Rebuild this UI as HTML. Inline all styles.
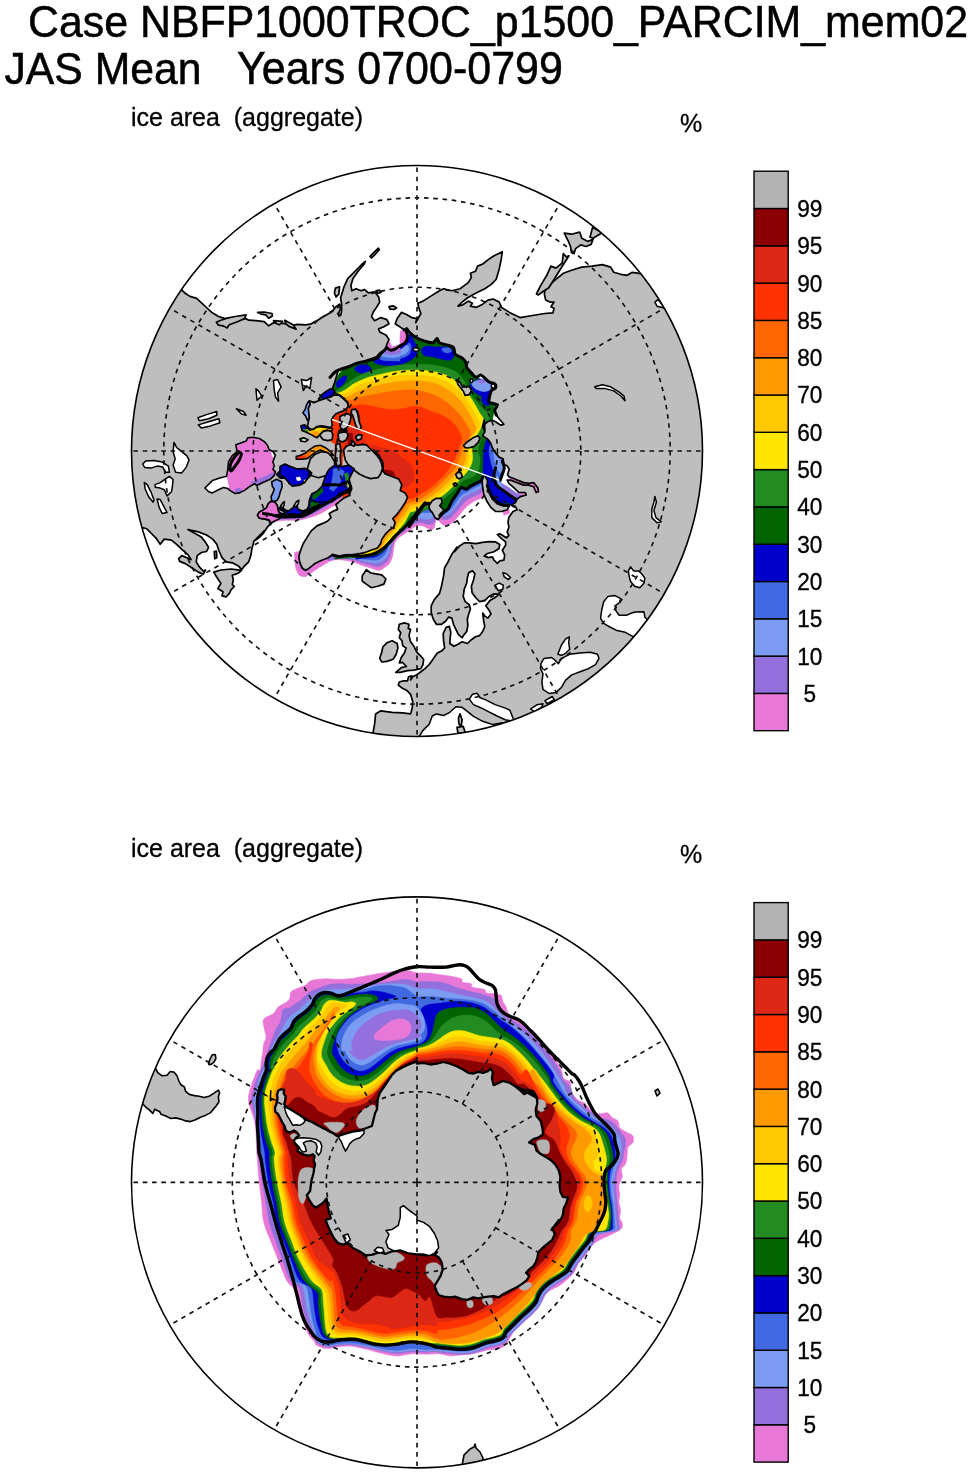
<!DOCTYPE html>
<html><head><meta charset="utf-8"><title>ice area JAS Mean</title>
<style>html,body{margin:0;padding:0;background:#fff}svg{display:block}text{font-family:"Liberation Sans",Arial,Helvetica,sans-serif;fill:#000}</style>
</head><body>
<svg width="971" height="1474" viewBox="0 0 971 1474">
<rect width="971" height="1474" fill="#fff"/>
<g stroke="#000" stroke-width="0.5">
<text transform="translate(28,37.2) scale(1,1.06)" font-size="42.7" textLength="940" lengthAdjust="spacingAndGlyphs">Case NBFP1000TROC_p1500_PARCIM_mem02</text>
<text transform="translate(4.5,84) scale(1,1.06)" font-size="42.7">JAS Mean</text>
<text transform="translate(237,84) scale(1,1.06)" font-size="43">Years 0700-0799</text>
</g>
<text transform="translate(131,125.5) scale(1,1.06)" font-size="25" stroke="#000" stroke-width="0.3" xml:space="preserve">ice area  (aggregate)</text>
<text transform="translate(680,131.5) scale(1,1.04)" font-size="25" stroke="#000" stroke-width="0.3">%</text>

<text transform="translate(131,856.9) scale(1,1.06)" font-size="25" stroke="#000" stroke-width="0.3" xml:space="preserve">ice area  (aggregate)</text>
<text transform="translate(680,862.9) scale(1,1.04)" font-size="25" stroke="#000" stroke-width="0.3">%</text>
<clipPath id="cn"><circle cx="417.0" cy="451.0" r="285.5"/></clipPath>
<g clip-path="url(#cn)">
<circle cx="417.0" cy="451.0" r="287.5" fill="#fff"/>
<path d="M508.9 476.8L515.5 479.0L523.7 482.6L528.6 483.4L533.6 482.6L537.7 487.6L538.5 491.7L536.1 492.5L533.6 486.7L528.6 485.1L523.7 485.1L517.1 482.6L510.5 480.1Z" fill="#e878d8" stroke="#e878d8" stroke-width="0.6"/>
<path d="M518.8 492.5L525.3 492.5L526.2 495.0L520.4 496.6Z" fill="#e878d8" stroke="#e878d8" stroke-width="0.6"/>
<path d="M484.2 492.5C483.9 496.1 482.4 496.9 480.9 498.3C479.3 499.6 477.0 499.7 475.1 500.7C473.2 501.8 471.0 503.1 469.3 504.4C467.7 505.6 466.7 506.6 465.2 508.2C463.7 509.7 461.9 512.0 460.3 513.9C458.6 515.8 457.0 518.0 455.3 519.7C453.7 521.4 452.0 523.2 450.4 524.1C448.7 525.1 446.9 525.6 445.4 525.5C443.9 525.3 442.4 524.4 441.3 523.5C440.2 522.5 438.6 521.6 438.8 519.7C439.1 517.8 439.5 517.9 443.0 512.3C446.4 506.6 452.8 491.8 459.4 485.9C466.0 480.0 478.4 475.8 482.5 476.8C486.6 477.9 484.4 488.9 484.2 492.5Z" fill="#e878d8" stroke="#e878d8" stroke-width="0.5"/>
<path d="M483.3 489.2C482.8 492.1 480.7 493.0 479.2 494.2C477.7 495.3 476.0 495.3 474.3 496.1C472.5 497.0 470.1 498.1 468.5 499.1C466.8 500.1 465.9 500.9 464.4 502.4C462.9 503.9 461.1 506.2 459.4 508.2C457.8 510.1 456.1 512.2 454.5 513.9C452.8 515.7 451.1 517.6 449.5 518.5C448.0 519.5 446.7 519.7 445.4 519.7C444.2 519.7 442.5 519.8 442.1 518.5C441.7 517.3 440.1 517.7 443.0 512.3C445.8 506.8 452.8 491.8 459.4 485.9C466.0 480.0 478.5 476.3 482.5 476.8C486.5 477.4 483.9 486.3 483.3 489.2Z" fill="#9370db" stroke="#9370db" stroke-width="0.5"/>
<path d="M482.5 485.9C481.7 488.1 479.2 489.0 477.6 490.0C475.9 491.1 474.3 491.4 472.6 492.2C471.0 492.9 469.3 493.6 467.7 494.5C466.0 495.4 464.2 496.0 462.7 497.4C461.2 498.9 460.1 501.3 458.6 503.2C457.1 505.1 455.2 507.2 453.7 509.0C452.1 510.8 450.6 512.8 449.2 513.9C447.8 515.0 446.5 515.8 445.4 515.6C444.4 515.3 440.6 517.2 443.0 512.3C445.3 507.3 452.8 491.8 459.4 485.9C466.0 480.0 478.7 476.8 482.5 476.8C486.3 476.8 483.3 483.7 482.5 485.9Z" fill="#7b9cf0" stroke="#7b9cf0" stroke-width="0.5"/>
<path d="M481.7 483.4C480.7 485.1 478.4 485.8 476.7 486.7C475.1 487.7 473.4 488.3 471.8 489.2C470.1 490.1 468.4 491.3 466.8 492.2C465.3 493.0 463.9 493.0 462.4 494.2C460.9 495.3 459.5 497.3 458.1 499.1C456.7 500.9 455.6 502.9 454.2 504.9C452.7 506.8 451.0 509.2 449.5 510.6C448.1 512.1 446.5 513.3 445.4 513.6C444.3 513.9 440.6 516.9 443.0 512.3C445.3 507.7 452.8 491.8 459.4 485.9C466.0 480.0 478.8 477.3 482.5 476.8C486.2 476.4 482.6 481.8 481.7 483.4Z" fill="#4169e1" stroke="#4169e1" stroke-width="0.5"/>
<path d="M502.3 510.3L508.9 509.0L509.7 513.1L503.9 515.2Z" fill="#e878d8" stroke="#e878d8" stroke-width="0.6"/>
<path d="M434.8 525.9C434.0 530.6 431.9 529.2 430.0 529.2C428.1 529.2 425.5 526.5 423.2 525.9C421.0 525.4 418.8 525.2 416.7 525.9C414.5 526.6 412.3 528.6 410.1 530.0C407.9 531.5 405.4 533.2 403.5 534.5C401.5 535.8 399.9 536.5 398.5 537.8C397.2 539.1 396.1 540.5 395.2 542.4C394.4 544.3 394.0 546.8 393.6 549.0C393.2 551.2 393.3 553.4 392.8 555.6C392.2 557.8 391.5 560.2 390.3 562.2C389.1 564.1 387.3 565.7 385.3 567.1C383.4 568.5 381.2 570.3 378.8 570.4C376.3 570.5 373.3 568.8 370.5 567.9C367.8 567.1 365.0 566.4 362.3 565.5C359.5 564.5 356.8 563.0 354.0 562.2C351.3 561.3 348.8 560.9 345.8 560.5C342.8 560.1 338.9 559.4 335.9 559.7C332.9 560.0 330.4 560.9 327.7 562.2C324.9 563.4 322.2 565.5 319.4 567.1C316.7 568.8 313.5 570.5 311.2 572.0C308.9 573.6 307.3 575.6 305.4 576.2C303.5 576.7 301.2 576.6 299.7 575.3C298.1 574.1 297.1 571.2 296.4 568.8C295.7 566.3 295.4 563.0 295.5 560.5C295.7 558.0 293.2 555.3 297.2 553.9C301.2 552.6 307.5 554.2 319.4 552.3C331.4 550.4 355.1 549.5 368.9 542.4C382.6 535.2 390.8 516.3 401.8 509.4C412.8 502.6 429.3 498.4 434.8 501.2C440.3 503.9 435.6 521.2 434.8 525.9Z" fill="#e878d8" stroke="#e878d8" stroke-width="0.5"/>
<path d="M434.8 521.0C433.7 524.8 430.4 524.0 428.2 524.3C426.0 524.5 423.8 522.8 421.6 522.6C419.4 522.5 417.1 522.6 415.0 523.4C412.9 524.3 411.3 526.0 409.2 527.6C407.2 529.1 404.6 531.1 402.6 532.5C400.7 533.9 399.2 534.8 397.7 536.1C396.2 537.5 394.9 538.9 393.9 540.7C393.0 542.6 392.5 545.1 391.9 547.3C391.4 549.5 391.4 551.9 390.8 553.9C390.2 556.0 389.5 558.0 388.3 559.7C387.1 561.4 385.4 563.0 383.7 564.1C382.0 565.3 380.1 566.6 377.9 566.8C375.7 566.9 373.1 565.8 370.5 565.1C367.9 564.5 365.0 563.8 362.3 563.0C359.5 562.2 356.8 560.9 354.0 560.2C351.3 559.5 348.8 559.1 345.8 558.9C342.8 558.6 338.9 558.3 335.9 558.5C332.9 558.8 330.4 561.2 327.7 560.2C324.9 559.1 312.6 555.2 319.4 552.3C326.3 549.3 355.1 549.5 368.9 542.4C382.6 535.2 390.8 516.3 401.8 509.4C412.8 502.6 429.3 499.3 434.8 501.2C440.3 503.1 435.9 517.1 434.8 521.0Z" fill="#9370db" stroke="#9370db" stroke-width="0.5"/>
<path d="M434.8 516.0C433.4 519.0 429.3 519.0 426.5 519.3C423.8 519.6 420.5 517.7 418.3 517.7C416.1 517.7 415.1 518.1 413.4 519.3C411.7 520.6 410.0 523.2 408.1 525.1C406.2 527.0 403.7 529.0 401.8 530.5C400.0 532.1 398.4 533.1 396.9 534.5C395.4 535.9 393.9 537.2 392.8 539.1C391.7 541.0 390.9 543.5 390.3 545.7C389.7 547.8 389.6 550.0 389.0 551.9C388.3 553.9 387.5 555.7 386.3 557.2C385.2 558.7 383.6 559.9 382.0 560.8C380.5 561.8 379.0 562.8 377.1 563.0C375.2 563.2 373.0 562.6 370.5 562.2C368.0 561.8 365.0 561.1 362.3 560.5C359.5 559.9 356.8 559.0 354.0 558.5C351.3 558.0 348.8 557.7 345.8 557.5C342.8 557.4 332.1 560.1 335.9 557.5C339.8 555.0 357.9 550.4 368.9 542.4C379.9 534.4 390.8 516.3 401.8 509.4C412.8 502.6 429.3 500.1 434.8 501.2C440.3 502.3 436.2 513.0 434.8 516.0Z" fill="#7b9cf0" stroke="#7b9cf0" stroke-width="0.5"/>
<path d="M434.8 511.1C433.4 513.0 429.1 512.5 426.5 512.7C423.9 513.0 421.4 511.9 419.1 512.7C416.9 513.6 415.0 516.1 413.0 518.0C411.1 519.9 409.5 522.1 407.6 523.9C405.7 525.8 403.7 527.6 401.8 529.2C399.9 530.9 397.9 532.3 396.2 533.8C394.6 535.3 393.1 536.6 391.9 538.3C390.7 540.0 389.7 542.1 389.0 544.0C388.2 546.0 388.0 548.0 387.3 549.8C386.6 551.6 385.8 553.3 384.7 554.7C383.6 556.2 382.1 557.5 380.7 558.4C379.3 559.3 378.0 559.9 376.3 560.2C374.6 560.4 372.8 560.1 370.5 559.9C368.2 559.6 365.0 559.3 362.3 558.9C359.5 558.5 356.5 557.9 354.0 557.5C351.6 557.2 345.0 559.4 347.4 556.9C349.9 554.4 359.8 550.3 368.9 542.4C377.9 534.5 390.8 516.3 401.8 509.4C412.8 502.6 429.3 500.9 434.8 501.2C440.3 501.5 436.2 509.2 434.8 511.1Z" fill="#4169e1" stroke="#4169e1" stroke-width="0.5"/>
<path d="M434.8 506.1C433.7 506.7 430.4 504.1 428.2 504.5C426.0 504.9 423.7 506.7 421.6 508.6C419.5 510.5 417.7 513.7 415.8 516.0C414.0 518.3 412.2 520.3 410.4 522.3C408.6 524.3 406.6 526.3 404.8 528.1C403.0 529.8 401.1 531.4 399.5 533.0C397.9 534.6 396.8 535.7 395.2 537.4C393.7 539.1 391.7 541.4 390.3 543.2C388.9 545.0 387.9 546.6 386.7 548.2C385.4 549.7 384.6 551.2 382.9 552.6C381.1 554.0 378.3 555.6 376.3 556.4C374.2 557.2 372.8 557.2 370.5 557.5C368.2 557.9 364.7 558.2 362.3 558.2C359.8 558.3 354.6 560.5 355.7 557.9C356.8 555.2 361.2 550.5 368.9 542.4C376.6 534.3 390.8 516.3 401.8 509.4C412.8 502.6 429.3 501.7 434.8 501.2C440.3 500.6 435.9 505.6 434.8 506.1Z" fill="#0000cd" stroke="#0000cd" stroke-width="0.5"/>
<path d="M294.7 552.3L298.8 551.5L299.7 562.2L302.1 567.9L305.4 570.7L310.4 568.8L315.3 565.5L321.1 561.3L326.8 558.9L327.7 562.2L319.4 567.1L311.2 572.9L305.4 576.7L299.3 575.3L296.0 568.8L294.7 560.5Z" fill="#e878d8" stroke="#e878d8" stroke-width="0.6"/>
<path d="M298.3 562.2L301.3 567.9L305.4 571.2L309.5 569.1L308.2 567.4L304.9 569.1L302.3 566.8L300.0 561.8Z" fill="#7b9cf0" stroke="#7b9cf0" stroke-width="0.6"/>
<path d="M263.4 514.4C263.4 515.9 267.8 521.5 270.0 522.6C272.2 523.8 273.8 521.7 276.6 521.3C279.3 520.9 282.9 520.5 286.5 520.3C290.0 520.1 294.4 520.7 298.0 520.3C301.6 519.9 304.9 518.8 307.9 518.0C310.9 517.2 313.4 516.5 316.1 515.4C318.9 514.3 321.6 512.9 324.4 511.4C327.1 509.9 330.1 507.8 332.6 506.5C335.1 505.1 337.4 504.5 339.2 503.2C341.0 501.8 342.0 499.9 343.3 498.2C344.7 496.5 348.7 493.1 347.4 493.0C346.2 492.8 341.7 494.2 335.9 497.1C330.1 500.0 320.3 507.1 312.8 510.3C305.4 513.4 298.6 515.5 291.4 516.0C284.3 516.6 274.7 513.8 270.0 513.6C265.3 513.3 263.4 512.9 263.4 514.4Z" fill="#e878d8" stroke="#e878d8" stroke-width="0.5"/>
<path d="M263.4 514.4C263.4 515.4 267.3 518.8 270.0 519.6C272.7 520.5 276.3 519.4 279.9 519.3C283.5 519.2 287.6 519.2 291.4 519.0C295.3 518.8 299.3 518.9 303.0 518.0C306.6 517.1 309.5 515.5 313.2 513.7C316.8 512.0 320.9 509.7 324.7 507.5C328.6 505.2 333.0 502.4 336.2 500.4C339.5 498.4 344.2 496.0 344.2 495.4C344.1 494.9 341.1 494.6 335.9 497.1C330.7 499.5 320.3 507.1 312.8 510.3C305.4 513.4 298.6 515.5 291.4 516.0C284.3 516.6 274.7 513.8 270.0 513.6C265.3 513.3 263.4 513.4 263.4 514.4Z" fill="#9370db" stroke="#9370db" stroke-width="0.5"/>
<path d="M324.4 485.5C327.4 483.1 326.3 480.6 327.7 478.1C329.0 475.7 331.2 473.2 332.6 470.7C334.0 468.2 334.3 464.5 335.9 463.3C337.6 462.1 340.3 462.2 342.5 463.3C344.7 464.4 348.1 466.9 349.1 469.9C350.1 472.9 348.4 478.2 348.8 481.4C349.1 484.7 351.8 487.5 351.1 489.3C350.3 491.2 346.7 491.1 344.2 492.5C341.6 493.8 338.9 495.6 335.9 497.4C332.9 499.2 329.0 501.2 326.0 503.2C323.0 505.1 320.5 507.3 317.8 508.9C315.0 510.6 312.0 512.0 309.5 513.1C307.1 514.2 305.4 515.0 303.0 515.5C300.5 516.1 297.5 516.4 294.7 516.4C292.0 516.4 289.2 515.6 286.5 515.5C283.7 515.5 281.0 516.2 278.2 516.0C275.5 515.9 272.5 515.3 270.0 514.7C267.5 514.2 264.5 515.0 263.4 512.7C262.3 510.5 260.7 502.8 263.4 501.2C266.2 499.5 274.4 503.1 279.9 502.8C285.4 502.6 291.4 501.2 296.4 499.5C301.3 497.9 304.9 495.3 309.5 493.0C314.2 490.6 321.4 488.0 324.4 485.5Z" fill="#0000cd" stroke="#0000cd" stroke-width="0.5"/>
<path d="M310.4 510.3C309.9 508.8 310.8 502.0 312.0 499.5C313.3 497.1 316.0 497.2 317.8 495.4C319.6 493.6 321.5 489.2 322.7 488.8C324.0 488.4 325.6 490.8 325.2 493.0C324.8 495.1 322.0 499.0 320.3 501.5C318.5 504.1 316.5 506.7 314.8 508.1C313.2 509.6 310.8 511.7 310.4 510.3Z" fill="#006400" stroke="#006400" stroke-width="0.5"/>
<path d="M332.6 481.4C334.3 480.9 337.3 482.2 339.2 483.1C341.1 483.9 342.4 485.3 344.2 486.4C345.9 487.5 349.7 488.5 349.4 489.7C349.1 490.8 344.8 492.2 342.5 493.3C340.3 494.3 337.8 496.0 335.9 495.9C334.0 495.9 332.1 494.5 331.0 493.0C329.9 491.4 329.0 488.3 329.3 486.4C329.6 484.4 331.0 482.0 332.6 481.4Z" fill="#4169e1" stroke="#4169e1" stroke-width="0.5"/>
<path d="M335.9 486.4C337.0 485.7 340.5 487.3 342.5 488.0C344.5 488.7 348.1 489.8 347.8 490.6C347.5 491.5 342.8 493.0 340.9 493.3C338.9 493.6 336.7 493.5 335.9 492.3C335.1 491.1 334.8 487.1 335.9 486.4Z" fill="#7b9cf0" stroke="#7b9cf0" stroke-width="0.5"/>
<path d="M346.1 484.7L350.1 484.7L351.1 489.3L347.8 490.0Z" fill="#ffe600" stroke="#ffe600" stroke-width="0.6"/>
<path d="M333.3 385.7C336.3 381.1 337.1 375.8 339.9 372.5C342.6 369.2 345.9 368.0 349.8 365.9C353.6 363.9 358.6 361.8 363.0 360.1C367.3 358.5 372.3 358.1 376.1 356.0C380.0 354.0 382.7 348.9 386.0 347.8C389.3 346.7 392.3 350.8 395.9 349.4C399.5 348.1 404.7 342.3 407.4 339.5C410.2 336.8 409.9 332.7 412.4 333.0C414.9 333.2 418.4 340.1 422.3 341.2C426.1 342.3 431.1 339.3 435.5 339.5C439.9 339.8 444.5 340.6 448.6 342.8C452.8 345.0 456.9 348.9 460.2 352.7C463.5 356.6 465.4 361.8 468.4 365.9C471.4 370.0 474.7 374.2 478.3 377.4C481.9 380.7 487.3 381.0 490.0 385.7C492.7 390.4 495.5 395.1 494.8 405.5C494.1 415.8 487.6 439.3 485.8 448.0C484.0 456.8 484.5 454.6 484.2 457.9C483.8 461.2 484.1 464.8 483.8 467.8C483.5 470.8 483.8 473.4 482.5 476.0C481.2 478.6 477.8 481.8 475.9 483.4C474.0 485.1 472.6 485.0 471.0 485.9C469.3 486.9 467.7 488.9 466.0 489.2C464.4 489.5 462.5 487.3 461.1 487.9C459.7 488.4 458.9 490.9 457.8 492.5C456.7 494.1 455.6 495.8 454.5 497.4C453.4 499.1 452.3 500.5 451.2 502.4C450.1 504.3 449.3 507.3 447.9 509.0C446.5 510.7 444.3 511.5 443.0 512.6C441.6 513.7 441.0 515.6 439.7 515.6C438.3 515.5 436.6 513.4 434.7 512.3C432.8 511.2 430.3 509.0 428.1 509.0C425.9 509.0 423.5 510.9 421.5 512.3C419.6 513.6 418.5 515.8 416.6 517.2C414.7 518.6 411.8 519.1 410.0 520.5C408.2 521.9 407.4 523.9 405.9 525.6C404.5 527.3 402.8 529.3 401.5 530.9C400.2 532.4 399.4 533.7 398.2 535.1C397.0 536.6 396.0 537.9 394.6 539.4C393.1 541.0 391.1 542.9 389.6 544.4C388.2 545.8 387.3 546.9 386.0 548.3C384.7 549.7 383.5 551.5 381.7 552.6C380.0 553.7 377.8 554.4 375.6 555.1C373.5 555.7 371.1 556.1 368.9 556.6C366.6 557.0 364.5 557.4 362.3 557.5C360.1 557.7 357.9 557.5 355.7 557.5C353.5 557.6 351.3 557.8 349.1 557.9C346.9 558.0 344.7 558.2 342.5 558.2C340.3 558.2 331.0 560.7 335.9 557.7C340.8 554.7 370.5 549.6 372.0 540.0C373.5 530.4 352.8 511.7 345.0 500.0C337.2 488.3 329.5 481.7 325.0 470.0C320.5 458.3 318.5 441.7 318.0 430.0C317.5 418.3 319.5 407.4 322.0 400.0C324.5 392.6 330.3 390.3 333.3 385.7Z" fill="#006400" stroke="#006400" stroke-width="0.5"/>
<path d="M354.7 368.4C355.1 367.3 357.7 365.6 359.7 365.1C361.6 364.5 364.3 364.5 366.3 365.1C368.2 365.6 370.5 367.1 371.2 368.4C371.9 369.6 371.7 371.7 370.4 372.5C369.0 373.3 365.2 373.5 363.0 373.3C360.8 373.2 358.6 372.5 357.2 371.7C355.8 370.9 354.3 369.5 354.7 368.4Z" fill="#0000cd" stroke="#0000cd" stroke-width="0.5"/>
<path d="M336.6 382.4C337.3 380.7 339.9 378.5 341.5 377.4C343.2 376.3 345.8 375.2 346.5 375.8C347.2 376.3 346.5 379.1 345.7 380.7C344.8 382.4 342.9 384.6 341.5 385.7C340.2 386.8 338.2 387.9 337.4 387.3C336.6 386.8 335.9 384.0 336.6 382.4Z" fill="#0000cd" stroke="#0000cd" stroke-width="0.5"/>
<path d="M373.7 361.0C374.2 359.7 377.6 357.4 379.4 356.0C381.2 354.7 383.1 354.0 384.4 352.7C385.6 351.5 384.9 349.2 386.8 348.6C388.8 348.1 392.9 350.3 395.9 349.4C398.9 348.6 402.9 345.5 405.0 343.7C407.0 341.9 407.5 340.3 408.3 338.7C409.0 337.2 408.7 334.4 409.4 334.3C410.1 334.1 411.5 336.5 412.4 337.9C413.3 339.3 414.0 340.9 414.9 342.8C415.7 344.8 417.2 347.2 417.3 349.4C417.5 351.6 417.1 354.1 415.7 356.0C414.3 357.9 411.6 359.6 409.1 361.0C406.6 362.3 403.6 363.4 400.9 364.3C398.1 365.1 395.6 365.8 392.6 365.9C389.6 366.0 385.5 365.5 382.7 365.1C380.0 364.7 377.6 364.1 376.1 363.4C374.6 362.8 373.1 362.2 373.7 361.0Z" fill="#0000cd" stroke="#0000cd" stroke-width="0.5"/>
<path d="M421.5 349.4C422.0 347.9 424.9 346.5 427.2 346.1C429.6 345.7 432.4 346.8 435.5 347.0C438.5 347.1 442.6 346.5 445.3 347.0C448.1 347.4 450.6 347.9 451.9 349.4C453.3 350.9 453.9 354.2 453.6 356.0C453.3 357.8 452.2 359.6 450.3 360.1C448.4 360.7 445.1 359.9 442.0 359.3C439.0 358.8 435.2 357.5 432.2 356.8C429.1 356.2 425.7 356.4 423.9 355.2C422.1 354.0 420.9 350.9 421.5 349.4Z" fill="#0000cd" stroke="#0000cd" stroke-width="0.5"/>
<path d="M470.1 384.0C470.3 382.4 473.1 381.6 475.0 380.7C476.9 379.9 479.4 378.8 481.6 379.1C483.8 379.4 486.7 381.3 488.2 382.4C489.7 383.5 489.8 382.9 490.7 385.7C491.5 388.4 494.1 396.9 493.1 398.9C492.2 400.8 487.4 397.9 484.9 397.2C482.4 396.5 480.2 395.8 478.3 394.7C476.4 393.6 474.7 392.4 473.4 390.6C472.0 388.8 469.8 385.7 470.1 384.0Z" fill="#0000cd" stroke="#0000cd" stroke-width="0.5"/>
<path d="M481.6 397.2C482.4 396.4 487.0 397.5 488.2 398.9C489.4 400.2 489.8 404.6 489.0 405.5C488.2 406.3 484.5 405.2 483.2 403.8C482.0 402.4 480.8 398.0 481.6 397.2Z" fill="#0000cd" stroke="#0000cd" stroke-width="0.5"/>
<path d="M379.4 356.8C380.4 356.0 383.3 355.1 386.0 354.4C388.8 353.7 392.9 353.6 395.9 352.7C398.9 351.9 402.0 351.1 404.2 349.4C406.3 347.8 407.9 343.1 409.1 342.8C410.2 342.6 411.1 345.9 411.1 347.8C411.1 349.7 410.5 352.7 409.1 354.4C407.7 356.0 405.0 356.7 402.5 357.7C400.0 358.6 397.0 359.6 394.3 360.1C391.5 360.6 388.4 360.8 386.0 360.6C383.7 360.5 381.4 360.0 380.3 359.3C379.2 358.7 378.5 357.7 379.4 356.8Z" fill="#4169e1" stroke="#4169e1" stroke-width="0.5"/>
<path d="M381.1 355.2C381.1 354.2 384.7 352.7 387.7 351.9C390.7 351.1 396.0 351.4 399.2 350.3C402.4 349.2 405.0 345.6 406.6 345.3C408.2 345.0 408.9 347.2 408.8 348.6C408.6 350.0 407.7 352.3 405.8 353.6C403.9 354.8 400.6 355.3 397.6 356.0C394.5 356.7 390.4 357.8 387.7 357.7C384.9 357.5 381.1 356.2 381.1 355.2Z" fill="#7b9cf0" stroke="#7b9cf0" stroke-width="0.5"/>
<path d="M385.2 351.4C386.6 350.6 393.4 349.8 395.9 349.8C398.4 349.7 400.0 350.4 400.0 351.1C400.0 351.7 398.0 353.1 395.9 353.7C393.9 354.3 389.5 355.3 387.7 354.9C385.9 354.5 383.8 352.3 385.2 351.4Z" fill="#9370db" stroke="#9370db" stroke-width="0.5"/>
<path d="M442.0 348.6C442.9 347.9 447.0 347.4 448.6 347.8C450.2 348.2 451.7 350.2 451.6 351.1C451.5 352.0 449.1 352.9 447.8 353.1C446.5 353.2 444.7 352.6 443.7 351.9C442.7 351.2 441.2 349.3 442.0 348.6Z" fill="#4169e1" stroke="#4169e1" stroke-width="0.5"/>
<path d="M471.7 383.2C472.2 382.1 474.7 381.3 476.7 380.7C478.6 380.2 481.2 379.5 483.2 379.9C485.3 380.3 487.8 381.7 489.0 383.2C490.2 384.7 491.3 387.6 490.7 389.0C490.0 390.4 487.0 391.2 484.9 391.5C482.8 391.7 480.2 391.0 478.3 390.3C476.4 389.6 474.8 388.5 473.7 387.3C472.6 386.2 471.2 384.3 471.7 383.2Z" fill="#7b9cf0" stroke="#7b9cf0" stroke-width="0.5"/>
<path d="M477.5 380.7C477.6 380.1 481.0 379.3 482.4 379.4C483.8 379.6 485.9 380.9 485.7 381.6C485.6 382.2 483.0 383.4 481.6 383.2C480.2 383.1 477.3 381.4 477.5 380.7Z" fill="#9370db" stroke="#9370db" stroke-width="0.5"/>
<path d="M381.3 353.2L392.1 354.7L400.0 353.2L400.0 360.9L393.7 360.9L385.9 360.1L379.0 358.6Z" fill="#4169e1" stroke="#4169e1" stroke-width="0.6"/>
<path d="M383.2 353.2L392.1 354.7L400.0 353.2L400.0 356.6L392.1 357.8L381.3 356.3Z" fill="#7b9cf0" stroke="#7b9cf0" stroke-width="0.6"/>
<path d="M385.2 349.3L392.1 351.6L400.0 349.3L400.0 353.2L392.1 354.7L383.2 353.2Z" fill="#9370db" stroke="#9370db" stroke-width="0.6"/>
<path d="M388.3 339.3L392.1 347.0L400.0 344.7L400.0 349.3L392.1 351.6L385.2 349.3Z" fill="#e878d8" stroke="#e878d8" stroke-width="0.6"/>
<path d="M400.9 330.5C402.0 329.1 405.5 330.1 406.6 331.3C407.7 332.5 407.7 335.9 407.4 337.9C407.2 339.9 406.1 341.9 405.0 343.2C403.9 344.5 401.7 346.4 400.9 345.8C400.0 345.2 400.0 342.1 400.0 339.5C400.0 337.0 399.8 331.9 400.9 330.5Z" fill="#e878d8" stroke="#e878d8" stroke-width="0.5"/>
<path d="M487.4 438.9C488.8 438.9 491.0 445.7 492.4 448.0C493.8 450.3 494.4 451.3 495.7 453.0C496.9 454.6 498.4 456.5 499.8 457.9C501.2 459.3 503.1 459.5 503.9 461.2C504.7 462.8 505.0 465.6 504.7 467.8C504.5 470.0 503.1 472.3 502.3 474.4C501.5 476.4 499.8 478.2 499.8 480.1C499.8 482.1 500.8 484.1 502.3 485.9C503.8 487.7 506.7 489.2 508.9 490.9C511.1 492.5 513.3 494.7 515.5 495.8C517.7 496.9 521.8 496.6 522.0 497.4C522.3 498.3 519.0 499.5 517.1 500.7C515.2 502.0 513.0 503.9 510.5 504.9C508.0 505.8 504.7 506.6 502.3 506.5C499.8 506.4 497.6 505.5 495.7 504.0C493.8 502.5 492.1 499.9 490.7 497.4C489.4 495.0 488.4 492.0 487.4 489.2C486.5 486.5 485.7 483.4 485.0 481.0C484.3 478.5 483.6 478.2 483.3 474.4C483.1 470.5 483.2 462.3 483.3 457.9C483.5 453.5 483.5 451.2 484.2 448.0C484.8 444.9 486.1 438.9 487.4 438.9Z" fill="#0000cd" stroke="#0000cd" stroke-width="0.5"/>
<path d="M490.7 444.7C491.8 445.0 494.2 450.8 495.7 453.0C497.2 455.2 498.5 456.4 499.8 457.9C501.1 459.4 502.9 460.4 503.6 462.0C504.3 463.7 504.6 465.7 504.3 467.8C503.9 469.8 502.3 472.7 501.5 474.4C500.6 476.0 499.9 477.4 499.0 477.7C498.0 477.9 496.6 477.4 495.7 476.0C494.7 474.7 494.0 471.9 493.2 469.4C492.4 467.0 491.4 464.2 490.7 461.2C490.1 458.2 489.1 454.1 489.1 451.3C489.1 448.6 489.6 444.4 490.7 444.7Z" fill="#4169e1" stroke="#4169e1" stroke-width="0.5"/>
<path d="M494.0 451.3C494.9 450.8 498.3 456.4 499.8 458.2C501.3 460.1 502.5 460.9 503.1 462.5C503.7 464.1 504.0 466.1 503.6 467.8C503.2 469.5 501.7 472.5 500.6 472.7C499.6 473.0 498.3 471.4 497.3 469.4C496.4 467.5 495.4 464.2 494.9 461.2C494.3 458.2 493.2 451.8 494.0 451.3Z" fill="#7b9cf0" stroke="#7b9cf0" stroke-width="0.5"/>
<path d="M493.2 476.0C493.9 475.2 497.5 476.4 499.0 477.7C500.5 478.9 500.6 481.8 502.3 483.4C503.9 485.1 506.7 486.0 508.9 487.6C511.1 489.1 513.5 491.3 515.5 492.5C517.4 493.7 520.1 494.2 520.4 495.0C520.7 495.8 518.8 497.5 517.1 497.4C515.5 497.4 512.6 495.6 510.5 494.5C508.5 493.3 506.7 491.9 504.7 490.5C502.8 489.2 500.6 487.6 499.0 486.2C497.3 484.9 495.8 484.3 494.9 482.6C493.9 480.9 492.5 476.8 493.2 476.0Z" fill="#7b9cf0" stroke="#7b9cf0" stroke-width="0.5"/>
<path d="M502.3 484.6C502.9 484.2 506.7 486.5 508.9 487.9C511.1 489.3 513.6 491.6 515.5 492.8C517.3 494.0 519.8 494.4 520.1 495.1C520.3 495.9 518.6 497.3 517.1 497.1C515.6 497.0 512.8 495.3 510.8 494.2C508.9 493.0 506.7 491.8 505.2 490.2C503.8 488.6 501.7 485.0 502.3 484.6Z" fill="#9370db" stroke="#9370db" stroke-width="0.5"/>
<path d="M491.6 497.4C492.0 496.9 495.3 500.5 497.3 501.6C499.4 502.7 502.0 503.8 503.9 504.0C505.8 504.3 508.3 502.8 508.9 503.2C509.4 503.6 508.6 505.8 507.2 506.5C505.8 507.2 502.7 507.6 500.6 507.3C498.6 507.1 496.4 506.5 494.9 504.9C493.4 503.2 491.2 498.0 491.6 497.4Z" fill="#006400" stroke="#006400" stroke-width="0.5"/>
<path d="M339.9 389.0C345.1 385.5 348.7 381.8 353.1 379.1C357.5 376.3 361.6 374.3 366.3 372.5C370.9 370.7 376.1 369.5 381.1 368.4C386.0 367.2 390.7 366.3 395.9 365.6C401.1 364.9 406.9 364.4 412.4 364.3C417.9 364.1 423.4 364.0 428.9 364.6C434.4 365.1 440.7 366.2 445.3 367.6C450.0 368.9 453.6 370.0 456.9 372.5C460.2 375.0 462.6 378.5 465.1 382.4C467.6 386.2 469.5 392.0 471.7 395.6C473.9 399.1 476.1 401.3 478.3 403.8C480.5 406.3 482.9 408.5 484.9 410.4C486.8 412.3 491.1 409.1 490.0 415.3C488.9 421.6 480.0 440.9 478.4 448.0C476.7 455.1 479.9 454.6 480.0 457.9C480.2 461.2 479.9 465.0 479.2 467.8C478.5 470.5 477.3 472.7 475.9 474.4C474.5 476.0 472.9 476.7 471.0 477.7C469.0 478.6 466.3 479.0 464.4 480.1C462.5 481.2 461.1 482.8 459.4 484.3C457.8 485.8 456.0 487.7 454.5 489.2C453.0 490.7 452.3 491.7 450.4 493.3C448.4 495.0 445.6 497.2 443.0 499.1C440.3 501.0 437.6 503.1 434.7 504.9C431.8 506.6 428.7 508.3 425.7 509.8C422.6 511.3 419.2 512.8 416.6 513.9C414.0 515.0 411.9 514.7 410.0 516.4C408.1 518.1 407.0 521.7 405.4 523.9C403.9 526.1 402.2 527.9 400.8 529.5C399.5 531.2 398.7 532.4 397.5 533.8C396.4 535.2 395.5 536.6 394.1 538.1C392.7 539.6 390.5 541.6 389.1 543.0C387.7 544.5 386.9 545.6 385.7 547.0C384.4 548.4 383.2 550.3 381.6 551.5C379.9 552.6 377.7 553.3 375.6 553.9C373.5 554.6 371.1 555.0 368.9 555.4C366.6 555.8 364.5 556.2 362.3 556.4C360.1 556.6 357.9 556.3 355.7 556.4C353.5 556.5 346.4 559.5 349.1 556.7C351.8 554.0 372.7 549.5 372.0 540.0C371.3 530.5 352.8 511.7 345.0 500.0C337.2 488.3 329.5 481.7 325.0 470.0C320.5 458.3 318.5 441.7 318.0 430.0C317.5 418.3 318.4 406.8 322.0 400.0C325.6 393.2 334.7 392.5 339.9 389.0Z" fill="#228b22" stroke="#228b22" stroke-width="0.5"/>
<path d="M342.4 391.5C347.8 388.7 350.5 385.5 354.7 383.2C359.0 380.9 363.5 379.0 367.9 377.4C372.3 375.9 376.4 375.2 381.1 374.2C385.8 373.1 390.7 371.9 395.9 371.2C401.1 370.5 406.9 370.1 412.4 370.0C417.9 370.0 423.6 370.2 428.9 370.9C434.1 371.5 439.3 372.5 443.7 374.2C448.1 375.8 451.8 378.3 455.2 380.7C458.7 383.2 461.4 385.7 464.3 389.0C467.2 392.3 470.1 396.7 472.5 400.5C475.0 404.4 477.3 408.5 479.1 412.0C480.9 415.6 484.3 416.8 483.2 421.9C482.2 427.1 474.5 438.4 472.6 443.1C470.7 447.7 471.8 447.3 471.8 449.7C471.8 452.0 472.7 454.6 472.6 457.1C472.5 459.5 472.3 462.0 471.3 464.5C470.3 467.0 468.6 469.6 466.8 471.9C465.1 474.2 463.1 476.3 461.1 478.5C459.0 480.7 456.7 483.0 454.5 485.1C452.3 487.2 450.2 489.2 447.9 491.2C445.6 493.2 443.1 495.2 440.5 497.1C437.9 499.0 435.1 500.7 432.2 502.4C429.4 504.1 426.3 505.8 423.2 507.3C420.0 508.8 415.5 510.6 413.3 511.5C411.1 512.3 411.4 510.8 410.0 512.6C408.6 514.4 406.4 519.7 404.8 522.3C403.2 524.8 401.5 526.2 400.2 527.9C398.9 529.5 398.0 530.7 396.9 532.2C395.8 533.6 395.0 535.1 393.6 536.6C392.2 538.2 390.0 540.1 388.6 541.6C387.3 543.1 386.6 544.2 385.3 545.7C384.1 547.1 382.9 549.1 381.2 550.3C379.6 551.5 377.5 551.9 375.5 552.6C373.4 553.3 371.1 553.8 368.9 554.3C366.7 554.7 364.5 555.1 362.3 555.2C360.1 555.4 357.9 555.2 355.7 555.2C353.5 555.3 346.4 558.1 349.1 555.6C351.8 553.0 372.7 549.3 372.0 540.0C371.3 530.7 352.8 511.7 345.0 500.0C337.2 488.3 329.5 481.7 325.0 470.0C320.5 458.3 318.5 441.7 318.0 430.0C317.5 418.3 317.9 406.4 322.0 400.0C326.1 393.6 336.9 394.2 342.4 391.5Z" fill="#ffe600" stroke="#ffe600" stroke-width="0.5"/>
<path d="M344.0 393.9C349.7 391.7 352.1 388.6 356.4 386.5C360.6 384.4 365.2 382.9 369.5 381.6C373.9 380.2 378.1 379.2 382.7 378.3C387.4 377.3 392.6 376.3 397.6 375.8C402.5 375.2 407.4 375.0 412.4 375.0C417.3 375.0 422.6 375.1 427.2 375.8C431.9 376.5 436.3 377.6 440.4 379.1C444.5 380.6 448.4 382.4 451.9 384.9C455.5 387.3 458.8 390.5 461.8 393.9C464.8 397.4 467.6 401.6 470.1 405.5C472.5 409.3 475.1 413.4 476.7 417.0C478.2 420.6 480.8 422.5 479.1 426.9C477.5 431.2 468.7 439.3 466.8 443.1C465.0 446.9 467.6 447.5 468.0 449.7C468.4 451.9 469.0 453.9 469.0 456.3C468.9 458.6 468.7 461.3 467.7 463.7C466.7 466.0 464.7 468.1 463.1 470.3C461.4 472.5 459.8 474.7 457.8 476.8C455.8 479.0 453.3 481.4 451.2 483.4C449.1 485.5 447.5 487.3 445.4 489.2C443.4 491.1 441.3 493.2 438.8 495.0C436.4 496.8 433.5 498.3 430.6 499.9C427.7 501.6 424.7 503.4 421.5 504.9C418.4 506.4 413.6 508.2 411.6 509.0C409.7 509.8 410.4 509.5 410.0 509.8C409.6 510.2 410.2 509.6 409.2 511.1C408.3 512.5 405.9 516.2 404.3 518.5C402.6 520.7 400.6 522.9 399.4 524.6C398.1 526.3 397.6 527.4 396.5 528.9C395.5 530.3 394.6 531.8 393.3 533.3C391.9 534.9 390.0 536.6 388.6 538.3C387.3 539.9 386.4 541.7 385.3 543.2C384.3 544.7 383.5 546.0 382.5 547.3C381.6 548.6 381.0 550.1 379.6 551.0C378.1 551.8 375.1 554.4 373.8 552.6C372.5 550.8 376.8 548.8 372.0 540.0C367.2 531.2 352.8 511.7 345.0 500.0C337.2 488.3 329.5 481.7 325.0 470.0C320.5 458.3 318.5 441.7 318.0 430.0C317.5 418.3 317.7 406.0 322.0 400.0C326.3 394.0 338.3 396.2 344.0 393.9Z" fill="#ffc800" stroke="#ffc800" stroke-width="0.5"/>
<path d="M345.7 397.2C351.7 395.8 353.8 393.1 358.0 391.5C362.3 389.8 366.8 388.6 371.2 387.3C375.6 386.1 379.7 385.0 384.4 384.0C389.0 383.1 394.5 382.1 399.2 381.6C403.9 381.0 408.0 380.7 412.4 380.7C416.8 380.7 421.2 380.9 425.6 381.6C430.0 382.3 434.6 383.2 438.8 384.9C442.9 386.5 446.7 388.8 450.3 391.5C453.9 394.1 457.2 397.1 460.2 400.5C463.2 403.9 466.1 408.2 468.4 412.0C470.7 415.9 473.1 420.3 474.2 423.6C475.3 426.9 476.6 428.3 475.0 431.8C473.4 435.3 466.0 441.7 464.4 444.7C462.7 447.7 464.9 447.7 465.2 449.7C465.5 451.6 466.2 454.1 466.0 456.3C465.9 458.4 465.3 460.6 464.4 462.8C463.4 465.0 461.9 467.4 460.3 469.4C458.6 471.5 456.4 473.3 454.5 475.2C452.6 477.1 450.6 479.0 448.7 481.0C446.8 482.9 445.0 484.8 443.0 486.7C440.9 488.7 438.7 490.7 436.4 492.5C434.0 494.3 431.7 495.8 428.9 497.4C426.2 499.1 423.0 501.0 419.9 502.4C416.7 503.8 411.9 504.8 410.0 505.7C408.1 506.6 409.5 506.2 408.4 507.8C407.3 509.4 405.1 512.9 403.5 515.2C401.8 517.5 399.8 519.5 398.5 521.3C397.2 523.1 396.5 524.4 395.6 525.9C394.6 527.4 394.1 528.9 392.8 530.5C391.5 532.1 389.2 533.8 387.8 535.5C386.4 537.1 385.5 538.8 384.5 540.4C383.6 542.1 383.0 543.9 382.0 545.4C381.1 546.8 380.4 550.2 378.8 549.3C377.1 548.4 377.6 548.2 372.0 540.0C366.4 531.8 352.8 511.7 345.0 500.0C337.2 488.3 329.5 481.7 325.0 470.0C320.5 458.3 318.5 441.7 318.0 430.0C317.5 418.3 317.4 405.5 322.0 400.0C326.6 394.5 339.7 398.6 345.7 397.2Z" fill="#ff9900" stroke="#ff9900" stroke-width="0.5"/>
<path d="M348.1 400.5C354.4 400.1 355.5 398.2 359.7 397.2C363.8 396.3 368.4 395.6 372.8 394.7C377.2 393.9 381.6 393.0 386.0 392.3C390.4 391.6 394.8 391.0 399.2 390.6C403.6 390.2 408.0 389.5 412.4 389.8C416.8 390.1 421.2 391.0 425.6 392.3C430.0 393.5 434.6 395.0 438.8 397.2C442.9 399.4 446.7 402.4 450.3 405.5C453.9 408.5 457.4 412.0 460.2 415.3C462.9 418.6 465.1 422.1 466.8 425.2C468.5 428.4 471.2 430.2 470.4 434.3C469.6 438.4 463.7 445.7 461.9 449.7C460.1 453.6 460.4 455.2 459.4 457.9C458.5 460.6 457.5 463.7 456.1 466.1C454.8 468.6 453.0 470.7 451.2 472.7C449.4 474.8 447.3 476.6 445.4 478.5C443.5 480.4 441.7 482.3 439.7 484.3C437.6 486.2 435.3 488.2 433.1 490.0C430.9 491.8 428.9 493.3 426.5 495.0C424.0 496.6 421.0 498.7 418.2 499.9C415.5 501.2 411.9 501.8 410.0 502.4C408.1 503.0 408.0 502.4 406.8 503.7C405.5 505.0 404.0 508.2 402.6 510.3C401.3 512.3 399.8 514.2 398.5 516.0C397.3 517.8 396.2 519.5 395.2 521.0C394.3 522.5 396.6 521.9 392.8 525.1C388.9 528.3 380.0 544.2 372.0 540.0C364.0 535.8 352.8 511.7 345.0 500.0C337.2 488.3 329.5 481.7 325.0 470.0C320.5 458.3 318.5 441.7 318.0 430.0C317.5 418.3 317.0 404.9 322.0 400.0C327.0 395.1 341.8 401.0 348.1 400.5Z" fill="#ff6600" stroke="#ff6600" stroke-width="0.5"/>
<path d="M351.4 405.5C358.2 406.2 358.8 404.4 363.0 404.6C367.1 404.9 371.7 406.3 376.1 407.1C380.5 407.9 384.9 409.3 389.3 409.6C393.7 409.9 398.1 409.3 402.5 408.8C406.9 408.2 411.3 406.0 415.7 406.3C420.1 406.6 424.5 408.9 428.9 410.4C433.3 411.9 438.2 413.4 442.0 415.3C445.9 417.3 449.2 419.5 451.9 421.9C454.7 424.4 456.9 427.2 458.5 430.2C460.2 433.2 461.9 436.8 461.8 440.1C461.7 443.3 459.0 446.4 457.8 449.7C456.6 452.9 455.9 456.5 454.5 459.5C453.1 462.6 451.2 465.3 449.5 467.8C447.9 470.3 446.3 472.5 444.6 474.4C443.0 476.3 441.3 477.7 439.7 479.3C438.0 481.0 436.6 482.6 434.7 484.3C432.8 485.9 430.3 487.7 428.1 489.2C425.9 490.7 423.7 492.0 421.5 493.3C419.3 494.7 416.9 496.5 414.9 497.4C413.0 498.4 411.4 498.9 410.0 499.1C408.6 499.3 407.7 497.8 406.8 498.7C405.8 499.6 405.4 502.4 404.3 504.5C403.2 506.5 401.5 509.0 400.2 511.1C398.8 513.1 397.4 515.2 396.1 516.8C394.7 518.5 395.9 517.1 391.9 521.0C387.9 524.8 379.8 543.5 372.0 540.0C364.2 536.5 352.8 511.7 345.0 500.0C337.2 488.3 329.5 481.7 325.0 470.0C320.5 458.3 318.5 441.7 318.0 430.0C317.5 418.3 316.4 404.1 322.0 400.0C327.6 395.9 344.6 404.7 351.4 405.5Z" fill="#ff3200" stroke="#ff3200" stroke-width="0.5"/>
<path d="M376.6 446.5C379.7 447.9 382.7 447.4 385.9 448.6C389.2 449.8 393.1 452.0 396.2 453.7C399.3 455.4 402.0 457.0 404.4 458.9C406.9 460.8 409.1 462.6 410.6 465.0C412.2 467.4 413.4 470.5 413.7 473.3C414.1 476.0 413.5 479.5 412.7 481.5C411.8 483.6 410.3 484.6 408.6 485.6C406.9 486.7 405.1 488.0 402.4 487.7C399.6 487.4 395.5 485.6 392.1 483.6C388.7 481.5 385.2 478.1 381.8 475.3C378.4 472.6 375.6 469.2 371.5 467.1C367.4 465.0 361.5 464.7 357.1 463.0C352.6 461.3 347.8 459.6 344.7 456.8C341.6 454.1 339.2 451.3 338.5 446.5C337.9 441.7 338.9 432.1 340.6 428.0C342.3 423.9 345.7 421.8 348.8 421.8C351.9 421.8 356.0 424.9 359.1 428.0C362.2 431.1 364.5 437.2 367.4 440.3C370.3 443.4 373.6 445.1 376.6 446.5Z" fill="#dc2814" stroke="#dc2814" stroke-width="0.5"/>
<path d="M383.9 470.2C385.4 469.5 390.3 470.3 392.1 471.2C393.9 472.2 395.1 474.6 394.6 475.8C394.0 477.0 391.0 478.5 389.0 478.4C387.0 478.4 383.7 476.7 382.8 475.3C382.0 474.0 382.3 470.9 383.9 470.2Z" fill="#8b0000" stroke="#8b0000" stroke-width="0.5"/>
<path d="M344.7 430.0C346.6 427.6 352.6 430.0 355.0 432.1C357.4 434.2 359.0 439.0 359.1 442.4C359.3 445.8 357.8 450.3 356.0 452.7C354.3 455.1 350.9 457.8 348.8 456.8C346.8 455.8 344.4 451.0 343.7 446.5C343.0 442.0 342.8 432.4 344.7 430.0Z" fill="#8b0000" stroke="#8b0000" stroke-width="0.5"/>
<path d="M181.8 290.2L185.5 293.5L190.0 296.4L196.6 298.4L200.7 302.1L206.5 307.5L212.3 312.8L218.5 316.5L225.0 318.6L235.3 317.6L245.6 318.6L248.7 320.2L255.9 320.7L264.2 321.7L268.7 325.8L273.5 322.7L284.8 323.7L291.0 325.8L297.1 324.4L305.4 324.8L310.5 324.2L314.6 321.7L320.0 319.0L320.0 318.6L327.2 314.5L332.4 311.4L335.4 307.3L339.6 304.2L340.6 308.3L338.5 313.5L340.6 315.5L341.6 311.4L341.6 304.2L340.6 298.0L343.7 287.7L347.8 278.4L354.0 272.3L361.2 265.0L365.3 261.3L364.3 264.0L358.1 271.2L353.0 278.4L350.9 285.6L351.9 290.8L356.0 288.7L361.2 290.8L364.3 289.4L368.4 292.9L374.6 291.8L378.7 297.0L379.7 302.1L376.6 307.3L373.6 311.4L371.5 316.5L374.6 320.7L380.8 317.6L386.9 319.6L389.0 323.7L383.9 326.8L378.7 328.9L379.7 332.0L385.9 335.1L389.0 339.2L386.9 344.3L385.5 348.5L382.9 351.6L379.0 357.8L373.6 360.1L365.9 360.9L358.1 363.2L350.4 365.8L342.7 367.8L338.1 370.2L336.5 376.3L334.7 382.5L332.6 387.9L335.6 393.6L339.3 394.8L344.3 398.5L348.0 402.9L347.4 408.4L349.2 410.9L354.2 409.0L357.2 410.9L359.1 417.1L360.3 423.3L361.6 428.8L359.1 430.1L362.2 434.4L361.6 439.3L365.3 441.8L369.0 445.5L373.9 450.4L378.9 455.4L382.6 461.6L383.2 467.7L382.6 473.9L375.5 468.2L367.2 466.9L359.0 466.3L352.4 467.4L347.4 471.5L345.0 481.4L340.9 484.7L332.6 484.7L324.4 484.7L321.1 493.0L316.1 495.4L312.0 493.8L309.5 499.5L308.7 506.1L307.1 509.4L303.0 511.1L298.0 509.4L296.4 502.8L293.1 507.8L288.1 511.1L284.0 509.4L281.5 504.5L279.1 509.4L276.6 507.8L286.5 512.7L281.6 513.9L278.5 511.5L277.2 505.3L274.2 501.6L270.4 501.6L268.0 504.0L266.7 507.7L263.0 510.2L259.3 512.1L257.5 515.2L259.3 518.2L264.3 518.9L269.2 520.1L271.1 523.2L268.0 526.3L265.5 530.0L263.0 533.7L259.3 537.4L255.6 540.0L264.2 530.9L258.0 537.1L253.9 541.2L251.8 549.4L250.8 555.6L248.7 561.8L244.6 565.9L241.5 569.6L238.4 565.9L232.3 562.8L226.1 561.8L222.0 557.7L218.9 550.5L216.8 544.3L212.7 539.1L206.5 535.0L198.3 531.9L188.0 529.5L194.2 533.0L201.4 537.1L205.5 542.2L208.6 547.4L206.5 551.5L201.4 552.5L197.2 555.6L196.2 561.8L199.3 566.9L203.4 571.1L205.5 570.0L203.4 574.2L198.3 572.1L192.1 568.0L185.9 563.9L179.7 561.4L178.7 558.7L181.8 555.6L186.9 557.7L191.1 559.7L188.0 554.6L181.8 549.4L176.6 544.3L171.5 540.2L164.3 539.1L160.2 544.3L156.0 538.1L150.9 533.0L146.8 528.8L143.1 527.8L100.0 600.0L60.0 451.0L120.0 250.0Z" fill="#bebebe" stroke="#000" stroke-width="1.7" stroke-linejoin="round"/>
<path d="M415.8 322.7L420.9 313.5L418.9 308.3L417.8 303.2L423.0 301.1L431.2 295.9L439.5 290.8L443.6 288.7L451.8 290.8L460.1 288.7L464.2 285.6L468.3 282.6L471.4 277.4L470.4 273.3L475.5 271.2L477.6 266.1L482.7 264.0L487.9 259.9L494.0 255.8L502.3 251.7L501.3 258.9L499.2 269.2L496.1 279.5L491.0 284.6L484.8 288.7L478.6 291.8L472.4 294.9L467.3 298.0L462.1 302.1L458.0 306.2L462.1 305.2L468.3 301.1L472.4 303.2L470.4 306.2L476.5 307.3L482.7 304.2L487.9 300.1L493.0 299.0L499.2 302.1L501.3 307.3L509.5 312.4L520.0 317.6L520.0 317.6L532.4 315.5L544.7 313.5L553.0 312.8L554.0 308.3L550.9 306.7L554.0 302.1L549.9 302.1L545.7 300.1L544.3 293.9L545.7 288.7L550.9 283.6L557.1 278.4L563.3 273.3L571.5 270.2L581.8 267.1L592.1 266.1L602.4 264.6L610.6 267.1L613.7 272.3L620.9 274.3L627.1 275.3L632.3 272.3L640.5 273.7L720.0 250.0L770.0 451.0L720.0 700.0L560.0 800.0L417.0 790.0L370.0 760.0L373.1 732.4L374.6 724.2L375.6 713.9L380.8 710.8L392.1 712.3L402.4 712.9L410.6 713.9L412.3 707.7L412.7 701.5L410.6 694.3L406.5 690.2L402.4 688.2L398.3 685.1L399.3 682.0L403.4 680.9L407.5 680.9L408.6 676.8L411.7 675.8L410.6 679.9L412.7 676.8L416.8 674.8L420.9 671.7L425.0 668.6L429.2 664.5L432.3 660.3L434.3 657.3L437.4 653.1L441.5 651.1L444.6 648.0L443.6 640.8L443.2 633.6L446.1 627.4L449.4 626.4L450.8 632.5L450.2 637.7L449.8 643.5L453.9 646.3L458.0 644.3L462.1 641.8L467.3 643.5L471.4 639.7L475.5 636.7L479.6 635.6L482.7 631.5L484.8 626.4L483.7 621.2L482.7 613.0L484.8 616.1L487.9 618.1L491.0 614.0L488.9 609.9L485.8 605.8L489.9 600.6L495.1 597.5L499.2 594.4L494.0 593.8L488.9 596.5L484.8 600.6L479.6 601.6L475.5 597.5L472.0 592.4L471.4 586.2L473.5 580.0L474.9 573.8L472.4 570.7L468.7 572.8L467.3 578.0L466.7 583.1L464.2 589.3L463.2 596.5L465.2 601.6L469.3 604.7L470.4 608.9L468.7 614.0L467.3 619.2L467.9 625.3L466.7 631.5L464.2 634.6L462.1 637.7L458.4 634.6L455.9 629.4L453.5 624.3L451.8 618.1L448.7 617.1L445.6 621.2L441.5 624.3L436.4 624.3L433.3 619.2L431.2 613.0L431.2 605.8L434.3 599.6L439.5 593.4L441.5 586.2L443.6 575.9L444.6 567.7L447.7 562.5L451.8 554.3L457.0 547.1L454.5 551.8L459.4 546.1L464.4 542.8L469.3 542.8L475.9 543.6L482.5 542.3L489.1 541.6L495.7 541.9L499.8 544.4L499.0 548.5L494.0 551.8L487.4 553.5L484.2 555.9L488.3 557.6L492.4 556.8L494.0 560.1L497.3 563.4L499.8 560.9L503.9 560.1L504.7 555.1L502.3 550.2L505.6 545.2L505.6 541.9L501.5 538.6L497.3 534.5L499.8 533.7L502.3 535.3L506.4 537.8L508.9 535.3L507.2 532.0L508.9 527.1L508.0 522.2L508.9 517.2L513.0 511.5L517.1 509.8L515.5 506.5L511.3 504.9L515.5 502.4L517.1 499.1L520.4 496.6L526.2 495.0L525.3 492.5L518.8 492.5L513.8 487.6L508.9 483.4L507.2 480.1L510.5 480.1L517.1 482.6L523.7 485.1L528.6 485.1L533.6 486.7L536.1 492.5L538.5 491.7L537.7 487.6L533.6 482.6L528.6 483.4L523.7 482.6L515.5 479.3L508.9 476.8L507.5 474.4L509.2 469.4L507.2 465.8L503.9 464.5L503.1 458.7L499.0 457.1L495.7 453.0L492.4 448.0L490.7 443.1L487.4 438.9L482.5 435.7L485.0 431.5L482.5 426.6L484.2 420.0L484.9 430.1L484.0 425.1L487.3 421.8L492.3 420.2L495.6 421.8L500.5 425.1L503.8 424.3L498.9 418.5L496.4 415.2L494.7 410.3L497.2 405.3L493.9 403.7L489.0 402.0L489.8 395.5L491.5 390.5L495.6 388.0L494.7 383.9L489.8 382.3L485.7 379.0L480.7 374.9L475.8 377.3L470.9 372.4L466.7 367.4L465.9 362.5L462.6 358.4L455.2 354.3L453.6 347.7L447.8 345.2L439.5 342.7L437.1 338.6L433.0 342.7L424.7 341.1L416.5 337.8L409.9 332.8L406.6 328.7L406.5 331.0L401.4 327.9L395.2 323.7L397.2 318.6L401.4 312.4L406.5 314.5L411.7 317.6L416.8 318.6Z" fill="#bebebe" stroke="#000" stroke-width="1.7" stroke-linejoin="round"/>
<path d="M213.7 572.1L220.9 570.0L231.2 569.0L241.5 570.4L238.4 573.1L232.3 575.2L233.3 580.3L232.3 584.4L234.3 586.5L231.2 589.6L229.2 593.7L226.1 596.8L222.0 595.8L223.0 591.7L217.8 588.6L220.9 583.4L216.8 577.2Z" fill="#bebebe" stroke="#000" stroke-width="1.7" stroke-linejoin="round"/>
<path d="M214.3 551.5L216.4 551.1L216.8 557.7L214.7 558.7Z" fill="#bebebe" stroke="#000" stroke-width="1.7" stroke-linejoin="round"/>
<path d="M216.4 322.3L220.9 320.2L227.1 318.2L235.3 316.5L246.1 314.9L244.6 318.6L237.4 321.7L229.2 324.8L227.1 327.9L223.0 325.8L218.5 325.2Z" fill="#bebebe" stroke="#000" stroke-width="1.7" stroke-linejoin="round"/>
<path d="M257.6 312.4L264.2 312.0L272.0 313.5L272.4 316.1L268.7 318.2L265.8 314.9L261.1 314.1Z" fill="#bebebe" stroke="#000" stroke-width="1.7" stroke-linejoin="round"/>
<path d="M273.5 320.7L282.7 321.3L279.6 324.8L276.5 323.7Z" fill="#bebebe" stroke="#000" stroke-width="1.7" stroke-linejoin="round"/>
<path d="M284.8 320.2L293.0 324.8L296.1 329.3L288.9 326.4L285.8 323.7Z" fill="#bebebe" stroke="#000" stroke-width="1.7" stroke-linejoin="round"/>
<path d="M335.4 288.1L339.6 286.7L338.9 293.9L336.1 297.0L334.4 292.9Z" fill="#bebebe" stroke="#000" stroke-width="1.7" stroke-linejoin="round"/>
<path d="M389.0 306.7L393.1 305.8L396.6 307.9L394.2 309.5L390.0 309.1Z" fill="#bebebe" stroke="#000" stroke-width="1.7" stroke-linejoin="round"/>
<path d="M376.0 290.8L379.7 290.2L381.0 292.2L377.7 293.5Z" fill="#bebebe" stroke="#000" stroke-width="1.7" stroke-linejoin="round"/>
<path d="M370.1 256.4L374.0 252.3L378.3 248.2L379.3 249.6L375.2 254.3L371.5 258.0Z" fill="#bebebe" stroke="#000" stroke-width="1.7" stroke-linejoin="round"/>
<path d="M536.5 293.9L540.6 285.6L546.8 275.3L550.9 266.1L556.0 268.1L562.2 263.0L563.3 253.7L566.3 256.8L569.0 255.8L564.3 263.0L559.1 271.2L554.0 279.5L548.8 287.7L542.7 291.8L538.5 294.9Z" fill="#bebebe" stroke="#000" stroke-width="1.7" stroke-linejoin="round"/>
<path d="M564.3 233.1L571.5 234.2L579.7 232.1L581.8 238.3L588.0 241.4L593.1 239.3L591.1 244.4L585.9 246.5L580.8 244.9L575.6 248.6L574.0 253.7L571.5 252.7L570.5 246.5L568.4 241.4L566.3 237.2Z" fill="#bebebe" stroke="#000" stroke-width="1.7" stroke-linejoin="round"/>
<path d="M590.0 237.2L592.5 227.6L602.4 232.5L597.2 235.8L593.1 238.3Z" fill="#bebebe" stroke="#000" stroke-width="1.7" stroke-linejoin="round"/>
<path d="M362.2 575.9L366.3 569.7L370.5 572.8L375.6 573.8L381.8 574.9L385.9 579.0L383.9 584.1L377.7 586.2L371.5 587.8L366.3 584.1L362.2 581.0Z" fill="#bebebe" stroke="#000" stroke-width="1.7" stroke-linejoin="round"/>
<path d="M379.7 658.3L381.8 652.1L382.8 647.0L386.9 642.8L392.1 640.8L397.2 643.5L397.9 648.0L396.2 654.2L393.1 659.3L386.9 661.4L381.8 662.0Z" fill="#bebebe" stroke="#000" stroke-width="1.7" stroke-linejoin="round"/>
<path d="M399.3 624.3L404.4 622.9L409.0 624.3L408.2 628.4L410.6 629.4L409.0 635.6L410.6 641.8L413.7 645.9L416.8 652.1L420.9 656.2L423.6 659.3L423.0 664.5L420.9 668.6L413.7 670.2L407.5 670.6L400.3 672.3L395.8 672.3L401.4 667.6L406.5 666.5L402.4 662.4L399.3 662.8L401.4 657.3L404.4 653.1L406.1 648.0L402.8 645.9L402.0 640.8L399.3 637.7L400.7 632.5L398.3 629.4Z" fill="#bebebe" stroke="#000" stroke-width="1.7" stroke-linejoin="round"/>
<path d="M352.4 468.2L359.0 471.5L367.2 472.4L375.5 471.5L382.0 469.9L385.3 474.0L391.9 476.5L398.5 478.9L401.8 484.7L400.2 490.5L405.1 493.0L407.6 497.1L405.1 502.8L401.8 507.8L396.9 514.4L392.8 518.5L395.2 522.6L393.6 527.6L389.5 530.0L385.3 534.2L382.0 539.1L380.4 544.0L377.1 548.2L372.2 549.8L365.6 552.3L359.0 553.9L352.4 554.7L345.8 555.6L339.2 556.4L332.6 554.7L327.7 558.0L321.1 560.5L314.5 563.8L309.5 567.9L305.4 570.4L302.1 567.9L299.7 562.2L298.8 556.4L300.5 550.6L303.0 544.0L307.1 537.4L311.2 530.9L317.0 525.9L322.7 523.4L327.7 521.0L331.0 517.7L329.3 513.6L333.4 511.1L337.6 509.4L335.9 504.5L340.0 501.2L344.2 497.9L349.1 495.4L350.7 491.3L349.1 486.4L347.4 481.4L349.1 476.5L350.7 471.5Z" fill="#bebebe" stroke="#000" stroke-width="1.7" stroke-linejoin="round"/>
<path d="M481.7 476.8L485.0 476.0L487.4 480.1L487.4 485.9L489.1 492.5L492.4 499.1L497.3 504.0L503.1 505.7L508.9 506.5L507.2 509.8L501.5 511.5L495.7 511.5L490.7 507.3L486.6 500.7L483.8 494.2L482.5 485.9Z" fill="#bebebe" stroke="#000" stroke-width="1.7" stroke-linejoin="round"/>
<path d="M428.9 505.7L432.2 500.7L436.4 498.3L441.3 498.3L442.1 502.4L439.7 505.7L443.0 509.0L444.6 512.3L441.3 515.6L438.0 519.7L434.7 517.2L432.2 512.3L429.8 509.8Z" fill="#bebebe" stroke="#000" stroke-width="1.7" stroke-linejoin="round"/>
<path d="M463.6 445.5L466.8 442.2L472.6 438.1L477.6 435.7L480.0 438.1L478.4 442.2L474.3 446.4L468.5 448.0L465.2 447.7Z" fill="#bebebe" stroke="#000" stroke-width="1.7" stroke-linejoin="round"/>
<path d="M456.8 379.8L460.1 382.3L462.6 387.2L469.2 386.4L471.7 390.5L469.2 394.6L465.1 395.5L463.4 391.3L460.1 387.2L457.7 383.9Z" fill="#bebebe" stroke="#000" stroke-width="1.7" stroke-linejoin="round"/>
<path d="M455.8 474.4L458.1 471.9L461.1 473.1L462.4 476.8L459.4 479.0L457.0 477.7Z" fill="#bebebe" stroke="#000" stroke-width="1.7" stroke-linejoin="round"/>
<path d="M453.2 483.9L455.5 482.9L457.1 484.9L454.8 486.2Z" fill="#bebebe" stroke="#000" stroke-width="1.7" stroke-linejoin="round"/>
<path d="M458.8 469.4L460.4 468.8L461.1 470.4L459.4 471.1Z" fill="#bebebe" stroke="#000" stroke-width="1.7" stroke-linejoin="round"/>
<path d="M330.6 410.0L350.1 404.9L355.6 408.2L364.9 431.3L373.2 449.9L364.9 444.3L351.9 442.5L343.6 449.9L341.7 468.4L334.3 468.4L335.2 444.3L329.7 440.6L331.1 425.8Z" fill="#ff3200" stroke="#ff3200" stroke-width="0.6"/>
<path d="M344.5 428.6L357.5 428.6L364.9 442.5L357.5 459.2L346.3 459.2L343.6 449.9L345.4 440.6Z" fill="#dc2814" stroke="#dc2814" stroke-width="0.6"/>
<path d="M348.2 433.2L352.1 433.2L353.0 440.6L350.5 451.7L348.2 444.3Z" fill="#8b0000" stroke="#8b0000" stroke-width="0.6"/>
<path d="M330.6 410.0L338.9 408.2L337.1 412.8L332.4 416.5Z" fill="#ff6600" stroke="#ff6600" stroke-width="0.6"/>
<path d="M300.9 425.8L304.6 424.9L307.4 428.1L310.2 430.4L313.9 428.6L318.5 426.7L324.1 427.2L329.7 428.1L332.6 428.6L331.5 431.3L326.9 430.4L323.2 431.3L319.5 435.1L316.7 437.8L312.0 435.1L308.3 433.2L305.1 431.8L301.9 430.4Z" fill="#ffc800"/>
<path d="M300.9 425.8L304.6 424.9L307.2 428.1L305.1 429.5L301.9 428.7Z" fill="#0000cd" stroke="#0000cd" stroke-width="0.6"/>
<path d="M301.9 428.9L305.1 429.7L307.9 430.4L308.3 432.7L305.1 431.8L302.0 430.4Z" fill="#228b22" stroke="#228b22" stroke-width="0.6"/>
<path d="M311.1 432.7L314.8 431.3L318.5 432.3L318.5 435.5L316.7 437.6L312.5 435.1Z" fill="#ff9900" stroke="#ff9900" stroke-width="0.6"/>
<path d="M313.9 428.7L318.5 426.9L322.2 427.2L321.3 429.0L316.7 430.4Z" fill="#ffe600" stroke="#ffe600" stroke-width="0.6"/>
<path d="M300.9 425.8L304.6 424.9L307.4 428.1L310.2 430.4L313.9 428.6L318.5 426.7L324.1 427.2L329.7 428.1L332.6 428.6L331.5 431.3L326.9 430.4L323.2 431.3L319.5 435.1L316.7 437.8L312.0 435.1L308.3 433.2L305.1 431.8L301.9 430.4L300.9 425.8" fill="none" stroke="#000" stroke-width="1.6" stroke-linejoin="round" stroke-linecap="round"/>
<path d="M300.0 438.8L303.7 437.8L308.3 439.7L305.6 441.7L300.9 441.2Z" fill="#228b22"/>
<path d="M302.8 439.2L306.5 439.7L305.1 441.0L302.8 440.6Z" fill="#fff" stroke="#fff" stroke-width="0.6"/>
<path d="M300.0 438.8L303.7 437.8L308.3 439.7L305.6 441.7L300.9 441.2L300.0 438.8" fill="none" stroke="#000" stroke-width="1.6" stroke-linejoin="round" stroke-linecap="round"/>
<path d="M296.3 456.4L300.0 455.4L304.6 453.6L309.3 449.9L314.8 446.2L320.4 445.2L326.0 448.0L330.6 451.7L333.6 455.6L330.6 454.7L325.0 451.9L320.4 450.1L315.8 451.9L311.1 455.6L307.4 458.4L302.8 459.3L296.3 459.2Z" fill="#ff9900"/>
<path d="M296.3 456.4L300.0 455.4L304.6 453.6L308.8 450.3L310.2 452.7L307.4 458.2L302.8 459.3L296.3 459.2Z" fill="#ff6600" stroke="#ff6600" stroke-width="0.6"/>
<path d="M296.3 456.8L301.9 455.9L305.6 456.4L302.8 459.2L296.3 459.2Z" fill="#ff3200" stroke="#ff3200" stroke-width="0.6"/>
<path d="M296.3 456.4L300.0 455.4L304.6 453.6L309.3 449.9L314.8 446.2L320.4 445.2L326.0 448.0L330.6 451.7L333.6 455.6L330.6 454.7L325.0 451.9L320.4 450.1L315.8 451.9L311.1 455.6L307.4 458.4L302.8 459.3L296.3 459.2L296.3 456.4" fill="none" stroke="#000" stroke-width="1.6" stroke-linejoin="round" stroke-linecap="round"/>
<path d="M302.8 412.8L305.1 409.6L306.3 405.4L308.3 401.5L310.4 402.6L315.6 402.4L315.8 404.6L310.4 405.2L309.3 407.7L308.8 412.8L309.3 417.6L307.4 420.4L305.6 416.1Z" fill="#7b9cf0"/>
<path d="M310.4 402.8L315.6 402.6L315.7 404.5L310.6 404.9Z" fill="#fff" stroke="#fff" stroke-width="0.6"/>
<path d="M308.2 412.8L309.1 413.0L309.3 417.4L307.8 419.8Z" fill="#fff" stroke="#fff" stroke-width="0.6"/>
<path d="M302.8 412.8L305.1 409.6L306.3 405.4L308.3 401.5L310.4 402.6L315.6 402.4L315.8 404.6L310.4 405.2L309.3 407.7L308.8 412.8L309.3 417.6L307.4 420.4L305.6 416.1L302.8 412.8" fill="none" stroke="#000" stroke-width="1.6" stroke-linejoin="round" stroke-linecap="round"/>
<path d="M318.5 398.9L321.3 395.2L326.0 391.5L330.6 388.7L334.5 390.6L333.6 394.3L329.7 397.0L324.3 399.1L320.6 400.9Z" fill="#0000cd"/>
<path d="M318.5 398.9L320.9 397.0L322.2 399.8L320.4 400.9Z" fill="#006400" stroke="#006400" stroke-width="0.6"/>
<path d="M318.5 398.9L321.3 395.2L326.0 391.5L330.6 388.7L334.5 390.6L333.6 394.3L329.7 397.0L324.3 399.1L320.6 400.9L318.5 398.9" fill="none" stroke="#000" stroke-width="1.6" stroke-linejoin="round" stroke-linecap="round"/>
<path d="M319.9 404.9L321.8 402.6L322.7 405.9L320.9 408.2Z" fill="#fff"/>
<path d="M319.9 404.9L321.8 402.6L322.7 405.9L320.9 408.2L319.9 404.9" fill="none" stroke="#000" stroke-width="1.6" stroke-linejoin="round" stroke-linecap="round"/>
<path d="M309.3 400.8L313.9 402.6L318.5 400.8L324.1 398.9L330.6 397.0L333.4 395.2L338.9 395.2L343.6 398.9L347.3 402.6L348.2 406.3L345.4 410.0L340.8 411.9L336.1 413.7L333.4 416.5L331.5 420.2L332.4 424.9L330.6 427.6L326.0 426.7L321.3 425.8L316.7 426.7L313.0 429.5L309.3 428.6L307.4 425.8L308.3 422.1L309.3 417.4L308.8 412.8L308.3 408.2L310.2 404.5Z" fill="#bebebe" stroke="#000" stroke-width="1.7" stroke-linejoin="round"/>
<path d="M351.9 409.6L355.6 409.1L357.5 412.8L358.4 417.4L359.3 422.1L361.2 426.7L360.2 430.0L357.5 428.6L355.6 424.9L354.2 420.2L352.8 415.6L351.0 412.8Z" fill="#bebebe" stroke="#000" stroke-width="1.7" stroke-linejoin="round"/>
<path d="M339.9 416.5L343.6 414.7L348.2 413.7L351.0 415.6L350.5 420.2L349.1 423.9L347.3 427.6L343.6 429.5L340.8 428.6L339.9 423.9Z" fill="#bebebe" stroke="#000" stroke-width="1.7" stroke-linejoin="round"/>
<path d="M338.0 434.1L340.8 432.3L346.3 431.8L348.2 435.1L346.3 439.7L342.6 442.0L338.9 440.6Z" fill="#bebebe" stroke="#000" stroke-width="1.7" stroke-linejoin="round"/>
<path d="M355.6 436.9L358.4 434.6L362.1 435.1L361.2 438.8L357.5 440.6Z" fill="#bebebe" stroke="#000" stroke-width="1.7" stroke-linejoin="round"/>
<path d="M319.5 435.1L323.2 431.3L327.8 430.4L331.5 431.3L332.9 435.1L332.0 439.7L327.8 440.6L323.2 439.7Z" fill="#bebebe" stroke="#000" stroke-width="1.7" stroke-linejoin="round"/>
<path d="M343.6 449.9L346.3 446.2L351.9 444.3L357.5 445.2L363.0 444.3L366.7 445.2L370.4 449.0L373.2 451.7L376.9 455.4L379.7 459.2L381.6 463.8L382.5 468.4L380.6 474.0L377.9 477.7L370.4 478.6L364.9 476.8L359.3 474.0L355.6 471.2L351.9 468.4L348.2 464.7L345.4 460.1L344.3 455.4Z" fill="#bebebe" stroke="#000" stroke-width="1.7" stroke-linejoin="round"/>
<path d="M336.1 444.3L339.9 443.4L340.8 449.9L340.3 457.3L340.8 464.7L337.1 466.6L335.2 459.2L335.7 449.9Z" fill="#bebebe" stroke="#000" stroke-width="1.7" stroke-linejoin="round"/>
<path d="M310.2 459.2L314.8 454.5L321.3 451.7L327.8 452.7L331.5 456.4L334.3 461.0L335.2 466.6L332.4 471.2L327.8 475.0L318.5 477.7L309.3 475.0L307.4 468.4Z" fill="#bebebe" stroke="#000" stroke-width="1.7" stroke-linejoin="round"/>
<path d="M340.8 429.5L343.6 430.4L346.3 429.5L346.8 431.3L343.6 431.8L341.2 431.3Z" fill="#bebebe" stroke="#000" stroke-width="1.7" stroke-linejoin="round"/>
<path d="M351.9 440.6L354.7 442.5L354.2 446.2L351.4 445.2Z" fill="#bebebe" stroke="#000" stroke-width="1.7" stroke-linejoin="round"/>
<path d="M204.9 488.0L212.4 480.6L219.8 478.1L226.6 476.2L227.8 469.4L228.4 462.0L232.1 455.8L237.1 451.5L235.8 444.7L240.8 442.9L246.3 441.0L247.6 437.9L253.1 437.3L259.3 438.5L264.3 441.6L267.4 445.3L269.2 449.7L272.9 451.5L275.4 455.2L274.2 458.3L272.9 462.0L274.2 465.7L272.9 469.4L275.4 471.9L274.2 475.6L270.4 479.3L267.4 480.6L261.8 483.0L256.8 485.5L254.4 483.6L249.4 486.7L244.5 490.4L239.5 492.9L235.2 493.5L230.9 491.1L227.8 488.6L223.5 487.4L218.5 489.8L212.4 492.9L208.7 491.7Z" fill="#e878d8"/>
<path d="M204.9 488.0L212.4 480.6L219.8 478.1L226.6 476.5L227.4 481.8L229.0 487.4L223.5 487.4L218.5 489.8L212.4 492.9L208.7 491.7Z" fill="#fff" stroke="#fff" stroke-width="0.6"/>
<path d="M271.1 450.9L273.2 451.8L275.4 455.5L274.2 458.3L272.3 455.8Z" fill="#fff" stroke="#fff" stroke-width="0.6"/>
<path d="M250.7 482.4L255.6 480.6L261.8 478.1L267.4 475.6L272.9 472.5L274.8 475.0L270.7 479.1L267.4 480.6L261.8 483.0L256.8 485.5L254.4 483.6Z" fill="#9370db" stroke="#9370db" stroke-width="0.6"/>
<path d="M235.2 489.2L239.5 488.0L242.6 491.1L239.5 492.9L235.6 493.4Z" fill="#9370db" stroke="#9370db" stroke-width="0.6"/>
<path d="M204.9 488.0L212.4 480.6L219.8 478.1L226.6 476.2L227.8 469.4L228.4 462.0L232.1 455.8L237.1 451.5L235.8 444.7L240.8 442.9L246.3 441.0L247.6 437.9L253.1 437.3L259.3 438.5L264.3 441.6L267.4 445.3L269.2 449.7L272.9 451.5L275.4 455.2L274.2 458.3L272.9 462.0L274.2 465.7L272.9 469.4L275.4 471.9L274.2 475.6L270.4 479.3L267.4 480.6L261.8 483.0L256.8 485.5L254.4 483.6L249.4 486.7L244.5 490.4L239.5 492.9L235.2 493.5L230.9 491.1L227.8 488.6L223.5 487.4L218.5 489.8L212.4 492.9L208.7 491.7L204.9 488.0" fill="none" stroke="#000" stroke-width="1.6" stroke-linejoin="round" stroke-linecap="round"/>
<path d="M271.7 481.8L276.6 479.3L281.6 481.8L282.2 486.7L280.3 491.7L279.1 496.6L277.2 500.3L274.2 501.6L271.7 500.9L271.1 496.6L272.9 492.9L274.2 489.2L272.3 486.1Z" fill="#7b9cf0"/>
<path d="M271.7 481.8L276.6 479.3L281.6 481.8L282.2 486.7L280.3 491.7L279.1 496.6L277.2 500.3L274.2 501.6L271.7 500.9L271.1 496.6L272.9 492.9L274.2 489.2L272.3 486.1L271.7 481.8" fill="none" stroke="#000" stroke-width="1.6" stroke-linejoin="round" stroke-linecap="round"/>
<path d="M270.4 501.6L274.2 501.6L277.2 505.3L278.5 511.5L281.6 516.4L279.1 518.9L274.2 521.3L271.1 523.2L269.2 520.1L264.3 518.9L259.3 518.2L257.5 515.2L259.3 512.1L263.0 510.2L266.7 507.7L268.0 504.0Z" fill="#e878d8"/>
<path d="M270.4 501.6L274.2 501.6L277.2 505.3L278.5 511.5L281.6 516.4L279.1 518.9L274.2 521.3L271.1 523.2L269.2 520.1L264.3 518.9L259.3 518.2L257.5 515.2L259.3 512.1L263.0 510.2L266.7 507.7L268.0 504.0L270.4 501.6" fill="none" stroke="#000" stroke-width="1.6" stroke-linejoin="round" stroke-linecap="round"/>
<path d="M276.6 474.4L281.6 469.4L285.3 464.5L291.5 467.0L297.6 469.4L302.6 468.8L307.5 469.4L311.8 473.1L309.4 476.8L306.3 479.3L303.8 483.0L298.9 485.5L293.9 485.5L289.0 483.6L287.7 479.3L284.0 478.1L280.3 478.1Z" fill="#0000cd"/>
<path d="M297.6 479.3L300.7 478.7L301.3 481.2L298.2 481.8Z" fill="#fff" stroke="#fff" stroke-width="0.6"/>
<path d="M305.0 470.7L310.0 471.3L311.2 473.8L307.5 474.4Z" fill="#4169e1" stroke="#4169e1" stroke-width="0.6"/>
<path d="M276.6 474.4L281.6 469.4L285.3 464.5L291.5 467.0L297.6 469.4L302.6 468.8L307.5 469.4L311.8 473.1L309.4 476.8L306.3 479.3L303.8 483.0L298.9 485.5L293.9 485.5L289.0 483.6L287.7 479.3L284.0 478.1L280.3 478.1L276.6 474.4" fill="none" stroke="#000" stroke-width="1.6" stroke-linejoin="round" stroke-linecap="round"/>
<path d="M280.6 507.1L282.6 503.0L284.5 501.6L284.0 505.3L281.8 509.0Z" fill="#fff"/>
<path d="M280.6 507.1L282.6 503.0L284.5 501.6L284.0 505.3L281.8 509.0L280.6 507.1" fill="none" stroke="#000" stroke-width="1.6" stroke-linejoin="round" stroke-linecap="round"/>
<path d="M293.9 505.9L296.4 501.8L298.9 500.3L298.2 504.0L295.4 507.1Z" fill="#fff"/>
<path d="M293.9 505.9L296.4 501.8L298.9 500.3L298.2 504.0L295.4 507.1L293.9 505.9" fill="none" stroke="#000" stroke-width="1.6" stroke-linejoin="round" stroke-linecap="round"/>
<path d="M280.0 466.5L284.9 464.0L289.9 466.5L297.3 469.0L304.7 468.4L309.7 471.5L308.4 477.6L304.7 482.6L298.5 485.0L292.4 486.3L288.7 482.6L283.7 476.4L280.0 475.2Z" fill="#0000cd"/>
<path d="M296.1 477.6L299.8 477.0L301.0 480.1L297.3 480.7Z" fill="#fff" stroke="#fff" stroke-width="0.6"/>
<path d="M304.1 480.1L306.2 479.9L306.2 482.0L304.5 482.1Z" fill="#ffe600" stroke="#ffe600" stroke-width="0.6"/>
<path d="M280.0 466.5L284.9 464.0L289.9 466.5L297.3 469.0L304.7 468.4L309.7 471.5L308.4 477.6L304.7 482.6L298.5 485.0L292.4 486.3L288.7 482.6L283.7 476.4L280.0 475.2L280.0 466.5" fill="none" stroke="#000" stroke-width="1.6" stroke-linejoin="round" stroke-linecap="round"/>
<path d="M329.4 469.0L334.4 465.3L341.8 466.5L349.2 465.3L354.2 469.0L351.7 473.9L349.2 478.9L350.4 485.0L349.2 488.8L344.3 491.2L339.3 493.7L334.4 500.0L330.7 502.3L317.1 502.3L309.7 500.0L312.1 493.7L317.1 491.2L322.0 486.3L324.5 478.9L327.0 472.7Z" fill="#0000cd"/>
<path d="M333.1 469.0L339.3 468.4L344.3 471.5L341.8 478.9L338.1 486.3L333.1 491.2L329.4 488.8L331.9 481.3L333.1 473.9Z" fill="#4169e1" stroke="#4169e1" stroke-width="0.6"/>
<path d="M344.3 473.9L348.0 472.7L349.2 478.9L349.8 485.0L347.4 487.5L346.1 481.3Z" fill="#228b22" stroke="#228b22" stroke-width="0.6"/>
<path d="M347.4 482.6L349.5 482.3L349.9 486.5L348.0 487.3Z" fill="#ffe600" stroke="#ffe600" stroke-width="0.6"/>
<path d="M312.1 496.2L317.1 491.8L322.0 487.5L323.3 491.2L318.3 496.2L313.4 500.0Z" fill="#006400" stroke="#006400" stroke-width="0.6"/>
<path d="M329.4 469.0L334.4 465.3L341.8 466.5L349.2 465.3L354.2 469.0L351.7 473.9L349.2 478.9L350.4 485.0L349.2 488.8L344.3 491.2L339.3 493.7L334.4 500.0L330.7 502.3L317.1 502.3L309.7 500.0L312.1 493.7L317.1 491.2L322.0 486.3L324.5 478.9L327.0 472.7L329.4 469.0" fill="none" stroke="#000" stroke-width="1.6" stroke-linejoin="round" stroke-linecap="round"/>
<path d="M142.7 464.0L145.7 460.9L154.0 460.5L162.2 462.0L168.4 466.1L169.4 472.3L165.7 472.3L162.8 467.1L157.1 466.1L150.9 468.1L144.7 467.5Z" fill="#fff" stroke="#000" stroke-width="1.5" stroke-linejoin="round"/>
<path d="M174.0 442.4L176.6 447.5L181.8 451.7L186.9 455.8L189.0 459.9L186.3 467.1L181.8 472.9L175.6 472.3L173.1 465.0L175.2 458.9L173.1 451.7Z" fill="#fff" stroke="#000" stroke-width="1.5" stroke-linejoin="round"/>
<path d="M155.0 484.6L160.2 482.6L166.3 478.4L169.4 476.4L173.1 479.5L172.5 485.6L171.5 491.8L167.0 495.9L164.3 489.8L160.2 488.1L155.4 487.3Z" fill="#fff" stroke="#000" stroke-width="1.5" stroke-linejoin="round"/>
<path d="M144.3 482.6L147.2 484.6L150.9 491.8L154.0 500.1L153.0 502.1L148.8 497.0L145.1 488.7Z" fill="#fff" stroke="#000" stroke-width="1.5" stroke-linejoin="round"/>
<path d="M157.1 499.0L160.2 499.6L164.3 507.3L167.0 512.4L162.2 513.5L159.1 507.3Z" fill="#fff" stroke="#000" stroke-width="1.5" stroke-linejoin="round"/>
<path d="M197.9 417.7L206.5 414.6L216.8 411.5L216.8 415.2L208.6 418.7L199.3 420.8Z" fill="#fff" stroke="#000" stroke-width="1.5" stroke-linejoin="round"/>
<path d="M198.3 424.9L208.6 421.8L218.9 418.7L219.9 422.8L210.6 425.9L201.4 428.0Z" fill="#fff" stroke="#000" stroke-width="1.5" stroke-linejoin="round"/>
<path d="M236.4 408.8L243.6 411.5L246.1 415.2L241.5 414.0Z" fill="#fff" stroke="#000" stroke-width="1.5" stroke-linejoin="round"/>
<path d="M255.9 388.8L258.4 390.9L261.7 396.0L257.0 400.2Z" fill="#fff" stroke="#000" stroke-width="1.5" stroke-linejoin="round"/>
<path d="M273.5 380.6L277.6 379.6L281.1 386.8L277.6 393.0L278.6 401.2L275.5 397.1L274.1 388.8Z" fill="#fff" stroke="#000" stroke-width="1.5" stroke-linejoin="round"/>
<path d="M301.3 379.6L306.4 380.6L311.6 377.5L309.9 388.8L306.4 385.7L303.3 390.5Z" fill="#fff" stroke="#000" stroke-width="1.5" stroke-linejoin="round"/>
<path d="M594.6 386.8L602.4 384.7L610.6 386.8L618.9 391.9L624.0 396.0L625.0 400.8L620.9 396.0L613.7 390.9L604.4 388.4L596.2 388.4Z" fill="#fff" stroke="#000" stroke-width="1.5" stroke-linejoin="round"/>
<path d="M654.9 496.4L656.4 502.1L653.9 510.4L655.9 517.6L661.1 521.7L657.0 522.7L651.8 517.6L651.8 509.3L653.9 502.1Z" fill="#fff" stroke="#000" stroke-width="1.5" stroke-linejoin="round"/>
<path d="M540.9 663.6L544.0 658.4L551.2 657.4L554.3 659.5L558.4 663.6L561.5 658.4L569.7 654.3L580.0 652.9L590.3 652.3L597.5 654.3L599.0 658.4L595.5 664.6L588.3 668.7L580.0 671.8L571.8 674.9L565.6 680.1L561.5 687.3L556.3 692.4L549.1 693.5L543.0 689.3L541.9 682.1L543.0 673.9L540.5 668.7Z" fill="#fff" stroke="#000" stroke-width="1.5" stroke-linejoin="round"/>
<path d="M557.8 654.3L561.5 645.0L565.6 638.9L569.3 636.8L568.7 643.0L569.7 649.2L565.6 653.3L561.5 655.3Z" fill="#fff" stroke="#000" stroke-width="1.5" stroke-linejoin="round"/>
<path d="M600.6 618.3L601.7 610.0L603.7 601.8L607.8 596.6L615.0 595.6L620.8 598.7L619.2 602.8L615.0 605.9L616.1 611.1L619.2 615.2L626.4 615.2L631.5 613.1L635.6 612.1L643.9 611.7L644.9 617.2L650.1 622.4L633.6 636.8L625.3 632.3L617.1 630.6L608.9 626.5L603.7 623.4Z" fill="#fff" stroke="#000" stroke-width="1.5" stroke-linejoin="round"/>
<path d="M628.4 570.9L630.5 566.8L633.6 570.9L638.7 570.9L641.8 574.0L644.9 578.1L643.9 583.3L639.8 587.8L634.6 586.3L630.5 581.2L629.1 576.0Z" fill="#fff" stroke="#000" stroke-width="1.5" stroke-linejoin="round"/>
<path d="M530.6 708.9L536.8 704.8L543.0 703.7L541.9 706.8L534.7 712.0Z" fill="#fff" stroke="#000" stroke-width="1.5" stroke-linejoin="round"/>
<path d="M545.0 700.7L552.2 696.5L554.3 699.6L547.1 703.7Z" fill="#fff" stroke="#000" stroke-width="1.5" stroke-linejoin="round"/>
<path d="M418.5 737.6L423.0 730.4L429.2 724.2L432.3 716.0L436.4 713.9L443.6 715.5L449.8 712.3L455.9 706.7L462.1 707.3L466.7 710.8L473.5 716.4L482.7 721.3L493.0 724.6L501.3 723.0L506.4 722.5L513.6 730.4L464.2 753.0L416.8 753.0Z" fill="#fff" stroke="#000" stroke-width="1.5" stroke-linejoin="round"/>
<path d="M469.3 699.1L472.4 694.3L477.0 693.3L480.2 697.8L485.8 699.9L495.1 704.6L505.4 708.1L509.9 710.2L514.6 722.1L509.1 720.5L505.4 719.7L497.1 716.0L488.9 711.8L480.7 707.7L473.5 704.6Z" fill="#fff" stroke="#000" stroke-width="1.5" stroke-linejoin="round"/>
<path d="M495.1 585.2L499.2 583.1L503.3 585.2L502.9 589.3L498.2 590.7Z" fill="#fff" stroke="#000" stroke-width="1.5" stroke-linejoin="round"/>
<path d="M502.9 572.8L506.4 573.8L510.5 577.5L508.5 579.6L504.3 576.9Z" fill="#fff" stroke="#000" stroke-width="1.5" stroke-linejoin="round"/>
<path d="M654.9 302.1L658.0 299.6L665.2 308.3L657.0 306.2Z" fill="#fff" stroke="#000" stroke-width="1.5" stroke-linejoin="round"/>
<path d="M460.1 713.9L462.1 720.1L461.1 726.3L459.0 724.2L458.4 718.0Z" fill="#bebebe" stroke="#000" stroke-width="1.7" stroke-linejoin="round"/>
<path d="M457.0 727.3L463.2 726.3L465.2 732.4L458.0 733.5Z" fill="#bebebe" stroke="#000" stroke-width="1.7" stroke-linejoin="round"/>
<path d="M413.2 348.6L415.7 347.5L418.7 348.4L419.0 350.4L416.0 351.4L413.5 350.4Z" fill="#fff" stroke="#000" stroke-width="1.5" stroke-linejoin="round"/>
<path d="M470.0 379.8L471.8 378.7L473.2 380.6L471.8 382.6L470.2 381.9Z" fill="#fff" stroke="#000" stroke-width="1.5" stroke-linejoin="round"/>
<path d="M491.5 384.7L493.9 382.6L495.6 385.2L493.9 388.5L491.6 387.5Z" fill="#fff" stroke="#000" stroke-width="1.5" stroke-linejoin="round"/>
<path d="M386.8 347.8C387.5 348.2 389.5 350.1 391.0 350.3C392.5 350.4 394.3 349.4 395.9 348.6C397.6 347.8 399.3 346.3 400.9 345.3C402.4 344.4 403.9 344.1 405.0 342.8C406.1 341.6 407.2 339.7 407.4 337.9C407.7 336.1 407.2 333.5 406.6 332.1C406.1 330.8 404.6 330.1 404.2 329.7" fill="none" stroke="#000" stroke-width="3.0" stroke-linejoin="round" stroke-linecap="round"/>
<path d="M482.5 477.7C482.2 478.2 482.0 480.0 480.9 481.0C479.8 481.9 477.6 482.6 475.9 483.4C474.3 484.3 472.6 485.0 471.0 485.9C469.3 486.9 467.7 488.9 466.0 489.2C464.4 489.5 462.5 487.0 461.1 487.6C459.7 488.1 458.9 490.9 457.8 492.5C456.7 494.2 455.6 495.8 454.5 497.4C453.4 499.1 452.3 500.5 451.2 502.4C450.1 504.3 449.3 507.3 447.9 509.0C446.5 510.6 444.3 511.2 443.0 512.3C441.6 513.4 440.2 515.0 439.7 515.6" fill="none" stroke="#000" stroke-width="3.0" stroke-linejoin="round" stroke-linecap="round"/>
<path d="M428.9 503.2C428.3 503.5 426.3 503.9 424.8 504.9C423.3 505.8 421.5 507.2 419.9 509.0C418.2 510.8 416.3 513.4 414.9 515.6C413.6 517.8 412.5 520.5 411.6 522.2C410.8 523.8 407.8 528.6 410.0 525.5C412.2 522.3 423.5 505.6 424.9 503.2C426.3 500.8 420.2 508.7 418.3 511.1C416.4 513.5 415.0 515.6 413.4 517.7C411.7 519.7 410.3 521.4 408.4 523.4C406.5 525.5 404.0 528.0 401.8 530.0C399.6 532.1 397.4 533.6 395.2 535.8C393.0 538.0 390.6 541.2 388.6 543.2C386.7 545.3 385.6 546.6 383.7 548.2C381.8 549.7 379.3 551.2 377.1 552.3C374.9 553.4 373.0 554.1 370.5 554.7C368.0 555.4 365.0 555.8 362.3 555.9C359.5 556.0 356.5 555.7 354.0 555.6C351.6 555.5 349.9 555.1 347.4 555.2C345.0 555.4 341.7 556.4 339.2 556.4C336.7 556.4 333.7 555.3 332.6 555.1" fill="none" stroke="#000" stroke-width="3.0" stroke-linejoin="round" stroke-linecap="round"/>
<path d="M495.7 467.8C495.4 468.9 494.2 472.2 494.0 474.4C493.9 476.6 494.3 479.0 494.9 481.0C495.4 482.9 495.8 484.3 497.3 485.9C498.8 487.6 501.7 489.2 503.9 490.9C506.1 492.5 508.6 494.4 510.5 495.8C512.4 497.2 514.6 498.5 515.5 499.1" fill="none" stroke="#000" stroke-width="3.0" stroke-linejoin="round" stroke-linecap="round"/>
<path d="M502.3 461.2C502.6 462.3 504.3 465.6 504.3 467.8C504.3 470.0 502.9 472.3 502.3 474.4C501.6 476.4 500.6 479.2 500.3 480.1" fill="none" stroke="#000" stroke-width="3.0" stroke-linejoin="round" stroke-linecap="round"/>
<path d="M487.4 485.9C488.0 487.3 489.4 491.7 490.7 494.2C492.1 496.6 493.8 499.0 495.7 500.7C497.6 502.5 500.1 504.0 502.3 504.9C504.5 505.7 507.8 505.5 508.9 505.7" fill="none" stroke="#000" stroke-width="3.0" stroke-linejoin="round" stroke-linecap="round"/>
<path d="M263.4 513.6C264.5 513.7 267.3 513.8 270.0 514.4C272.7 514.9 276.3 516.4 279.9 516.8C283.5 517.3 287.6 517.0 291.4 516.8C295.3 516.7 299.4 517.0 303.0 516.0C306.5 515.1 309.3 513.0 312.8 511.1C316.4 509.2 320.5 506.7 324.4 504.5C328.2 502.3 332.6 499.8 335.9 497.9C339.2 496.0 341.7 494.3 344.2 493.0C346.6 491.6 349.9 491.3 350.7 489.7C351.6 488.0 350.0 484.4 349.4 483.1C348.9 481.8 348.9 481.6 347.4 481.9C346.0 482.2 343.3 484.2 340.9 484.7C338.4 485.2 335.4 484.7 332.6 484.7C329.9 484.7 325.8 484.7 324.4 484.7" fill="none" stroke="#000" stroke-width="3.0" stroke-linejoin="round" stroke-linecap="round"/>
<path d="M276.6 515.2C277.9 515.3 281.6 515.9 284.0 515.8C286.5 515.7 289.0 514.6 291.5 514.5C293.9 514.4 296.6 515.6 298.9 515.2C301.1 514.7 303.0 513.1 305.0 512.1C307.1 511.0 308.7 510.1 311.2 509.0C313.7 507.8 318.5 505.9 320.0 505.3" fill="none" stroke="#000" stroke-width="3.0" stroke-linejoin="round" stroke-linecap="round"/>
<path d="M229.7 469.4C229.9 468.4 230.1 465.3 230.9 463.3C231.7 461.2 233.3 458.8 234.6 457.1C235.9 455.3 237.8 453.3 238.9 452.7C240.1 452.2 241.3 452.9 241.4 454.0C241.5 455.1 240.5 457.7 239.5 459.5C238.6 461.4 237.2 463.3 235.8 465.1C234.5 467.0 232.5 469.9 231.5 470.7C230.5 471.4 230.0 469.6 229.7 469.4" fill="none" stroke="#000" stroke-width="3.0" stroke-linejoin="round" stroke-linecap="round"/>
<path d="M330.0 377.4C331.1 376.3 333.8 372.5 336.6 370.9C339.3 369.2 343.2 368.8 346.5 367.6C349.8 366.3 353.1 364.5 356.4 363.4C359.7 362.3 363.0 361.9 366.3 361.0C369.5 360.0 373.9 358.8 376.1 357.7C378.3 356.6 378.1 355.6 379.4 354.4C380.8 353.1 383.1 351.4 384.4 350.3C385.6 349.2 386.4 348.2 386.8 347.8" fill="none" stroke="#000" stroke-width="3.0" stroke-linejoin="round" stroke-linecap="round"/>
<path d="M406.6 328.7C407.1 329.4 408.2 331.3 409.9 332.8C411.5 334.4 414.0 336.4 416.5 337.8C418.9 339.2 422.0 340.3 424.7 341.1C427.5 341.9 430.9 343.1 433.0 342.7C435.0 342.3 436.0 338.6 437.1 338.6C438.2 338.6 437.8 341.6 439.5 342.7C441.3 343.8 445.5 344.4 447.8 345.2C450.1 346.0 452.3 346.2 453.6 347.7C454.8 349.2 453.7 352.5 455.2 354.3C456.7 356.0 460.8 357.0 462.6 358.4C464.4 359.8 465.2 361.0 465.9 362.5C466.6 364.0 465.9 365.8 466.7 367.4C467.6 369.1 469.3 370.7 470.9 372.4C472.4 374.0 474.2 376.9 475.8 377.3C477.4 377.7 479.1 374.6 480.7 374.9C482.4 375.1 484.2 377.7 485.7 379.0C487.2 380.2 488.3 381.5 489.8 382.3C491.3 383.1 493.8 383.0 494.7 383.9C495.7 384.9 496.1 386.9 495.6 388.0C495.0 389.1 492.4 389.3 491.5 390.5C490.5 391.8 490.2 393.5 489.8 395.5C489.4 397.4 488.3 400.7 489.0 402.0C489.7 403.4 492.6 403.1 493.9 403.7C495.3 404.2 497.1 404.2 497.2 405.3C497.4 406.4 494.9 408.6 494.7 410.3C494.6 411.9 496.1 414.4 496.4 415.2" fill="none" stroke="#000" stroke-width="3.0" stroke-linejoin="round" stroke-linecap="round"/>
<path d="M332.4 419.7L499.0 480.1" fill="none" stroke="#fff" stroke-width="1.3" stroke-linejoin="round" stroke-linecap="round"/>
<g fill="none" stroke="#111" stroke-width="1.65" stroke-dasharray="4.6 4.7">
<circle cx="417.0" cy="451.0" r="253.2"/>
<circle cx="417.0" cy="451.0" r="163.8"/>
<circle cx="417.0" cy="451.0" r="80.5"/>
<path d="M417.0 451.0 L417.0 165.5"/>
<path d="M457.2 381.3 L559.8 203.7"/>
<path d="M486.7 410.8 L664.3 308.2"/>
<path d="M417.0 451.0 L702.5 451.0"/>
<path d="M486.7 491.2 L664.3 593.8"/>
<path d="M457.2 520.7 L559.8 698.3"/>
<path d="M417.0 451.0 L417.0 736.5"/>
<path d="M376.8 520.7 L274.2 698.3"/>
<path d="M347.3 491.3 L169.7 593.8"/>
<path d="M417.0 451.0 L131.5 451.0"/>
<path d="M347.3 410.8 L169.7 308.2"/>
<path d="M376.7 381.3 L274.2 203.7"/>
</g>
</g>
<circle cx="417.0" cy="451.0" r="285.5" fill="none" stroke="#000" stroke-width="1.6"/>
<clipPath id="cs"><circle cx="417.0" cy="1182.4" r="285.5"/></clipPath>
<g clip-path="url(#cs)">
<circle cx="417.0" cy="1182.4" r="287.5" fill="#fff"/>
<path d="M417.0 973.1C418.6 973.1 423.3 972.8 426.9 973.1C430.5 973.3 434.6 973.9 438.4 974.4C442.3 974.9 446.1 975.3 450.0 976.0C453.8 976.8 459.4 977.8 461.5 978.8C463.5 979.9 460.7 981.3 462.3 982.1C464.0 983.0 469.7 983.0 471.4 983.8C473.0 984.6 470.0 986.1 472.2 987.1C474.4 988.0 482.2 988.6 484.6 989.5C486.9 990.5 484.6 992.2 486.2 992.8C487.9 993.5 492.0 993.3 494.4 993.7C496.9 994.1 499.7 994.1 501.0 995.3C502.4 996.5 501.9 999.2 502.7 1001.1C503.5 1003.0 505.0 1004.8 506.0 1006.8C506.9 1008.9 507.4 1011.7 508.5 1013.4C509.6 1015.2 510.8 1016.3 512.6 1017.6C514.4 1018.8 517.0 1019.6 519.2 1020.9C521.4 1022.1 523.6 1023.5 525.8 1025.0C528.0 1026.5 530.4 1028.1 532.3 1029.9C534.3 1031.7 535.6 1033.6 537.3 1035.7C538.9 1037.7 540.3 1039.8 542.2 1042.3C544.2 1044.7 546.6 1047.8 548.8 1050.5C551.0 1053.3 553.8 1056.3 555.4 1058.8C557.1 1061.2 557.6 1063.1 558.7 1065.3C559.8 1067.5 561.2 1069.7 562.0 1071.9C562.8 1074.1 562.3 1076.9 563.7 1078.5C565.0 1080.2 569.0 1079.7 570.2 1081.8C571.5 1084.0 569.9 1088.4 571.2 1091.4C572.4 1094.4 575.5 1097.7 577.7 1099.7C579.9 1101.6 582.1 1101.3 584.3 1103.0C586.5 1104.6 588.5 1107.8 590.9 1109.5C593.4 1111.3 596.4 1113.1 599.2 1113.7C601.9 1114.2 605.2 1112.2 607.4 1112.8C609.6 1113.5 610.6 1116.4 612.3 1117.8C614.1 1119.2 616.9 1119.4 618.1 1121.1C619.3 1122.7 618.2 1125.8 619.8 1127.7C621.3 1129.6 625.0 1131.2 627.2 1132.6C629.4 1134.0 632.0 1134.3 632.9 1135.9C633.9 1137.6 633.8 1140.6 632.9 1142.5C632.1 1144.4 629.0 1145.2 628.0 1147.4C627.0 1149.6 627.6 1152.9 627.2 1155.7C626.8 1158.4 626.5 1161.7 625.5 1163.9C624.6 1166.1 622.0 1166.7 621.4 1168.9C620.9 1171.1 622.6 1174.4 622.2 1177.1C621.8 1179.9 619.3 1182.3 618.9 1185.3C618.5 1188.4 619.8 1192.5 619.8 1195.2C619.8 1198.0 618.8 1199.4 618.9 1201.8C619.1 1204.3 620.4 1207.3 620.6 1210.1C620.7 1212.8 619.5 1216.1 619.8 1218.3C620.0 1220.5 622.2 1221.3 622.2 1223.2C622.2 1225.2 624.0 1227.0 619.8 1230.0C615.6 1233.0 601.9 1238.4 597.0 1241.4C592.1 1244.4 592.2 1245.7 590.2 1248.0C588.3 1250.3 587.2 1253.0 585.3 1255.4C583.4 1257.9 580.6 1260.0 578.7 1262.8C576.8 1265.7 576.0 1269.7 573.8 1272.7C571.6 1275.8 568.0 1278.8 565.5 1281.0C563.1 1283.2 561.1 1284.5 558.9 1285.9C556.7 1287.3 554.5 1287.8 552.3 1289.2C550.1 1290.6 547.4 1292.2 545.8 1294.2C544.1 1296.1 543.8 1298.5 542.5 1300.7C541.1 1302.9 539.4 1304.9 537.5 1307.3C535.6 1309.8 533.4 1313.1 530.9 1315.6C528.5 1318.0 525.4 1319.7 522.7 1322.2C519.9 1324.6 516.6 1327.7 514.4 1330.4C512.2 1333.1 511.4 1335.9 509.5 1338.6C507.6 1341.4 505.4 1345.1 502.9 1346.9C500.4 1348.7 497.4 1348.8 494.7 1349.4C491.9 1349.9 489.2 1349.6 486.4 1350.2C483.7 1350.7 480.9 1352.0 478.2 1352.6C475.4 1353.3 473.0 1353.9 470.0 1354.3C466.9 1354.7 463.4 1354.8 460.1 1355.1C456.8 1355.4 453.2 1356.1 450.2 1355.9C447.2 1355.8 444.1 1354.7 441.9 1354.3C439.7 1353.9 439.8 1353.8 437.0 1353.8C434.2 1353.8 429.4 1354.3 425.3 1354.3C421.2 1354.3 416.5 1353.5 412.1 1353.8C407.7 1354.1 402.8 1355.7 398.9 1355.9C395.1 1356.2 392.9 1355.8 389.0 1355.1C385.2 1354.4 380.3 1352.9 375.9 1351.8C371.5 1350.7 367.1 1349.5 362.7 1348.5C358.3 1347.6 353.6 1346.3 349.5 1346.1C345.4 1345.8 341.8 1346.5 338.0 1346.9C334.1 1347.3 330.0 1348.8 326.4 1348.5C322.9 1348.3 318.6 1346.5 316.5 1345.2C314.5 1344.0 315.3 1342.8 314.1 1341.1C312.8 1339.5 310.5 1338.0 309.0 1335.3C307.4 1332.7 306.1 1329.0 304.7 1325.5C303.3 1321.9 301.8 1317.8 300.6 1313.9C299.3 1310.1 298.4 1306.5 297.3 1302.4C296.2 1298.3 295.8 1292.9 294.0 1289.2C292.2 1285.5 289.1 1285.1 286.4 1280.0C283.7 1274.9 280.5 1265.5 277.8 1258.9C275.1 1252.3 272.7 1246.5 270.4 1240.3C268.0 1234.2 265.0 1228.0 263.6 1221.8C262.1 1215.6 262.4 1209.8 261.7 1203.3C261.0 1196.7 260.0 1189.5 259.2 1182.2C258.5 1175.0 257.8 1165.5 257.4 1160.0C256.9 1154.5 256.7 1152.6 256.5 1149.1C256.4 1145.6 256.4 1142.5 256.2 1139.2C256.1 1135.9 256.1 1132.6 255.7 1129.3C255.4 1126.0 254.9 1122.7 254.1 1119.4C253.3 1116.1 251.7 1112.8 250.8 1109.5C249.8 1106.3 248.4 1103.0 248.3 1099.7C248.2 1096.4 249.1 1093.1 250.0 1089.8C250.8 1086.5 252.0 1083.2 253.3 1079.9C254.5 1076.6 256.2 1071.6 257.4 1070.0C258.5 1068.4 259.7 1071.6 260.3 1070.3C260.9 1069.0 260.7 1065.1 261.1 1062.0C261.5 1059.0 262.4 1055.2 262.8 1052.2C263.2 1049.1 263.0 1046.4 263.6 1043.9C264.1 1041.5 265.9 1039.8 266.1 1037.3C266.2 1034.9 264.8 1032.1 264.4 1029.1C264.0 1026.1 262.1 1021.8 263.6 1019.2C265.1 1016.6 271.0 1015.5 273.5 1013.4C275.9 1011.4 276.2 1008.8 278.4 1006.8C280.6 1004.9 284.7 1003.4 286.7 1001.9C288.6 1000.4 289.1 999.6 290.0 997.8C290.8 996.0 289.1 993.3 291.6 991.2C294.1 989.1 301.5 987.2 304.8 985.4C308.1 983.6 308.1 981.6 311.4 980.5C314.7 979.4 320.4 979.0 324.6 978.8C328.7 978.6 332.0 979.3 336.1 979.3C340.2 979.3 344.9 979.3 349.3 978.8C353.7 978.3 358.6 977.1 362.5 976.4C366.3 975.7 369.0 975.3 372.3 974.7C375.6 974.2 378.7 973.6 382.2 973.1C385.8 972.5 389.9 971.9 393.8 971.4C397.6 970.9 401.4 969.8 405.3 970.1C409.2 970.4 415.1 972.6 417.0 973.1C418.9 973.6 415.4 973.1 417.0 973.1Z" fill="#e878d8" stroke="#e878d8" stroke-width="0.5"/>
<path d="M417.0 982.1C418.6 982.0 423.3 981.6 426.9 981.6C430.5 981.6 435.1 981.8 438.4 982.1C441.7 982.5 443.9 983.0 446.7 983.8C449.4 984.6 451.6 986.0 454.9 987.1C458.2 988.2 462.6 989.4 466.4 990.4C470.3 991.4 474.4 992.2 478.0 993.2C481.5 994.1 485.1 995.1 487.9 996.1C490.6 997.2 492.8 997.8 494.4 999.4C496.1 1001.1 496.4 1003.8 497.7 1006.0C499.1 1008.2 500.8 1010.6 502.7 1012.6C504.6 1014.7 507.1 1016.7 509.3 1018.4C511.5 1020.0 513.4 1020.9 515.9 1022.5C518.3 1024.2 521.4 1026.1 524.1 1028.3C526.9 1030.5 529.6 1032.9 532.3 1035.7C535.1 1038.4 537.8 1041.6 540.6 1044.7C543.3 1047.9 546.4 1051.5 548.8 1054.6C551.3 1057.8 553.5 1060.8 555.4 1063.7C557.3 1066.6 559.0 1069.2 560.4 1071.9C561.7 1074.7 562.0 1077.7 563.7 1080.2C565.3 1082.6 568.4 1083.8 570.2 1086.8C572.0 1089.7 572.4 1094.9 574.4 1098.0C576.5 1101.1 579.9 1103.1 582.7 1105.4C585.4 1107.8 588.2 1110.0 590.9 1112.0C593.7 1114.1 596.4 1116.5 599.2 1117.8C601.9 1119.0 604.9 1118.5 607.4 1119.4C609.9 1120.4 611.9 1121.6 614.0 1123.6C616.1 1125.5 618.0 1128.6 619.8 1131.0C621.5 1133.3 623.7 1135.4 624.7 1137.6C625.7 1139.8 625.7 1141.7 625.5 1144.2C625.4 1146.6 624.4 1149.6 623.9 1152.4C623.3 1155.1 623.1 1158.2 622.2 1160.6C621.4 1163.1 619.9 1164.7 618.9 1167.2C618.0 1169.7 617.0 1172.4 616.5 1175.5C615.9 1178.5 615.6 1182.0 615.6 1185.3C615.6 1188.6 616.2 1191.9 616.5 1195.2C616.7 1198.5 617.0 1201.8 617.3 1205.1C617.6 1208.4 617.8 1212.0 618.1 1215.0C618.4 1218.0 618.9 1220.7 618.9 1223.2C618.9 1225.7 621.5 1228.1 618.1 1230.0C614.7 1231.9 602.7 1232.5 598.6 1234.6C594.5 1236.8 595.5 1240.3 593.6 1243.1C591.6 1246.0 588.8 1249.1 586.9 1251.7C584.9 1254.2 583.5 1256.2 581.8 1258.5C580.2 1260.7 578.5 1262.7 576.8 1265.3C575.1 1267.8 573.7 1271.5 571.7 1273.8C569.7 1276.0 567.5 1277.2 565.0 1278.9C562.5 1280.6 559.4 1282.1 556.6 1284.1C553.8 1286.1 550.4 1288.6 548.2 1290.9C545.9 1293.2 544.5 1295.2 543.1 1297.7C541.6 1300.2 541.3 1303.5 539.6 1306.1C537.9 1308.8 535.3 1311.2 532.8 1313.8C530.2 1316.3 527.1 1318.7 524.3 1321.4C521.4 1324.1 518.3 1327.3 515.7 1329.8C513.2 1332.4 510.6 1334.5 508.9 1336.6C507.2 1338.7 507.4 1340.9 505.5 1342.4C503.5 1344.0 499.8 1345.0 497.0 1345.8C494.2 1346.7 491.4 1346.7 488.5 1347.6C485.7 1348.5 482.9 1350.0 480.0 1351.0C477.2 1352.0 474.7 1353.0 471.6 1353.6C468.4 1354.1 464.8 1354.4 461.4 1354.5C458.0 1354.5 454.3 1354.0 451.2 1353.7C448.1 1353.4 445.0 1353.1 442.7 1352.9C440.5 1352.7 438.6 1352.6 437.6 1352.4C436.7 1352.3 439.1 1351.8 437.0 1351.8C434.9 1351.8 429.4 1352.3 425.3 1352.3C421.2 1352.3 416.5 1351.6 412.1 1351.8C407.7 1352.0 402.8 1353.3 398.9 1353.5C395.1 1353.6 392.9 1353.3 389.0 1352.6C385.2 1352.0 380.3 1350.8 375.9 1349.8C371.5 1348.9 367.1 1347.7 362.7 1346.9C358.3 1346.0 353.6 1345.0 349.5 1344.7C345.4 1344.5 341.7 1345.2 338.0 1345.6C334.3 1345.9 330.6 1347.2 327.3 1346.9C324.0 1346.5 320.3 1344.9 318.2 1343.6C316.1 1342.3 316.0 1340.8 314.9 1339.0C313.8 1337.2 312.9 1335.5 311.7 1332.9C310.5 1330.3 308.9 1326.9 307.6 1323.5C306.4 1320.0 305.0 1316.3 304.0 1312.3C303.0 1308.2 302.4 1303.2 301.6 1299.1C300.7 1295.0 301.0 1290.7 299.1 1287.6C297.2 1284.4 293.0 1284.8 290.1 1280.0C287.3 1275.2 284.6 1265.5 282.1 1258.9C279.6 1252.3 277.5 1246.5 275.3 1240.3C273.1 1234.2 270.7 1228.0 269.1 1221.8C267.6 1215.6 267.2 1209.8 266.0 1203.3C264.9 1196.7 263.5 1189.5 262.3 1182.2C261.2 1175.0 260.1 1165.5 259.2 1160.0C258.4 1154.5 257.7 1152.6 257.4 1149.1C257.0 1145.6 257.1 1142.5 256.9 1139.2C256.8 1135.9 256.7 1132.6 256.4 1129.3C256.1 1126.0 255.8 1122.7 255.3 1119.4C254.7 1116.1 253.7 1112.8 253.1 1109.5C252.5 1106.3 251.6 1103.0 251.7 1099.7C251.7 1096.4 252.5 1093.1 253.3 1089.8C254.1 1086.5 255.0 1083.2 256.3 1079.9C257.5 1076.6 259.2 1073.0 260.5 1070.0C261.9 1067.0 263.4 1064.5 264.4 1062.0C265.5 1059.6 266.2 1057.7 266.9 1055.5C267.6 1053.3 267.8 1051.1 268.5 1048.9C269.2 1046.7 270.2 1044.5 271.0 1042.3C271.8 1040.1 272.7 1037.9 273.5 1035.7C274.3 1033.5 274.9 1031.3 275.9 1029.1C277.0 1026.9 279.1 1024.7 280.1 1022.5C281.0 1020.3 281.2 1018.1 281.7 1015.9C282.3 1013.7 282.0 1010.7 283.4 1009.3C284.7 1007.9 288.3 1008.4 290.0 1007.7C291.6 1007.0 291.6 1006.3 293.3 1005.2C294.9 1004.1 297.9 1002.6 299.8 1001.1C301.8 999.6 302.9 997.8 304.8 996.1C306.7 994.5 308.9 992.6 311.4 991.2C313.8 989.8 317.1 988.9 319.6 987.9C322.1 986.9 323.5 986.1 326.2 985.4C329.0 984.7 332.2 984.0 336.1 983.8C339.9 983.6 344.6 984.3 349.3 984.3C353.9 984.3 359.2 984.0 364.1 983.8C369.0 983.6 374.3 983.4 378.9 983.0C383.6 982.5 387.7 981.9 392.1 981.3C396.5 980.7 401.2 979.2 405.3 979.3C409.4 979.5 415.1 981.7 417.0 982.1C418.9 982.6 415.4 982.2 417.0 982.1Z" fill="#9370db" stroke="#9370db" stroke-width="0.5"/>
<path d="M417.0 988.7C418.9 988.7 425.0 988.6 428.5 988.7C432.1 988.9 434.9 988.9 438.4 989.5C442.0 990.2 446.1 991.6 450.0 992.5C453.8 993.5 457.6 994.4 461.5 995.3C465.3 996.2 469.5 997.0 473.0 997.8C476.6 998.6 480.2 999.3 482.9 1000.3C485.7 1001.2 487.3 1001.9 489.5 1003.6C491.7 1005.2 493.9 1007.9 496.1 1010.1C498.3 1012.3 500.5 1014.7 502.7 1016.7C504.9 1018.8 506.8 1020.6 509.3 1022.5C511.7 1024.4 514.8 1026.2 517.5 1028.3C520.3 1030.3 523.0 1032.4 525.8 1034.9C528.5 1037.3 531.2 1040.1 534.0 1043.1C536.7 1046.1 539.8 1049.8 542.2 1053.0C544.7 1056.1 546.6 1058.9 548.8 1062.0C551.0 1065.2 553.5 1068.9 555.4 1071.9C557.3 1075.0 558.7 1077.4 560.4 1080.2C562.0 1082.9 564.6 1086.8 565.3 1088.4C566.0 1090.0 563.3 1087.9 564.6 1089.8C565.8 1091.6 570.1 1096.8 572.8 1099.7C575.5 1102.5 578.3 1104.7 581.0 1107.1C583.8 1109.4 586.5 1111.6 589.3 1113.7C592.0 1115.7 594.8 1117.9 597.5 1119.4C600.3 1120.9 603.3 1121.4 605.8 1122.7C608.2 1124.1 610.4 1125.8 612.3 1127.7C614.3 1129.6 615.9 1132.1 617.3 1134.3C618.7 1136.5 619.9 1138.4 620.6 1140.9C621.3 1143.3 621.5 1146.1 621.4 1149.1C621.3 1152.1 620.6 1156.0 619.8 1159.0C618.9 1162.0 617.4 1164.5 616.5 1167.2C615.5 1170.0 614.5 1172.4 614.0 1175.5C613.4 1178.5 613.2 1182.0 613.2 1185.3C613.2 1188.6 613.7 1191.9 614.0 1195.2C614.3 1198.5 614.5 1201.8 614.8 1205.1C615.1 1208.4 615.4 1212.0 615.6 1215.0C615.9 1218.0 616.5 1220.7 616.5 1223.2C616.5 1225.7 618.9 1228.2 615.6 1230.0C612.4 1231.8 601.0 1232.1 597.0 1234.2C593.1 1236.3 594.0 1239.8 592.0 1242.6C590.1 1245.4 587.3 1248.5 585.4 1251.0C583.4 1253.6 582.0 1255.5 580.4 1257.8C578.7 1260.0 577.0 1262.0 575.3 1264.5C573.7 1267.0 572.2 1270.7 570.3 1272.9C568.3 1275.2 566.1 1276.3 563.6 1278.0C561.1 1279.7 558.1 1281.1 555.3 1283.1C552.5 1285.1 549.1 1287.6 546.9 1289.9C544.7 1292.1 543.3 1294.1 541.8 1296.6C540.4 1299.1 540.1 1302.3 538.4 1305.0C536.7 1307.6 534.2 1310.0 531.7 1312.5C529.1 1315.0 526.1 1317.4 523.3 1320.1C520.4 1322.7 517.3 1326.0 514.8 1328.5C512.3 1331.0 509.8 1333.1 508.1 1335.2C506.4 1337.2 506.6 1339.5 504.7 1341.0C502.7 1342.5 499.1 1343.5 496.3 1344.4C493.5 1345.2 490.7 1345.2 487.9 1346.1C485.1 1346.9 482.3 1348.5 479.5 1349.5C476.7 1350.4 474.1 1351.4 471.1 1352.0C468.0 1352.5 464.3 1352.8 461.0 1352.9C457.6 1352.9 454.0 1352.3 450.9 1352.1C447.8 1351.8 444.7 1351.5 442.5 1351.3C440.2 1351.1 438.4 1350.9 437.4 1350.8C436.5 1350.7 439.0 1350.5 437.0 1350.5C435.0 1350.5 429.4 1350.9 425.3 1350.8C421.2 1350.8 416.5 1350.0 412.1 1350.2C407.7 1350.3 403.3 1351.7 398.9 1351.8C394.5 1352.0 389.6 1351.5 385.8 1351.0C381.9 1350.4 379.7 1349.4 375.9 1348.5C372.0 1347.6 367.1 1346.4 362.7 1345.6C358.3 1344.7 353.6 1343.8 349.5 1343.6C345.4 1343.4 341.6 1344.0 338.0 1344.4C334.3 1344.8 330.8 1346.2 327.8 1346.1C324.7 1345.9 321.5 1344.5 319.5 1343.3C317.5 1342.0 316.7 1340.4 315.7 1338.3C314.7 1336.2 314.6 1333.6 313.7 1330.7C312.7 1327.8 311.2 1324.3 310.1 1320.8C309.0 1317.4 308.0 1313.7 307.2 1309.8C306.3 1305.9 305.8 1301.4 305.0 1297.4C304.2 1293.5 304.3 1288.8 302.2 1285.9C300.1 1283.0 295.3 1284.5 292.6 1280.0C289.9 1275.5 288.0 1265.5 285.8 1258.9C283.7 1252.3 281.6 1246.5 279.6 1240.3C277.7 1234.2 275.8 1228.0 274.1 1221.8C272.4 1215.6 271.1 1209.8 269.4 1203.3C267.7 1196.7 265.4 1189.5 263.9 1182.2C262.5 1175.0 261.5 1165.5 260.5 1160.0C259.5 1154.5 258.5 1152.6 258.0 1149.1C257.5 1145.6 257.7 1142.5 257.5 1139.2C257.3 1135.9 257.2 1132.6 257.0 1129.3C256.8 1126.0 256.6 1122.7 256.3 1119.4C256.0 1116.1 255.5 1112.8 255.2 1109.5C254.9 1106.3 254.4 1103.0 254.5 1099.7C254.7 1096.4 255.5 1093.1 256.2 1089.8C256.9 1086.5 257.6 1083.2 258.8 1079.9C260.0 1076.6 262.1 1072.7 263.3 1070.0C264.5 1067.3 265.2 1066.1 266.1 1063.7C266.9 1061.3 267.6 1058.2 268.5 1055.5C269.5 1052.7 270.7 1049.7 271.8 1047.2C272.9 1044.7 273.8 1043.0 275.1 1040.6C276.5 1038.3 278.7 1035.4 280.1 1033.2C281.4 1031.0 282.3 1029.5 283.4 1027.4C284.5 1025.4 285.3 1022.9 286.7 1020.9C288.0 1018.8 290.0 1016.6 291.6 1015.1C293.3 1013.6 294.9 1013.0 296.5 1011.8C298.2 1010.6 299.8 1009.2 301.5 1007.7C303.1 1006.2 304.8 1004.4 306.4 1002.7C308.1 1001.1 309.7 999.4 311.4 997.8C313.0 996.2 314.4 994.4 316.3 993.2C318.2 991.9 320.4 991.0 322.9 990.4C325.4 989.8 328.4 989.7 331.2 989.5C333.9 989.4 336.4 989.7 339.4 989.5C342.4 989.4 346.0 988.9 349.3 988.7C352.6 988.5 355.9 988.6 359.2 988.2C362.5 987.9 365.8 987.2 369.0 986.6C372.3 986.0 375.1 985.1 378.9 984.6C382.8 984.1 387.7 983.8 392.1 983.8C396.5 983.8 401.2 983.8 405.3 984.6C409.4 985.4 415.1 988.0 417.0 988.7C418.9 989.4 415.1 988.7 417.0 988.7Z" fill="#7b9cf0" stroke="#7b9cf0" stroke-width="0.5"/>
<path d="M417.0 997.0C418.6 996.9 423.6 996.5 426.9 996.5C430.2 996.5 432.9 996.6 436.8 997.0C440.6 997.3 445.6 998.2 450.0 998.6C454.3 999.0 459.0 999.0 463.1 999.4C467.3 999.8 471.1 1000.3 474.7 1001.1C478.2 1001.9 481.5 1002.9 484.6 1004.4C487.6 1005.9 490.3 1008.2 492.8 1010.1C495.3 1012.1 497.2 1014.0 499.4 1015.9C501.6 1017.8 503.5 1019.6 506.0 1021.7C508.5 1023.7 511.5 1025.9 514.2 1028.3C517.0 1030.6 519.7 1033.1 522.5 1035.7C525.2 1038.3 528.0 1040.9 530.7 1043.9C533.4 1046.9 536.2 1050.4 538.9 1053.8C541.7 1057.2 544.7 1061.1 547.2 1064.5C549.6 1068.0 551.8 1071.2 553.8 1074.4C555.7 1077.6 557.2 1080.6 558.7 1083.5C560.2 1086.3 560.8 1088.4 562.9 1091.4C565.0 1094.4 568.4 1098.4 571.2 1101.3C573.9 1104.2 576.6 1106.4 579.4 1108.7C582.1 1111.1 584.9 1113.4 587.6 1115.3C590.4 1117.2 593.1 1118.7 595.9 1120.3C598.6 1121.8 601.6 1122.7 604.1 1124.4C606.6 1126.0 608.9 1128.2 610.7 1130.1C612.5 1132.1 613.9 1133.9 614.8 1135.9C615.8 1138.0 615.9 1140.0 616.5 1142.5C617.0 1145.0 618.0 1148.0 618.1 1150.7C618.2 1153.5 618.0 1156.4 617.3 1159.0C616.6 1161.6 615.0 1163.6 614.0 1166.4C613.0 1169.1 612.1 1172.3 611.5 1175.5C611.0 1178.6 610.7 1182.0 610.7 1185.3C610.7 1188.6 611.1 1191.9 611.5 1195.2C611.9 1198.5 612.8 1201.8 613.2 1205.1C613.6 1208.4 613.8 1212.0 614.0 1215.0C614.2 1218.0 614.5 1220.7 614.3 1223.2C614.2 1225.7 616.3 1228.3 613.2 1230.0C610.0 1231.7 599.2 1231.7 595.4 1233.7C591.7 1235.7 592.4 1239.3 590.5 1242.1C588.5 1244.8 585.8 1247.9 583.8 1250.4C581.9 1252.9 580.5 1254.9 578.9 1257.1C577.2 1259.3 575.5 1261.3 573.9 1263.8C572.2 1266.3 570.8 1269.9 568.9 1272.1C566.9 1274.3 564.7 1275.4 562.2 1277.1C559.8 1278.8 556.7 1280.2 553.9 1282.1C551.2 1284.1 547.8 1286.6 545.6 1288.8C543.4 1291.0 542.0 1293.0 540.6 1295.5C539.2 1298.0 538.9 1301.2 537.3 1303.8C535.6 1306.4 533.1 1308.8 530.6 1311.3C528.1 1313.8 525.0 1316.1 522.2 1318.8C519.5 1321.4 516.4 1324.6 513.9 1327.1C511.4 1329.6 508.9 1331.7 507.2 1333.7C505.5 1335.8 505.8 1338.0 503.9 1339.5C501.9 1341.1 498.3 1342.1 495.5 1342.9C492.8 1343.7 490.0 1343.7 487.2 1344.6C484.4 1345.4 481.7 1346.9 478.9 1347.9C476.1 1348.9 473.6 1349.9 470.6 1350.4C467.5 1351.0 463.9 1351.3 460.6 1351.3C457.2 1351.3 453.6 1350.7 450.6 1350.5C447.5 1350.2 444.5 1349.9 442.2 1349.7C440.0 1349.4 438.1 1349.2 437.2 1349.2C436.4 1349.1 439.0 1349.3 437.0 1349.4C435.0 1349.4 429.4 1349.5 425.3 1349.4C421.2 1349.2 416.5 1348.4 412.1 1348.5C407.7 1348.7 403.3 1350.0 398.9 1350.2C394.5 1350.3 389.6 1349.8 385.8 1349.4C381.9 1348.9 379.7 1348.0 375.9 1347.2C372.0 1346.4 367.1 1345.1 362.7 1344.4C358.3 1343.7 353.6 1342.9 349.5 1342.8C345.4 1342.6 341.5 1343.2 338.0 1343.6C334.4 1344.0 331.0 1345.4 328.1 1345.2C325.2 1345.1 322.5 1344.0 320.7 1342.8C318.8 1341.5 317.7 1339.9 316.9 1337.8C316.0 1335.8 316.3 1333.3 315.6 1330.4C314.8 1327.5 313.4 1324.1 312.6 1320.5C311.8 1316.9 311.2 1312.8 310.6 1309.0C310.0 1305.1 309.7 1301.3 309.0 1297.4C308.2 1293.6 308.4 1288.8 306.0 1285.9C303.6 1283.0 297.4 1284.5 294.5 1280.0C291.5 1275.5 290.4 1265.5 288.3 1258.9C286.2 1252.3 283.8 1246.5 281.7 1240.3C279.7 1234.2 277.7 1228.0 275.9 1221.8C274.1 1215.6 272.7 1209.8 271.0 1203.3C269.2 1196.7 267.0 1189.5 265.4 1182.2C263.9 1175.0 262.9 1165.5 261.7 1160.0C260.6 1154.5 259.2 1152.6 258.6 1149.1C258.0 1145.6 258.2 1142.5 258.0 1139.2C257.8 1135.9 257.6 1132.6 257.5 1129.3C257.4 1126.0 257.3 1122.7 257.2 1119.4C257.1 1116.1 256.9 1112.8 256.9 1109.5C256.8 1106.3 256.6 1103.0 256.9 1099.7C257.2 1096.4 257.9 1093.1 258.6 1089.8C259.2 1086.5 259.8 1083.2 261.0 1079.9C262.1 1076.6 264.6 1072.4 265.5 1070.0C266.4 1067.6 265.8 1067.8 266.4 1065.7C266.9 1063.6 267.9 1059.9 268.9 1057.4C269.8 1055.0 271.1 1052.9 272.2 1050.8C273.3 1048.8 274.4 1047.1 275.5 1045.1C276.6 1043.0 277.4 1040.5 278.8 1038.5C280.1 1036.4 281.9 1034.6 283.7 1032.7C285.5 1030.8 287.8 1029.1 289.5 1027.0C291.1 1024.8 292.1 1021.5 293.6 1019.5C295.1 1017.6 296.6 1016.9 298.5 1015.4C300.4 1013.9 302.9 1012.5 305.1 1010.5C307.3 1008.4 310.1 1005.0 311.7 1003.1C313.3 1001.2 313.5 1000.4 314.7 999.1C315.9 997.8 317.1 996.0 318.8 995.0C320.4 994.0 322.5 993.2 324.6 993.0C326.6 992.8 329.0 993.3 331.2 993.8C333.3 994.4 335.5 996.3 337.7 996.5C339.9 996.6 341.9 995.6 344.3 994.8C346.8 994.1 349.6 992.7 352.6 991.9C355.6 991.0 359.2 990.6 362.5 989.9C365.8 989.1 369.6 988.1 372.3 987.4C375.1 986.7 376.7 986.1 378.9 985.8C381.1 985.4 383.1 985.2 385.5 985.3C388.0 985.3 390.5 985.4 393.8 985.9C397.1 986.4 401.4 986.4 405.3 988.2C409.2 990.1 415.1 995.5 417.0 997.0C418.9 998.4 415.4 997.0 417.0 997.0Z" fill="#4169e1" stroke="#4169e1" stroke-width="0.5"/>
<path d="M417.0 1044.4C417.6 1044.3 418.9 1044.4 420.3 1043.6C421.7 1042.8 424.0 1041.7 425.2 1039.8C426.5 1037.9 427.5 1035.0 427.7 1032.4C427.9 1029.8 427.3 1026.9 426.6 1024.2C425.8 1021.4 424.2 1018.4 423.3 1015.9C422.4 1013.4 420.5 1011.1 421.1 1009.3C421.7 1007.5 424.3 1006.2 426.9 1005.2C429.5 1004.2 432.9 1004.1 436.8 1003.6C440.6 1003.0 446.1 1002.3 450.0 1001.9C453.8 1001.5 456.3 1001.3 459.8 1001.4C463.4 1001.5 467.5 1001.8 471.4 1002.7C475.2 1003.6 479.6 1005.2 482.9 1006.8C486.2 1008.5 488.4 1010.6 491.2 1012.6C493.9 1014.7 496.4 1017.0 499.4 1019.2C502.4 1021.4 506.0 1023.3 509.3 1025.8C512.6 1028.3 515.9 1031.0 519.2 1034.0C522.5 1037.1 525.8 1040.4 529.0 1043.9C532.3 1047.5 535.9 1051.9 538.9 1055.5C542.0 1059.0 544.7 1062.0 547.2 1065.3C549.6 1068.6 552.8 1072.5 553.8 1075.2C554.7 1077.9 551.8 1078.6 553.0 1081.5C554.3 1084.5 558.5 1089.5 561.3 1093.1C564.0 1096.6 566.8 1100.1 569.5 1103.0C572.2 1105.8 575.0 1108.0 577.7 1110.4C580.5 1112.7 583.2 1115.0 586.0 1117.0C588.7 1118.9 591.5 1120.3 594.2 1121.9C597.0 1123.6 600.0 1125.1 602.5 1126.8C604.9 1128.6 607.4 1130.6 609.0 1132.6C610.7 1134.7 611.5 1137.0 612.3 1139.2C613.2 1141.4 613.5 1143.3 614.0 1145.8C614.5 1148.3 615.3 1151.6 615.3 1154.0C615.4 1156.5 615.0 1158.4 614.3 1160.6C613.7 1162.8 612.3 1164.7 611.5 1167.2C610.7 1169.7 609.8 1172.4 609.4 1175.5C609.0 1178.5 609.0 1182.0 609.0 1185.3C609.1 1188.6 609.5 1191.9 609.9 1195.2C610.3 1198.5 611.1 1201.8 611.5 1205.1C611.9 1208.4 612.2 1212.0 612.3 1215.0C612.5 1218.0 612.6 1220.7 612.3 1223.2C612.1 1225.7 614.0 1228.4 610.7 1230.0C607.4 1231.6 596.4 1231.1 592.6 1232.9C588.8 1234.8 589.6 1238.4 587.7 1241.1C585.7 1243.8 583.0 1246.8 581.1 1249.3C579.2 1251.7 577.8 1253.7 576.2 1255.8C574.5 1258.0 572.9 1259.9 571.2 1262.4C569.6 1264.8 568.2 1268.4 566.3 1270.6C564.4 1272.8 562.2 1273.9 559.8 1275.5C557.3 1277.1 554.3 1278.5 551.5 1280.4C548.8 1282.3 545.5 1284.7 543.3 1286.9C541.2 1289.1 539.8 1291.0 538.4 1293.5C537.1 1295.9 536.8 1299.1 535.2 1301.7C533.5 1304.3 531.1 1306.6 528.6 1309.1C526.2 1311.5 523.2 1313.8 520.4 1316.4C517.7 1319.0 514.7 1322.2 512.2 1324.6C509.8 1327.1 507.3 1329.1 505.7 1331.2C504.1 1333.3 504.3 1335.4 502.4 1337.0C500.5 1338.5 497.0 1339.4 494.2 1340.2C491.5 1341.0 488.8 1341.0 486.0 1341.9C483.3 1342.7 480.6 1344.2 477.8 1345.1C475.1 1346.1 472.7 1347.0 469.7 1347.6C466.7 1348.1 463.1 1348.4 459.8 1348.4C456.5 1348.4 453.0 1347.8 450.0 1347.6C447.0 1347.3 444.0 1346.9 441.8 1346.7C439.6 1346.5 439.1 1346.8 436.9 1346.2C434.7 1345.7 431.4 1344.3 428.6 1343.6C425.8 1342.9 423.1 1342.3 420.4 1341.9C417.6 1341.5 414.9 1341.1 412.1 1341.1C409.4 1341.1 406.6 1341.5 403.9 1341.9C401.1 1342.3 398.7 1343.2 395.6 1343.6C392.6 1344.0 389.0 1344.5 385.8 1344.4C382.5 1344.4 379.2 1343.9 375.9 1343.3C372.6 1342.7 369.3 1341.6 366.0 1340.8C362.7 1340.0 359.4 1339.1 356.1 1338.6C352.8 1338.2 349.2 1338.3 346.2 1338.3C343.2 1338.4 340.6 1338.7 338.0 1339.0C335.4 1339.2 332.8 1340.2 330.6 1340.0C328.3 1339.8 325.8 1338.9 324.2 1337.8C322.6 1336.8 321.8 1335.5 320.8 1333.7C319.9 1331.9 319.1 1329.6 318.4 1327.1C317.6 1324.6 316.8 1321.9 316.2 1318.9C315.6 1315.8 315.0 1312.6 314.6 1309.0C314.1 1305.4 314.0 1301.0 313.4 1297.4C312.8 1293.9 313.3 1290.5 310.9 1287.6C308.6 1284.7 302.8 1284.8 299.4 1280.0C296.0 1275.2 293.4 1265.5 290.8 1258.9C288.1 1252.3 285.7 1246.5 283.3 1240.3C281.0 1234.2 278.4 1228.0 276.8 1221.8C275.1 1215.6 274.8 1209.8 273.5 1203.3C272.1 1196.7 269.9 1189.5 268.5 1182.2C267.2 1175.0 266.0 1165.0 265.4 1160.0C264.8 1155.0 265.3 1155.3 264.9 1152.4C264.5 1149.5 263.5 1145.8 262.9 1142.5C262.3 1139.2 261.7 1135.9 261.2 1132.6C260.8 1129.3 260.3 1126.0 260.1 1122.7C259.9 1119.4 260.1 1116.1 260.0 1112.8C259.9 1109.5 259.4 1106.0 259.5 1103.0C259.5 1099.9 259.7 1097.5 260.2 1094.7C260.7 1092.0 261.7 1089.2 262.5 1086.5C263.3 1083.7 264.0 1081.0 265.0 1078.2C265.9 1075.5 267.7 1072.0 268.1 1070.0C268.4 1068.0 266.9 1067.9 266.9 1066.2C266.8 1064.4 267.2 1061.5 267.7 1059.6C268.3 1057.7 268.9 1056.3 270.2 1054.6C271.4 1053.0 273.9 1051.3 275.1 1049.7C276.4 1048.0 276.6 1046.5 277.6 1044.7C278.6 1043.0 279.5 1040.8 280.9 1039.0C282.3 1037.2 284.1 1035.7 285.8 1034.0C287.6 1032.4 290.1 1031.2 291.6 1029.1C293.1 1027.0 293.4 1023.7 294.9 1021.7C296.4 1019.6 298.6 1018.4 300.7 1016.7C302.7 1015.1 305.3 1013.7 307.3 1011.8C309.3 1009.9 311.5 1007.3 312.7 1005.2C313.9 1003.1 313.7 1001.1 314.7 999.4C315.7 997.8 317.1 996.4 318.8 995.3C320.4 994.3 322.5 993.4 324.6 993.2C326.6 993.0 329.0 993.5 331.2 994.2C333.3 994.8 335.5 996.8 337.7 997.0C339.9 997.2 341.9 995.9 344.3 995.3C346.8 994.7 349.6 993.6 352.6 993.2C355.6 992.7 359.2 992.9 362.5 992.5C365.8 992.1 369.0 990.9 372.3 990.9C375.6 990.8 378.9 991.4 382.2 992.0C385.5 992.7 389.9 994.0 392.1 994.8C394.4 995.7 396.8 996.4 395.7 997.1C394.6 997.9 388.9 998.5 385.5 999.4C382.2 1000.4 378.9 1001.5 375.6 1002.7C372.3 1004.0 369.0 1005.2 365.8 1006.8C362.5 1008.5 358.9 1010.6 355.9 1012.6C352.8 1014.7 350.1 1016.7 347.6 1019.2C345.2 1021.7 343.0 1024.4 341.0 1027.4C339.1 1030.5 336.7 1033.6 336.1 1037.3C335.5 1041.0 336.7 1046.4 337.4 1049.7C338.1 1053.0 339.1 1054.8 340.5 1057.1C341.8 1059.3 343.4 1061.3 345.4 1063.3C347.5 1065.2 350.4 1067.5 352.8 1068.8C355.3 1070.2 357.8 1071.2 360.3 1071.3C362.7 1071.4 365.2 1070.6 367.7 1069.4C370.1 1068.3 372.6 1066.3 375.1 1064.5C377.6 1062.6 380.0 1060.3 382.5 1058.3C385.0 1056.4 387.4 1054.3 389.9 1052.7C392.4 1051.2 394.7 1050.1 397.3 1049.0C400.0 1048.0 402.7 1047.4 406.0 1046.6C409.3 1045.7 415.1 1044.5 417.0 1044.1C418.8 1043.7 416.4 1044.5 417.0 1044.4Z" fill="#0000cd" stroke="#0000cd" stroke-width="0.5"/>
<path d="M417.0 1046.1C417.6 1045.8 418.6 1045.5 420.3 1044.7C421.9 1044.0 425.1 1043.0 426.9 1041.5C428.7 1039.9 429.9 1038.0 431.0 1035.7C432.1 1033.4 432.8 1030.2 433.5 1027.4C434.2 1024.7 434.3 1021.7 435.1 1019.2C435.9 1016.7 436.8 1014.3 438.4 1012.6C440.1 1011.0 442.3 1010.1 445.0 1009.3C447.8 1008.5 451.3 1008.0 454.9 1007.7C458.5 1007.3 462.9 1007.2 466.4 1007.3C470.0 1007.5 473.0 1007.5 476.3 1008.5C479.6 1009.5 483.2 1011.4 486.2 1013.4C489.2 1015.5 491.7 1018.2 494.4 1020.9C497.2 1023.5 499.7 1026.6 502.7 1029.1C505.7 1031.6 509.3 1033.2 512.6 1035.7C515.9 1038.2 519.2 1040.9 522.5 1043.9C525.8 1046.9 529.3 1050.5 532.3 1053.8C535.4 1057.1 537.8 1060.1 540.6 1063.7C543.3 1067.3 547.0 1072.0 548.8 1075.2C550.6 1078.5 549.6 1079.9 551.4 1083.2C553.2 1086.4 556.9 1091.1 559.6 1094.7C562.4 1098.3 565.1 1101.7 567.9 1104.6C570.6 1107.5 573.3 1109.7 576.1 1112.0C578.8 1114.4 581.6 1116.8 584.3 1118.6C587.1 1120.4 590.0 1121.4 592.6 1122.7C595.2 1124.1 597.8 1125.2 600.0 1126.8C602.2 1128.5 604.2 1130.6 605.8 1132.6C607.3 1134.7 608.1 1136.7 609.0 1139.2C610.0 1141.7 610.8 1144.7 611.5 1147.4C612.2 1150.2 613.0 1153.4 613.2 1155.7C613.3 1158.0 613.0 1159.5 612.3 1161.5C611.7 1163.4 609.8 1164.9 609.0 1167.2C608.3 1169.6 608.0 1172.4 607.7 1175.5C607.5 1178.5 607.6 1182.0 607.7 1185.3C607.9 1188.6 608.3 1191.9 608.7 1195.2C609.2 1198.5 610.0 1201.8 610.4 1205.1C610.8 1208.4 611.1 1212.0 611.2 1215.0C611.2 1218.0 611.2 1220.7 610.7 1223.2C610.2 1225.7 611.4 1228.4 608.2 1230.0C605.0 1231.6 595.2 1230.8 591.6 1232.6C588.1 1234.4 588.6 1238.1 586.7 1240.8C584.8 1243.5 582.1 1246.5 580.2 1248.9C578.3 1251.4 576.9 1253.3 575.3 1255.4C573.6 1257.6 572.0 1259.5 570.4 1261.9C568.7 1264.4 567.4 1267.9 565.5 1270.1C563.6 1272.2 561.4 1273.3 558.9 1274.9C556.5 1276.6 553.5 1277.9 550.7 1279.8C548.0 1281.7 544.8 1284.1 542.6 1286.3C540.4 1288.5 539.1 1290.4 537.7 1292.8C536.4 1295.3 536.1 1298.4 534.5 1301.0C532.9 1303.6 530.4 1305.9 528.0 1308.3C525.5 1310.8 522.5 1313.1 519.8 1315.7C517.1 1318.2 514.1 1321.4 511.7 1323.8C509.3 1326.3 506.8 1328.3 505.2 1330.4C503.6 1332.4 503.9 1334.6 502.0 1336.1C500.1 1337.6 496.5 1338.5 493.8 1339.3C491.1 1340.1 488.4 1340.1 485.6 1340.9C482.9 1341.8 480.2 1343.3 477.5 1344.2C474.8 1345.2 472.3 1346.1 469.4 1346.6C466.4 1347.2 462.8 1347.4 459.6 1347.4C456.3 1347.4 452.8 1346.9 449.8 1346.6C446.8 1346.3 443.8 1346.0 441.6 1345.7C439.5 1345.5 438.9 1345.7 436.8 1345.2C434.6 1344.8 431.3 1343.9 428.6 1343.3C425.9 1342.6 423.1 1342.0 420.4 1341.6C417.6 1341.2 414.9 1340.8 412.1 1340.8C409.4 1340.8 406.6 1341.2 403.9 1341.6C401.1 1342.0 398.7 1342.8 395.6 1343.3C392.6 1343.7 389.0 1344.1 385.8 1344.1C382.5 1344.0 379.2 1343.5 375.9 1342.9C372.6 1342.3 369.3 1341.2 366.0 1340.5C362.7 1339.7 359.4 1338.8 356.1 1338.3C352.8 1337.9 349.2 1337.8 346.2 1337.8C343.2 1337.8 340.5 1338.3 338.0 1338.5C335.4 1338.7 333.1 1339.4 331.0 1339.0C329.0 1338.6 327.0 1337.5 325.6 1336.2C324.2 1334.9 323.5 1333.3 322.8 1331.2C322.1 1329.2 321.7 1326.7 321.2 1323.8C320.6 1320.9 320.0 1317.5 319.5 1313.9C319.0 1310.4 318.6 1306.0 318.2 1302.4C317.8 1298.8 319.8 1296.2 317.4 1292.5C315.0 1288.8 307.7 1285.6 303.7 1280.0C299.8 1274.4 296.7 1265.5 293.8 1258.9C291.0 1252.3 288.8 1246.5 286.4 1240.3C284.1 1234.2 281.3 1228.0 279.6 1221.8C278.0 1215.6 277.8 1209.8 276.5 1203.3C275.3 1196.7 273.4 1189.5 272.2 1182.2C271.0 1175.0 269.8 1165.0 269.4 1160.0C269.0 1155.0 270.2 1155.3 269.7 1152.4C269.2 1149.5 267.4 1145.8 266.4 1142.5C265.5 1139.2 264.6 1135.9 264.0 1132.6C263.3 1129.3 262.7 1126.0 262.3 1122.7C262.0 1119.4 262.0 1116.1 261.8 1112.8C261.6 1109.5 261.2 1106.0 261.2 1103.0C261.2 1099.9 261.4 1097.5 261.8 1094.7C262.3 1092.0 263.2 1089.2 264.0 1086.5C264.7 1083.7 265.5 1081.0 266.4 1078.2C267.3 1075.5 268.9 1072.4 269.4 1070.0C269.9 1067.6 269.1 1065.8 269.4 1063.7C269.6 1061.5 270.0 1059.3 271.0 1057.1C272.0 1054.9 273.9 1052.4 275.1 1050.5C276.4 1048.6 277.3 1047.4 278.4 1045.6C279.5 1043.8 280.2 1041.6 281.7 1039.8C283.2 1038.0 285.7 1036.6 287.5 1034.9C289.3 1033.1 291.1 1031.2 292.4 1029.1C293.8 1027.0 294.2 1024.4 295.7 1022.5C297.2 1020.6 299.4 1019.2 301.5 1017.6C303.5 1015.9 306.0 1014.5 308.1 1012.6C310.1 1010.7 312.5 1008.1 313.8 1006.0C315.2 1004.0 315.2 1001.9 316.3 1000.3C317.4 998.7 318.8 997.4 320.4 996.5C322.1 995.6 324.1 994.9 326.2 994.8C328.3 994.7 330.6 995.3 332.8 995.8C335.0 996.3 336.6 997.7 339.4 997.8C342.1 997.8 346.0 996.7 349.3 996.1C352.6 995.6 355.9 994.8 359.2 994.5C362.5 994.2 366.3 993.9 369.0 994.2C371.8 994.4 374.1 995.4 375.6 996.1C377.2 996.9 378.7 997.5 378.1 998.6C377.6 999.7 374.7 1001.5 372.3 1002.7C370.0 1004.0 366.9 1004.7 364.1 1006.0C361.4 1007.4 358.6 1009.0 355.9 1011.0C353.1 1012.9 350.1 1015.1 347.6 1017.6C345.2 1020.0 343.0 1022.8 341.0 1025.8C339.1 1028.8 337.6 1031.5 336.1 1035.7C334.6 1039.9 331.9 1046.9 331.8 1050.9C331.7 1054.9 334.0 1056.8 335.5 1059.5C337.1 1062.3 338.8 1065.2 341.1 1067.6C343.4 1069.9 346.1 1072.3 349.1 1073.8C352.1 1075.2 355.9 1076.1 359.0 1076.2C362.1 1076.3 364.8 1075.6 367.7 1074.4C370.6 1073.1 373.6 1070.8 376.3 1068.8C379.0 1066.9 381.3 1064.7 383.7 1062.6C386.2 1060.6 388.7 1058.2 391.2 1056.5C393.6 1054.7 395.9 1053.1 398.6 1051.9C401.2 1050.6 404.1 1049.9 407.2 1049.0C410.3 1048.2 415.3 1047.1 417.0 1046.6C418.6 1046.1 416.4 1046.4 417.0 1046.1Z" fill="#006400" stroke="#006400" stroke-width="0.5"/>
<path d="M417.0 1047.2C418.1 1046.7 421.4 1046.5 423.6 1045.6C425.8 1044.6 428.3 1043.1 430.2 1041.5C432.1 1039.8 433.6 1037.7 435.1 1035.7C436.6 1033.6 437.9 1031.0 439.2 1029.1C440.6 1027.2 441.6 1025.8 443.4 1024.2C445.1 1022.5 447.5 1020.6 450.0 1019.2C452.4 1017.8 455.4 1016.6 458.2 1015.9C460.9 1015.2 463.7 1015.1 466.4 1015.1C469.2 1015.1 471.9 1015.2 474.7 1015.9C477.4 1016.6 480.4 1017.8 482.9 1019.2C485.4 1020.6 487.3 1022.2 489.5 1024.2C491.7 1026.1 493.9 1028.8 496.1 1030.7C498.3 1032.7 499.9 1033.9 502.7 1035.7C505.4 1037.5 509.3 1039.3 512.6 1041.5C515.9 1043.6 519.2 1046.0 522.5 1048.9C525.8 1051.8 529.3 1055.5 532.3 1058.8C535.4 1062.0 537.8 1065.1 540.6 1068.6C543.3 1072.2 547.3 1077.5 548.8 1080.2C550.3 1082.9 548.2 1082.1 549.7 1084.8C551.3 1087.5 555.2 1092.8 558.0 1096.4C560.7 1099.9 563.5 1103.4 566.2 1106.3C569.0 1109.1 571.7 1111.5 574.4 1113.7C577.2 1115.9 579.9 1117.8 582.7 1119.4C585.4 1121.1 588.5 1122.2 590.9 1123.6C593.4 1124.9 595.6 1126.0 597.5 1127.7C599.4 1129.3 601.1 1131.2 602.5 1133.4C603.8 1135.6 604.8 1138.2 605.8 1140.9C606.7 1143.5 607.5 1146.3 608.2 1149.1C608.9 1151.8 609.8 1154.9 609.9 1157.3C610.0 1159.8 609.2 1162.0 608.7 1163.9C608.3 1165.8 607.5 1166.7 607.1 1168.9C606.7 1171.1 606.5 1174.4 606.4 1177.1C606.3 1179.9 606.2 1182.3 606.4 1185.3C606.6 1188.4 607.0 1191.9 607.4 1195.2C607.8 1198.5 608.6 1201.8 609.0 1205.1C609.5 1208.4 610.0 1212.0 610.0 1215.0C610.1 1218.0 610.0 1220.7 609.4 1223.2C608.8 1225.7 609.7 1228.5 606.6 1230.0C603.5 1231.5 594.2 1230.6 590.7 1232.4C587.2 1234.1 587.7 1237.8 585.8 1240.5C583.9 1243.2 581.2 1246.1 579.3 1248.5C577.4 1251.0 576.0 1252.9 574.4 1255.0C572.7 1257.2 571.1 1259.0 569.5 1261.5C567.9 1263.9 566.5 1267.4 564.6 1269.6C562.7 1271.7 560.5 1272.8 558.1 1274.4C555.7 1276.0 552.7 1277.3 549.9 1279.2C547.2 1281.1 544.0 1283.5 541.8 1285.7C539.7 1287.8 538.3 1289.7 537.0 1292.1C535.6 1294.6 535.4 1297.7 533.8 1300.3C532.2 1302.9 529.7 1305.1 527.3 1307.6C524.9 1310.0 521.9 1312.3 519.2 1314.9C516.5 1317.4 513.6 1320.6 511.1 1323.0C508.7 1325.4 506.3 1327.5 504.7 1329.5C503.1 1331.5 503.4 1333.7 501.5 1335.2C499.6 1336.7 496.1 1337.6 493.4 1338.4C490.7 1339.3 488.0 1339.2 485.3 1340.0C482.6 1340.8 479.9 1342.3 477.2 1343.3C474.5 1344.2 472.0 1345.2 469.1 1345.7C466.1 1346.2 462.6 1346.5 459.3 1346.5C456.1 1346.5 452.6 1345.9 449.6 1345.6C446.6 1345.3 443.7 1345.0 441.5 1344.8C439.3 1344.5 438.8 1344.6 436.6 1344.3C434.5 1344.0 431.3 1343.4 428.6 1342.9C425.9 1342.4 423.1 1341.7 420.4 1341.3C417.6 1340.9 414.9 1340.5 412.1 1340.5C409.4 1340.5 406.6 1340.9 403.9 1341.3C401.1 1341.7 398.7 1342.5 395.6 1342.9C392.6 1343.3 389.0 1343.8 385.8 1343.7C382.5 1343.7 379.2 1343.2 375.9 1342.6C372.6 1342.0 369.3 1340.9 366.0 1340.1C362.7 1339.4 359.4 1338.4 356.1 1338.0C352.8 1337.5 349.2 1337.5 346.2 1337.5C343.2 1337.5 340.4 1338.0 338.0 1338.1C335.5 1338.3 333.3 1338.8 331.4 1338.3C329.5 1337.8 327.6 1336.5 326.4 1335.0C325.3 1333.6 324.8 1331.9 324.3 1329.6C323.7 1327.3 323.5 1324.4 323.1 1321.3C322.7 1318.3 322.2 1314.9 321.8 1311.5C321.4 1308.0 321.2 1304.2 320.8 1300.7C320.4 1297.3 321.7 1294.3 319.5 1290.9C317.3 1287.4 311.3 1285.3 307.4 1280.0C303.6 1274.7 299.4 1265.5 296.3 1258.9C293.2 1252.3 291.3 1246.5 288.9 1240.3C286.5 1234.2 283.8 1228.0 282.1 1221.8C280.5 1215.6 280.3 1209.8 279.0 1203.3C277.8 1196.7 275.9 1189.5 274.7 1182.2C273.5 1175.0 271.9 1165.0 271.6 1160.0C271.3 1155.0 273.2 1155.3 272.9 1152.4C272.6 1149.5 270.6 1145.8 269.6 1142.5C268.6 1139.2 267.7 1135.9 266.9 1132.6C266.2 1129.3 265.5 1126.0 265.0 1122.7C264.5 1119.4 264.4 1116.1 264.1 1112.8C263.8 1109.5 263.2 1106.0 263.1 1103.0C263.1 1099.9 263.2 1097.5 263.6 1094.7C264.0 1092.0 264.8 1089.2 265.6 1086.5C266.4 1083.7 267.4 1081.0 268.4 1078.2C269.4 1075.5 271.1 1071.6 271.6 1070.0C272.0 1068.4 270.8 1070.0 271.0 1068.6C271.2 1067.3 272.0 1064.1 272.7 1062.0C273.3 1060.0 274.0 1058.3 275.1 1056.3C276.2 1054.2 277.9 1051.8 279.2 1049.7C280.6 1047.6 281.9 1045.7 283.4 1043.9C284.9 1042.1 286.5 1040.8 288.3 1039.0C290.1 1037.2 292.4 1035.3 294.1 1033.2C295.7 1031.2 296.5 1028.5 298.2 1026.6C299.8 1024.7 301.9 1023.5 304.0 1021.7C306.0 1019.9 308.5 1018.0 310.6 1015.9C312.6 1013.9 314.8 1011.5 316.3 1009.3C317.8 1007.1 318.4 1004.4 319.6 1002.7C320.9 1001.0 322.1 999.9 323.7 999.1C325.4 998.3 327.4 997.8 329.5 997.8C331.6 997.8 333.9 998.7 336.1 999.1C338.3 999.5 339.9 1000.3 342.7 1000.3C345.4 1000.2 349.3 999.2 352.6 998.6C355.9 998.1 359.4 997.2 362.5 997.0C365.5 996.8 369.0 997.0 370.7 997.5C372.3 997.9 372.9 998.6 372.3 999.4C371.8 1000.3 369.6 1001.5 367.4 1002.7C365.2 1004.0 361.9 1005.2 359.2 1006.8C356.4 1008.5 353.7 1010.6 350.9 1012.6C348.2 1014.7 345.2 1016.7 342.7 1019.2C340.2 1021.7 338.0 1024.4 336.1 1027.4C334.2 1030.5 332.7 1033.2 331.2 1037.3C329.6 1041.4 327.0 1048.0 326.9 1052.1C326.8 1056.2 328.9 1058.8 330.6 1062.0C332.2 1065.2 334.3 1068.6 336.8 1071.3C339.2 1074.0 342.1 1076.4 345.4 1078.1C348.7 1079.7 352.8 1081.0 356.5 1081.2C360.3 1081.4 364.4 1080.6 367.7 1079.3C371.0 1078.1 373.5 1075.8 376.3 1073.8C379.1 1071.7 381.7 1069.2 384.4 1067.0C387.0 1064.7 389.8 1062.2 392.4 1060.2C395.0 1058.1 397.1 1056.1 399.8 1054.6C402.5 1053.1 405.6 1052.2 408.5 1051.1C411.3 1050.1 415.6 1049.1 417.0 1048.4C418.4 1047.8 415.9 1047.7 417.0 1047.2Z" fill="#228b22" stroke="#228b22" stroke-width="0.5"/>
<path d="M417.0 1048.5C418.1 1048.0 421.1 1048.0 423.6 1047.2C426.1 1046.5 429.4 1045.2 431.8 1043.9C434.3 1042.7 436.2 1041.3 438.4 1039.8C440.6 1038.3 442.8 1036.2 445.0 1034.9C447.2 1033.5 449.4 1032.3 451.6 1031.6C453.8 1030.8 456.0 1030.5 458.2 1030.4C460.4 1030.3 462.6 1030.6 464.8 1031.1C467.0 1031.5 468.9 1032.4 471.4 1033.2C473.8 1034.0 476.6 1035.0 479.6 1035.7C482.6 1036.4 486.2 1036.8 489.5 1037.3C492.8 1037.9 496.4 1038.2 499.4 1039.0C502.4 1039.8 504.9 1040.6 507.6 1042.3C510.4 1043.9 513.1 1046.4 515.9 1048.9C518.6 1051.3 521.4 1054.1 524.1 1057.1C526.9 1060.1 529.6 1063.7 532.3 1067.0C535.1 1070.3 538.1 1073.8 540.6 1076.9C543.1 1080.0 544.6 1082.1 547.3 1085.7C549.9 1089.2 553.4 1094.3 556.3 1098.0C559.2 1101.7 561.8 1105.0 564.6 1107.9C567.3 1110.8 570.1 1113.1 572.8 1115.3C575.5 1117.5 578.3 1119.4 581.0 1121.1C583.8 1122.7 586.8 1123.8 589.3 1125.2C591.7 1126.6 594.1 1127.7 595.9 1129.3C597.7 1131.0 598.9 1132.9 600.0 1135.1C601.1 1137.3 601.6 1139.9 602.5 1142.5C603.3 1145.1 604.2 1148.0 604.9 1150.7C605.6 1153.5 606.4 1156.5 606.6 1159.0C606.7 1161.5 606.0 1163.6 605.8 1165.6C605.5 1167.5 605.0 1168.6 604.9 1170.5C604.8 1172.4 605.0 1174.6 605.1 1177.1C605.1 1179.6 605.1 1182.3 605.3 1185.3C605.4 1188.4 605.7 1191.9 606.1 1195.2C606.4 1198.5 607.0 1202.0 607.4 1205.1C607.8 1208.3 608.7 1211.3 608.7 1214.2C608.8 1217.1 608.4 1219.8 607.7 1222.4C607.0 1225.1 607.5 1228.4 604.4 1230.0C601.4 1231.6 592.9 1230.4 589.6 1232.0C586.3 1233.7 586.6 1237.4 584.7 1240.1C582.8 1242.8 580.1 1245.7 578.2 1248.1C576.3 1250.5 574.9 1252.4 573.3 1254.5C571.7 1256.7 570.1 1258.5 568.5 1260.9C566.8 1263.4 565.5 1266.8 563.6 1269.0C561.7 1271.1 559.6 1272.2 557.1 1273.8C554.7 1275.4 551.7 1276.7 549.0 1278.5C546.3 1280.4 543.1 1282.8 540.9 1284.9C538.8 1287.1 537.5 1288.9 536.1 1291.4C534.8 1293.8 534.6 1296.9 533.0 1299.5C531.4 1302.0 529.0 1304.3 526.6 1306.7C524.1 1309.1 521.2 1311.4 518.5 1314.0C515.8 1316.5 512.9 1319.6 510.5 1322.0C508.1 1324.5 505.7 1326.5 504.1 1328.5C502.5 1330.5 502.8 1332.7 500.9 1334.2C499.0 1335.7 495.5 1336.6 492.9 1337.4C490.2 1338.2 487.5 1338.2 484.8 1339.0C482.1 1339.8 479.4 1341.3 476.8 1342.2C474.1 1343.1 471.7 1344.1 468.7 1344.6C465.8 1345.1 462.3 1345.4 459.0 1345.4C455.8 1345.3 452.3 1344.8 449.4 1344.5C446.4 1344.2 443.5 1343.9 441.3 1343.6C439.2 1343.4 438.6 1343.3 436.5 1343.1C434.4 1343.0 431.3 1343.1 428.6 1342.8C425.9 1342.4 423.1 1341.5 420.4 1341.1C417.6 1340.7 414.9 1340.3 412.1 1340.3C409.4 1340.3 406.6 1340.7 403.9 1341.1C401.1 1341.5 398.7 1342.3 395.6 1342.8C392.6 1343.2 389.0 1343.7 385.8 1343.6C382.5 1343.5 379.2 1342.9 375.9 1342.3C372.6 1341.7 369.3 1340.7 366.0 1340.0C362.7 1339.2 359.4 1338.3 356.1 1337.8C352.8 1337.4 349.2 1337.3 346.2 1337.3C343.2 1337.3 340.4 1337.8 338.0 1337.8C335.5 1337.8 333.2 1338.0 331.4 1337.3C329.6 1336.6 328.2 1335.4 327.3 1333.7C326.3 1332.0 326.0 1329.6 325.6 1327.1C325.2 1324.6 325.1 1321.9 324.8 1318.9C324.5 1315.8 324.2 1312.3 324.0 1309.0C323.7 1305.7 323.5 1302.4 323.1 1299.1C322.7 1295.8 323.5 1292.4 321.5 1289.2C319.5 1286.0 314.9 1285.1 311.2 1280.0C307.4 1274.9 302.1 1265.5 298.8 1258.9C295.5 1252.3 293.7 1246.5 291.4 1240.3C289.0 1234.2 286.2 1228.0 284.6 1221.8C282.9 1215.6 282.7 1209.8 281.5 1203.3C280.3 1196.7 278.4 1189.5 277.2 1182.2C275.9 1175.0 274.4 1165.0 274.1 1160.0C273.7 1155.0 275.4 1155.3 275.0 1152.4C274.6 1149.5 272.7 1145.8 271.7 1142.5C270.7 1139.2 269.7 1135.9 268.9 1132.6C268.1 1129.3 267.3 1126.0 266.8 1122.7C266.2 1119.4 266.0 1116.1 265.6 1112.8C265.2 1109.5 264.6 1106.0 264.5 1103.0C264.3 1099.9 264.4 1097.5 264.8 1094.7C265.2 1092.0 265.9 1089.2 266.8 1086.5C267.6 1083.7 268.7 1081.0 269.7 1078.2C270.8 1075.5 272.3 1071.6 273.0 1070.0C273.8 1068.4 273.8 1069.7 274.3 1068.6C274.8 1067.6 275.1 1065.5 275.9 1063.7C276.8 1061.9 278.0 1059.9 279.2 1057.9C280.5 1056.0 282.0 1053.9 283.4 1052.2C284.7 1050.4 286.0 1049.0 287.5 1047.2C289.0 1045.4 290.6 1043.4 292.4 1041.5C294.2 1039.5 296.5 1037.6 298.2 1035.7C299.8 1033.8 300.7 1031.8 302.3 1029.9C304.0 1028.0 306.0 1026.1 308.1 1024.2C310.1 1022.2 312.6 1020.4 314.7 1018.4C316.7 1016.3 318.9 1014.0 320.4 1011.8C322.0 1009.6 322.5 1007.0 323.7 1005.2C325.0 1003.4 326.3 1001.9 327.9 1001.1C329.4 1000.3 330.9 1000.2 332.8 1000.3C334.7 1000.3 337.2 1001.1 339.4 1001.4C341.6 1001.8 343.8 1002.3 346.0 1002.4C348.2 1002.5 350.9 1001.7 352.6 1001.9C354.2 1002.1 355.7 1002.7 355.9 1003.6C356.0 1004.4 354.9 1005.5 353.4 1006.8C351.9 1008.2 349.1 1010.0 346.8 1011.8C344.5 1013.6 341.7 1015.4 339.4 1017.6C337.1 1019.8 334.9 1022.2 332.8 1025.0C330.7 1027.7 328.9 1029.3 327.0 1034.0C325.1 1038.8 321.6 1048.3 321.3 1053.4C321.1 1058.4 323.9 1061.0 325.7 1064.5C327.4 1068.0 329.2 1071.4 331.8 1074.4C334.5 1077.4 338.0 1080.5 341.7 1082.4C345.4 1084.4 350.0 1085.7 354.1 1086.1C358.2 1086.5 362.7 1086.1 366.4 1084.9C370.1 1083.6 373.2 1081.0 376.3 1078.7C379.4 1076.4 382.2 1073.9 385.0 1071.3C387.8 1068.7 390.3 1065.6 393.0 1063.3C395.7 1060.9 398.4 1058.8 401.0 1057.1C403.7 1055.4 406.4 1054.3 409.1 1053.1C411.7 1052.0 415.7 1051.0 417.0 1050.3C418.3 1049.5 415.9 1049.0 417.0 1048.5Z" fill="#ffe600" stroke="#ffe600" stroke-width="0.5"/>
<path d="M417.0 1049.9C418.4 1049.4 422.5 1049.3 425.2 1048.5C428.0 1047.8 430.7 1046.8 433.5 1045.6C436.2 1044.4 439.0 1042.7 441.7 1041.5C444.5 1040.2 447.2 1039.0 450.0 1038.2C452.7 1037.3 455.4 1036.6 458.2 1036.5C460.9 1036.4 463.7 1036.8 466.4 1037.3C469.2 1037.9 471.9 1039.1 474.7 1039.8C477.4 1040.5 480.2 1041.0 482.9 1041.5C485.7 1041.9 488.4 1042.0 491.2 1042.3C493.9 1042.6 496.6 1042.3 499.4 1043.1C502.1 1043.9 504.9 1045.4 507.6 1047.2C510.4 1049.0 513.1 1051.3 515.9 1053.8C518.6 1056.3 521.4 1059.0 524.1 1062.0C526.9 1065.1 530.4 1070.6 532.3 1071.9C534.3 1073.3 533.6 1067.6 535.7 1070.0C537.8 1072.4 541.8 1081.5 544.8 1086.5C547.8 1091.4 550.8 1095.8 553.8 1099.7C556.9 1103.5 560.0 1106.7 562.9 1109.5C565.8 1112.4 568.4 1114.8 571.2 1117.0C573.9 1119.2 576.6 1120.9 579.4 1122.7C582.1 1124.5 585.2 1126.0 587.6 1127.7C590.1 1129.3 592.6 1130.7 594.2 1132.6C595.8 1134.5 596.4 1136.7 597.2 1139.2C598.0 1141.7 598.7 1144.7 598.8 1147.4C598.9 1150.2 598.6 1153.5 597.8 1155.7C597.1 1157.9 595.2 1158.8 594.5 1160.6C593.9 1162.4 593.5 1164.7 593.9 1166.4C594.2 1168.1 595.3 1169.7 596.7 1170.8C598.1 1171.9 601.3 1171.9 602.5 1173.0C603.6 1174.0 603.5 1175.0 603.8 1177.1C604.1 1179.2 603.9 1182.3 604.1 1185.3C604.3 1188.4 604.7 1191.9 604.9 1195.2C605.2 1198.5 605.7 1202.4 605.8 1205.1C605.8 1207.9 605.9 1209.5 605.4 1211.7C604.9 1213.9 603.9 1216.1 602.8 1218.3C601.7 1220.5 600.1 1222.9 598.8 1224.9C597.6 1226.8 597.1 1228.9 595.2 1230.0C593.3 1231.1 589.6 1229.9 587.5 1231.5C585.4 1233.0 584.6 1236.7 582.7 1239.4C580.8 1242.0 578.1 1244.9 576.2 1247.3C574.3 1249.7 573.0 1251.5 571.4 1253.6C569.8 1255.7 568.2 1257.6 566.6 1260.0C565.0 1262.3 563.7 1265.8 561.8 1267.9C559.9 1270.0 557.8 1271.0 555.3 1272.6C552.9 1274.2 550.0 1275.5 547.3 1277.3C544.6 1279.1 541.4 1281.5 539.3 1283.6C537.2 1285.7 535.8 1287.5 534.5 1289.9C533.2 1292.3 533.0 1295.4 531.5 1297.9C529.9 1300.5 527.5 1302.7 525.1 1305.1C522.8 1307.5 519.8 1309.7 517.2 1312.3C514.6 1314.8 511.7 1317.9 509.3 1320.3C506.9 1322.7 504.6 1324.7 503.0 1326.7C501.4 1328.7 501.7 1330.9 499.9 1332.3C498.0 1333.8 494.6 1334.7 491.9 1335.5C489.3 1336.3 486.6 1336.2 483.9 1337.0C481.3 1337.8 478.7 1339.3 476.0 1340.2C473.4 1341.1 471.0 1342.0 468.1 1342.6C465.1 1343.1 461.7 1343.3 458.5 1343.3C455.3 1343.3 451.9 1342.7 449.0 1342.4C446.0 1342.1 443.1 1341.7 441.0 1341.5C438.9 1341.3 438.9 1341.3 436.2 1341.0C433.6 1340.7 429.3 1340.0 425.3 1339.5C421.3 1338.9 416.5 1337.8 412.1 1337.8C407.7 1337.8 403.3 1338.9 398.9 1339.5C394.5 1340.0 389.6 1341.0 385.8 1341.1C381.9 1341.2 379.2 1340.6 375.9 1340.0C372.6 1339.3 369.3 1338.1 366.0 1337.3C362.7 1336.6 359.4 1335.8 356.1 1335.3C352.8 1334.9 349.1 1334.9 346.2 1334.9C343.3 1334.8 340.9 1335.2 338.8 1335.0C336.7 1334.8 335.2 1334.6 333.8 1333.7C332.5 1332.8 331.4 1331.5 330.6 1329.6C329.7 1327.7 329.3 1325.0 328.9 1322.2C328.5 1319.3 328.4 1315.6 328.1 1312.3C327.8 1309.0 327.7 1305.7 327.3 1302.4C326.8 1299.1 327.3 1296.2 325.6 1292.5C324.0 1288.8 321.0 1285.6 317.3 1280.0C313.7 1274.4 307.3 1265.5 303.7 1258.9C300.1 1252.3 298.2 1246.5 295.7 1240.3C293.2 1234.2 290.7 1228.0 288.9 1221.8C287.2 1215.6 286.6 1209.8 285.2 1203.3C283.8 1196.7 281.5 1189.5 280.3 1182.2C279.0 1175.0 278.0 1165.0 277.8 1160.0C277.5 1155.0 279.2 1155.3 278.8 1152.4C278.4 1149.5 276.5 1145.8 275.5 1142.5C274.5 1139.2 273.5 1135.9 272.7 1132.6C271.9 1129.3 271.1 1126.0 270.6 1122.7C270.0 1119.4 269.8 1116.1 269.4 1112.8C269.0 1109.5 268.4 1106.0 268.4 1103.0C268.4 1099.9 268.9 1097.5 269.4 1094.7C269.9 1092.0 270.6 1089.2 271.4 1086.5C272.1 1083.7 272.8 1081.0 273.8 1078.2C274.9 1075.5 276.9 1072.1 278.0 1070.0C279.0 1067.9 279.2 1067.1 280.1 1065.3C281.0 1063.6 282.1 1061.5 283.4 1059.6C284.6 1057.7 286.0 1055.7 287.5 1053.8C289.0 1051.9 290.8 1050.0 292.4 1048.0C294.1 1046.1 295.6 1044.2 297.4 1042.3C299.2 1040.4 301.5 1038.4 303.1 1036.5C304.8 1034.6 305.6 1032.7 307.3 1030.7C308.9 1028.8 311.1 1026.9 313.0 1025.0C314.9 1023.1 317.0 1021.1 318.8 1019.2C320.6 1017.3 322.4 1015.4 323.7 1013.4C325.1 1011.5 325.9 1009.3 327.0 1007.7C328.1 1006.0 329.0 1004.4 330.3 1003.6C331.7 1002.7 333.5 1002.6 335.3 1002.7C337.1 1002.8 339.1 1003.6 341.0 1004.0C343.0 1004.5 346.5 1004.3 346.8 1005.2C347.1 1006.1 344.5 1007.7 342.7 1009.3C340.9 1011.0 338.3 1012.9 336.1 1015.1C333.9 1017.3 331.6 1019.8 329.5 1022.5C327.4 1025.2 325.2 1028.3 323.7 1031.6C322.2 1034.9 321.6 1038.0 320.4 1042.3C319.3 1046.5 316.9 1052.9 317.0 1057.1C317.1 1061.3 319.5 1064.1 321.3 1067.6C323.2 1071.1 325.3 1074.9 328.1 1078.1C330.9 1081.3 334.1 1084.6 338.0 1086.7C341.9 1088.9 347.1 1090.5 351.6 1091.1C356.1 1091.6 361.2 1091.1 365.2 1089.8C369.2 1088.6 372.4 1086.1 375.7 1083.6C379.0 1081.2 382.0 1077.9 385.0 1075.0C388.0 1072.1 390.8 1069.0 393.6 1066.3C396.4 1063.7 399.0 1061.2 401.7 1059.3C404.3 1057.4 407.1 1056.3 409.7 1055.0C412.2 1053.7 415.8 1052.4 417.0 1051.5C418.2 1050.7 415.6 1050.4 417.0 1049.9Z" fill="#ffc800" stroke="#ffc800" stroke-width="0.5"/>
<path d="M417.0 1051.3C418.7 1050.8 423.6 1050.4 426.9 1049.7C430.2 1049.0 433.5 1048.2 436.8 1047.2C440.1 1046.3 443.4 1044.8 446.7 1043.9C450.0 1043.0 453.3 1042.2 456.5 1041.9C459.8 1041.7 463.1 1042.1 466.4 1042.6C469.7 1043.1 473.0 1044.2 476.3 1044.7C479.6 1045.3 482.9 1045.6 486.2 1045.9C489.5 1046.2 493.1 1045.9 496.1 1046.4C499.1 1046.9 501.6 1047.5 504.3 1048.9C507.1 1050.2 509.8 1052.3 512.6 1054.6C515.3 1057.0 518.1 1059.9 520.8 1062.9C523.6 1065.9 527.0 1071.6 529.0 1072.8C531.1 1073.9 531.0 1067.7 533.3 1070.0C535.5 1072.3 539.3 1081.4 542.3 1086.5C545.3 1091.6 548.4 1096.5 551.4 1100.5C554.4 1104.5 557.6 1107.5 560.4 1110.4C563.3 1113.3 566.1 1115.6 568.7 1117.8C571.3 1120.0 573.8 1121.9 576.1 1123.6C578.4 1125.2 580.5 1126.0 582.7 1127.7C584.9 1129.3 587.8 1131.5 589.3 1133.4C590.8 1135.4 591.7 1137.4 591.7 1139.2C591.7 1141.0 590.2 1142.5 589.3 1144.2C588.3 1145.8 586.9 1147.2 586.0 1149.1C585.0 1151.0 583.6 1153.5 583.5 1155.7C583.4 1157.9 584.2 1160.2 585.2 1162.3C586.1 1164.3 587.8 1166.3 589.3 1168.0C590.8 1169.8 592.4 1171.8 594.2 1173.0C596.0 1174.2 598.5 1174.7 600.0 1175.5C601.5 1176.2 602.7 1175.8 603.3 1177.4C603.9 1179.1 603.6 1182.4 603.8 1185.3C604.0 1188.3 604.2 1191.9 604.4 1195.2C604.7 1198.5 605.3 1202.4 605.4 1205.1C605.5 1207.9 605.4 1209.5 604.9 1211.7C604.4 1213.9 603.6 1216.1 602.5 1218.3C601.4 1220.5 599.7 1222.9 598.3 1224.9C597.0 1226.8 596.7 1228.3 594.5 1230.0C592.4 1231.7 587.7 1232.7 585.3 1234.8C582.9 1237.0 582.3 1240.0 580.4 1243.1C578.4 1246.1 576.0 1249.8 573.8 1253.0C571.6 1256.1 569.4 1259.3 567.2 1262.0C565.0 1264.8 563.1 1267.1 560.6 1269.4C558.1 1271.8 555.1 1273.8 552.3 1276.0C549.6 1278.2 546.6 1280.3 544.1 1282.6C541.6 1285.0 539.4 1287.6 537.5 1290.0C535.6 1292.5 534.5 1294.8 532.6 1297.4C530.6 1300.1 528.5 1302.9 526.0 1305.7C523.5 1308.4 520.5 1311.2 517.7 1313.9C515.0 1316.7 512.0 1319.7 509.5 1322.2C507.0 1324.6 505.1 1326.8 502.9 1328.8C500.7 1330.7 498.8 1332.3 496.3 1333.7C493.8 1335.1 491.1 1335.9 488.1 1337.0C485.1 1338.1 481.5 1339.3 478.2 1340.3C474.9 1341.2 471.9 1342.2 468.3 1342.8C464.7 1343.3 460.3 1343.5 456.8 1343.6C453.2 1343.7 450.2 1343.5 446.9 1343.3C443.6 1343.0 440.6 1343.3 437.0 1342.3C433.4 1341.2 429.4 1338.1 425.3 1337.0C421.2 1335.8 416.5 1335.3 412.1 1335.3C407.7 1335.3 403.3 1336.4 398.9 1337.0C394.5 1337.5 389.6 1338.6 385.8 1338.6C381.9 1338.7 379.2 1337.9 375.9 1337.3C372.6 1336.7 369.3 1335.7 366.0 1335.0C362.7 1334.3 359.4 1333.5 356.1 1333.0C352.8 1332.6 349.0 1332.5 346.2 1332.4C343.5 1332.3 341.4 1332.7 339.6 1332.4C337.8 1332.1 336.6 1331.6 335.5 1330.7C334.4 1329.9 333.7 1328.8 333.0 1327.1C332.4 1325.4 332.0 1323.3 331.7 1320.5C331.4 1317.8 331.3 1313.9 331.0 1310.6C330.8 1307.3 330.5 1304.0 330.1 1300.7C329.6 1297.4 329.9 1294.3 328.4 1290.9C326.9 1287.4 324.7 1285.3 321.0 1280.0C317.3 1274.7 310.0 1265.5 306.2 1258.9C302.4 1252.3 300.6 1246.5 298.2 1240.3C295.7 1234.2 293.1 1228.0 291.4 1221.8C289.6 1215.6 289.2 1209.8 287.7 1203.3C286.2 1196.7 283.8 1189.5 282.5 1182.2C281.1 1175.0 279.8 1165.0 279.6 1160.0C279.4 1155.0 281.5 1155.3 281.3 1152.4C281.0 1149.5 279.3 1145.8 278.3 1142.5C277.3 1139.2 276.3 1135.9 275.5 1132.6C274.7 1129.3 273.8 1126.0 273.4 1122.7C272.9 1119.4 272.9 1116.1 272.7 1112.8C272.5 1109.5 272.0 1106.0 272.2 1103.0C272.4 1099.9 273.2 1097.5 273.8 1094.7C274.5 1092.0 275.5 1089.2 276.3 1086.5C277.1 1083.7 277.7 1081.0 278.8 1078.2C279.9 1075.5 281.7 1071.9 282.9 1070.0C284.1 1068.1 284.7 1068.5 285.8 1067.0C287.0 1065.5 288.4 1063.1 290.0 1061.2C291.5 1059.3 293.3 1057.4 294.9 1055.5C296.5 1053.5 298.2 1051.6 299.8 1049.7C301.5 1047.8 303.1 1045.8 304.8 1043.9C306.4 1042.0 308.2 1040.1 309.7 1038.2C311.2 1036.2 312.3 1034.3 313.8 1032.4C315.4 1030.5 317.1 1028.5 318.8 1026.6C320.4 1024.7 322.2 1022.8 323.7 1020.9C325.2 1018.9 326.5 1016.9 327.9 1015.1C329.2 1013.3 330.6 1011.5 332.0 1010.1C333.3 1008.8 334.9 1007.1 336.1 1006.8C337.3 1006.6 339.5 1007.4 339.4 1008.5C339.3 1009.6 336.9 1011.5 335.3 1013.4C333.6 1015.4 331.6 1017.4 329.5 1020.0C327.4 1022.6 324.8 1025.8 322.9 1029.1C321.0 1032.4 319.1 1036.0 318.0 1039.8C316.9 1043.6 316.5 1047.6 316.3 1052.2C316.2 1056.7 315.9 1062.4 317.0 1067.0C318.1 1071.5 320.5 1075.5 323.2 1079.3C325.9 1083.1 328.9 1087.1 333.1 1089.8C337.2 1092.5 342.7 1094.7 347.9 1095.4C353.0 1096.1 359.4 1095.4 364.0 1094.2C368.5 1092.9 371.7 1090.4 375.1 1088.0C378.5 1085.5 381.3 1082.4 384.4 1079.3C387.4 1076.2 390.6 1072.4 393.6 1069.4C396.6 1066.4 399.5 1063.5 402.3 1061.4C405.1 1059.3 407.9 1058.1 410.3 1056.7C412.8 1055.3 415.9 1053.6 417.0 1052.7C418.1 1051.9 415.3 1051.8 417.0 1051.3Z" fill="#ff9900" stroke="#ff9900" stroke-width="0.5"/>
<path d="M417.0 1053.5C418.9 1053.1 424.7 1052.5 428.5 1051.8C432.4 1051.1 436.5 1050.0 440.1 1049.2C443.6 1048.4 446.7 1047.7 450.0 1047.2C453.3 1046.8 456.5 1046.3 459.8 1046.4C463.1 1046.5 466.4 1047.1 469.7 1047.5C473.0 1048.0 476.3 1048.5 479.6 1048.9C482.9 1049.2 486.2 1049.4 489.5 1049.7C492.8 1050.0 496.6 1049.8 499.4 1050.5C502.1 1051.2 503.8 1052.3 506.0 1053.8C508.2 1055.3 510.4 1057.4 512.6 1059.6C514.8 1061.8 517.0 1064.4 519.2 1067.0C521.4 1069.6 522.4 1072.0 525.8 1075.2C529.1 1078.5 535.3 1082.3 539.0 1086.5C542.7 1090.7 545.2 1096.5 548.1 1100.5C551.0 1104.5 553.8 1107.5 556.3 1110.4C558.8 1113.3 560.7 1115.5 562.9 1117.8C565.1 1120.1 567.6 1122.5 569.5 1124.4C571.4 1126.3 573.2 1127.4 574.4 1129.3C575.7 1131.2 576.9 1133.7 576.9 1135.9C576.9 1138.1 575.4 1140.3 574.4 1142.5C573.5 1144.7 571.7 1146.9 571.2 1149.1C570.6 1151.3 570.6 1153.5 571.2 1155.7C571.7 1157.9 573.1 1160.1 574.4 1162.3C575.8 1164.5 577.7 1166.7 579.4 1168.9C581.0 1171.1 583.1 1173.3 584.3 1175.5C585.6 1177.7 586.7 1179.9 586.8 1182.0C586.9 1184.2 585.8 1186.4 585.2 1188.6C584.5 1190.8 583.6 1193.0 582.7 1195.2C581.7 1197.4 580.2 1199.4 579.4 1201.8C578.6 1204.3 578.2 1207.3 577.7 1210.1C577.3 1212.8 577.5 1215.8 576.9 1218.3C576.4 1220.8 575.4 1222.9 574.4 1224.9C573.5 1226.8 571.8 1227.5 571.2 1230.0C570.5 1232.5 571.4 1236.5 570.5 1239.8C569.5 1243.1 567.4 1246.5 565.5 1249.7C563.6 1252.8 561.1 1256.0 558.9 1258.7C556.7 1261.5 554.5 1263.8 552.3 1266.1C550.1 1268.5 548.0 1270.5 545.8 1272.7C543.6 1274.9 541.4 1277.0 539.2 1279.3C537.0 1281.7 534.8 1284.3 532.6 1286.7C530.4 1289.2 528.5 1291.5 526.0 1294.2C523.5 1296.8 520.5 1299.8 517.7 1302.4C515.0 1305.0 512.2 1307.5 509.5 1309.8C506.8 1312.1 504.0 1314.3 501.3 1316.4C498.5 1318.5 495.8 1320.4 493.0 1322.2C490.3 1323.9 487.8 1325.5 484.8 1327.1C481.8 1328.8 478.2 1330.7 474.9 1332.0C471.6 1333.4 468.3 1334.4 465.0 1335.3C461.7 1336.3 458.4 1337.2 455.1 1337.8C451.8 1338.4 448.3 1338.8 445.2 1339.0C442.2 1339.1 440.3 1339.5 437.0 1338.6C433.7 1337.8 429.4 1335.0 425.3 1334.0C421.2 1333.1 416.5 1332.8 412.1 1332.9C407.7 1333.0 403.3 1334.0 398.9 1334.5C394.5 1335.1 389.6 1336.1 385.8 1336.2C381.9 1336.2 379.2 1335.5 375.9 1334.9C372.6 1334.2 369.3 1333.1 366.0 1332.4C362.7 1331.6 359.4 1330.9 356.1 1330.4C352.8 1329.9 348.7 1329.8 346.2 1329.6C343.7 1329.4 342.7 1329.5 341.3 1329.1C339.8 1328.7 338.6 1328.1 337.6 1327.1C336.7 1326.1 336.0 1324.9 335.5 1323.0C334.9 1321.1 334.6 1318.5 334.3 1315.6C334.1 1312.7 334.1 1308.7 333.8 1305.7C333.6 1302.7 333.4 1300.2 333.0 1297.4C332.6 1294.7 332.8 1292.1 331.4 1289.2C330.0 1286.3 328.4 1285.1 324.7 1280.0C321.1 1274.9 313.3 1265.5 309.3 1258.9C305.3 1252.3 303.2 1246.5 300.6 1240.3C298.1 1234.2 295.6 1228.0 293.8 1221.8C292.1 1215.6 291.7 1209.8 290.1 1203.3C288.6 1196.7 285.9 1189.5 284.6 1182.2C283.2 1175.0 282.3 1165.0 282.1 1160.0C281.9 1155.0 283.5 1155.3 283.2 1152.4C283.0 1149.5 281.3 1145.8 280.4 1142.5C279.6 1139.2 278.7 1135.9 278.0 1132.6C277.2 1129.3 276.5 1126.0 276.0 1122.7C275.5 1119.4 275.2 1116.1 275.0 1112.8C274.8 1109.5 274.6 1106.0 275.0 1103.0C275.4 1099.9 276.7 1097.5 277.6 1094.7C278.5 1092.0 279.4 1089.5 280.4 1086.5C281.5 1083.5 282.5 1079.3 283.7 1076.6C285.0 1073.8 286.4 1071.5 287.9 1070.0C289.3 1068.5 290.8 1069.1 292.4 1067.8C294.0 1066.5 295.7 1064.0 297.4 1062.0C299.0 1060.1 300.7 1058.2 302.3 1056.3C304.0 1054.4 305.6 1052.4 307.3 1050.5C308.9 1048.6 310.7 1046.7 312.2 1044.7C313.7 1042.8 314.9 1040.9 316.3 1039.0C317.7 1037.1 319.1 1035.1 320.4 1033.2C321.8 1031.3 323.0 1029.8 324.6 1027.4C326.1 1025.1 328.1 1021.5 329.5 1019.2C330.9 1016.9 332.3 1014.1 333.1 1013.4C334.0 1012.8 334.8 1013.9 334.4 1015.1C334.1 1016.3 332.7 1018.5 331.2 1020.9C329.6 1023.2 327.3 1026.1 325.4 1029.1C323.5 1032.1 321.4 1035.7 319.6 1039.0C317.8 1042.3 315.8 1045.6 314.7 1048.9C313.6 1052.2 313.0 1055.5 313.0 1058.8C313.0 1062.0 314.0 1065.6 314.7 1068.6C315.3 1071.7 315.0 1073.4 317.0 1076.8C319.0 1080.3 322.8 1085.7 326.9 1089.2C331.0 1092.7 336.4 1096.2 341.7 1097.9C347.1 1099.5 353.9 1099.8 359.0 1099.1C364.2 1098.4 368.6 1096.0 372.6 1093.5C376.6 1091.1 379.7 1087.7 383.1 1084.3C386.5 1080.9 389.8 1076.5 393.0 1073.1C396.2 1069.7 399.3 1066.3 402.3 1063.9C405.2 1061.4 408.2 1060.0 410.7 1058.3C413.1 1056.7 415.9 1054.8 417.0 1054.0C418.0 1053.2 415.1 1053.8 417.0 1053.5Z" fill="#ff6600" stroke="#ff6600" stroke-width="0.5"/>
<path d="M417.0 1055.5C419.2 1055.2 425.8 1054.5 430.2 1053.8C434.6 1053.1 439.0 1051.9 443.4 1051.3C447.8 1050.7 452.2 1050.2 456.5 1050.2C460.9 1050.2 465.3 1050.9 469.7 1051.3C474.1 1051.8 479.1 1052.6 482.9 1053.0C486.8 1053.3 489.8 1053.1 492.8 1053.5C495.8 1053.9 498.6 1054.4 501.0 1055.5C503.5 1056.5 505.4 1057.8 507.6 1059.6C509.8 1061.4 512.0 1063.7 514.2 1066.2C516.4 1068.6 518.7 1073.8 520.8 1074.4C522.9 1075.0 524.2 1068.0 526.7 1070.0C529.1 1072.0 532.7 1081.4 535.7 1086.5C538.7 1091.6 541.9 1096.6 544.8 1100.5C547.7 1104.3 550.7 1106.8 553.0 1109.5C555.4 1112.3 556.9 1114.6 558.8 1117.0C560.7 1119.3 563.0 1121.5 564.6 1123.6C566.1 1125.6 567.0 1127.3 567.9 1129.3C568.7 1131.4 569.5 1133.7 569.5 1135.9C569.5 1138.1 568.4 1140.3 567.9 1142.5C567.3 1144.7 566.3 1146.9 566.2 1149.1C566.1 1151.3 566.3 1153.5 567.0 1155.7C567.7 1157.9 569.0 1160.1 570.3 1162.3C571.7 1164.5 573.6 1166.7 575.3 1168.9C576.9 1171.1 579.0 1173.3 580.2 1175.5C581.4 1177.7 582.4 1179.9 582.7 1182.0C583.0 1184.2 582.4 1186.4 581.9 1188.6C581.3 1190.8 580.4 1193.0 579.4 1195.2C578.4 1197.4 576.9 1199.4 576.1 1201.8C575.3 1204.3 574.9 1207.3 574.4 1210.1C574.0 1212.8 574.2 1215.8 573.6 1218.3C573.1 1220.8 572.1 1222.9 571.2 1224.9C570.2 1226.8 568.8 1227.5 567.9 1230.0C566.9 1232.5 566.7 1236.5 565.5 1239.8C564.3 1243.1 562.4 1246.6 560.6 1249.7C558.8 1252.7 556.7 1255.4 554.8 1257.9C552.9 1260.4 551.1 1262.3 549.0 1264.5C547.0 1266.7 544.7 1268.9 542.5 1271.1C540.3 1273.3 538.2 1275.3 535.9 1277.7C533.5 1280.0 530.9 1282.6 528.5 1285.1C526.0 1287.6 523.6 1290.0 521.0 1292.5C518.4 1295.0 515.5 1297.6 512.8 1299.9C510.1 1302.3 507.3 1304.4 504.6 1306.5C501.8 1308.6 499.3 1310.5 496.3 1312.3C493.3 1314.1 489.7 1315.7 486.4 1317.2C483.1 1318.7 480.1 1320.0 476.5 1321.3C473.0 1322.7 468.9 1324.4 465.0 1325.5C461.2 1326.6 457.0 1327.2 453.5 1327.9C449.9 1328.6 446.3 1329.2 443.6 1329.6C440.8 1329.9 438.1 1329.4 437.0 1330.1C435.9 1330.8 438.9 1333.6 437.0 1333.7C435.1 1333.8 429.4 1331.3 425.3 1330.7C421.2 1330.1 416.5 1329.9 412.1 1330.1C407.7 1330.2 403.3 1331.2 398.9 1331.7C394.5 1332.3 389.6 1333.3 385.8 1333.4C381.9 1333.4 379.2 1332.7 375.9 1332.0C372.6 1331.4 369.3 1330.3 366.0 1329.6C362.7 1328.8 359.1 1328.0 356.1 1327.4C353.1 1326.9 350.1 1326.6 347.9 1326.3C345.7 1326.0 344.2 1326.0 342.9 1325.5C341.6 1324.9 340.7 1324.4 339.9 1323.0C339.2 1321.6 338.8 1319.6 338.3 1317.2C337.8 1314.9 337.5 1312.0 337.1 1309.0C336.8 1306.0 336.7 1302.4 336.3 1299.1C336.0 1295.8 335.7 1292.4 335.0 1289.2C334.3 1286.0 333.3 1281.7 332.2 1280.1C331.1 1278.6 331.8 1283.5 328.5 1280.0C325.1 1276.5 316.5 1265.5 312.4 1258.9C308.3 1252.3 306.4 1246.5 303.7 1240.3C301.1 1234.2 298.2 1228.0 296.3 1221.8C294.5 1215.6 294.3 1209.8 292.6 1203.3C291.0 1196.7 287.8 1189.5 286.4 1182.2C285.1 1175.0 284.8 1165.0 284.6 1160.0C284.4 1155.0 285.7 1155.3 285.4 1152.4C285.1 1149.5 283.4 1145.8 282.6 1142.5C281.7 1139.2 281.0 1135.9 280.3 1132.6C279.6 1129.3 278.8 1126.0 278.3 1122.7C277.8 1119.4 277.1 1116.1 277.1 1112.8C277.2 1109.5 278.0 1106.3 278.8 1103.0C279.6 1099.7 281.3 1095.8 282.1 1093.1C282.9 1090.3 283.2 1088.7 283.7 1086.5C284.3 1084.3 284.4 1081.8 285.4 1079.9C286.3 1078.0 288.0 1076.6 289.5 1074.9C291.0 1073.3 293.1 1071.1 294.4 1070.0C295.8 1068.9 296.1 1070.0 297.4 1068.6C298.7 1067.3 300.8 1064.2 302.3 1062.0C303.8 1059.9 305.3 1057.7 306.4 1055.5C307.5 1053.3 308.4 1051.1 308.9 1048.9C309.5 1046.7 309.2 1043.1 309.7 1042.3C310.3 1041.5 311.9 1042.3 312.2 1043.9C312.5 1045.6 311.8 1049.1 311.4 1052.2C310.9 1055.2 309.7 1058.8 309.4 1062.0C309.1 1065.3 309.0 1068.6 309.7 1071.9C310.5 1075.2 312.6 1079.4 313.8 1081.8C315.1 1084.3 315.2 1084.5 317.0 1086.7C318.8 1089.0 321.1 1092.9 324.4 1095.4C327.7 1097.9 331.8 1100.1 336.8 1101.6C341.7 1103.0 348.7 1104.4 354.1 1104.0C359.4 1103.6 364.6 1101.4 368.9 1099.1C373.2 1096.8 376.5 1093.7 380.0 1090.4C383.5 1087.1 386.8 1082.8 389.9 1079.3C393.0 1075.8 395.9 1072.2 398.6 1069.4C401.2 1066.7 403.7 1064.4 406.0 1062.6C408.2 1060.9 410.3 1060.2 412.2 1058.9C414.0 1057.7 416.2 1055.8 417.0 1055.2C417.8 1054.6 414.8 1055.7 417.0 1055.5Z" fill="#ff3200" stroke="#ff3200" stroke-width="0.5"/>
<path d="M417.0 1057.9C419.2 1058.0 425.8 1057.3 430.2 1056.8C434.6 1056.2 439.0 1055.1 443.4 1054.6C447.8 1054.1 452.2 1053.7 456.5 1053.8C460.9 1053.9 465.3 1054.9 469.7 1055.5C474.1 1056.0 479.1 1056.7 482.9 1057.1C486.8 1057.5 489.8 1057.3 492.8 1057.9C495.8 1058.5 498.6 1059.5 501.0 1060.7C503.5 1062.0 505.4 1063.5 507.6 1065.3C509.8 1067.2 512.2 1069.6 514.2 1071.9C516.3 1074.3 517.1 1076.9 520.0 1079.4C522.9 1081.8 528.2 1083.1 531.6 1086.5C535.1 1089.9 537.6 1096.1 540.7 1099.7C543.7 1103.2 547.3 1106.0 549.7 1107.9C552.2 1109.8 554.3 1109.5 555.5 1111.2C556.7 1112.8 556.7 1115.6 557.1 1117.8C557.6 1120.0 557.6 1122.2 558.0 1124.4C558.4 1126.6 559.2 1128.8 559.6 1131.0C560.0 1133.2 560.4 1135.4 560.4 1137.6C560.4 1139.8 559.6 1142.0 559.6 1144.2C559.6 1146.3 559.8 1148.5 560.4 1150.7C561.1 1152.9 562.4 1155.1 563.7 1157.3C565.1 1159.5 566.9 1161.7 568.7 1163.9C570.5 1166.1 572.8 1168.3 574.4 1170.5C576.1 1172.7 577.6 1174.9 578.6 1177.1C579.5 1179.3 580.2 1181.5 580.2 1183.7C580.2 1185.9 579.3 1188.1 578.6 1190.3C577.9 1192.5 576.9 1194.7 576.1 1196.9C575.3 1199.1 574.3 1201.0 573.6 1203.5C572.9 1205.9 572.4 1209.2 572.0 1211.7C571.6 1214.2 571.7 1216.1 571.2 1218.3C570.6 1220.5 569.8 1222.9 568.7 1224.9C567.6 1226.8 565.8 1227.5 564.6 1230.0C563.3 1232.5 562.8 1236.5 561.4 1239.8C560.1 1243.1 558.2 1246.8 556.5 1249.7C554.7 1252.5 552.6 1254.7 550.7 1257.1C548.8 1259.4 547.0 1261.6 544.9 1263.7C542.9 1265.7 540.5 1267.4 538.3 1269.4C536.1 1271.5 534.1 1273.7 531.7 1276.0C529.4 1278.4 526.9 1281.0 524.3 1283.4C521.7 1285.9 518.8 1288.5 516.1 1290.9C513.3 1293.2 510.6 1295.4 507.9 1297.4C505.1 1299.5 502.6 1301.3 499.6 1303.2C496.6 1305.1 493.0 1307.3 489.7 1309.0C486.4 1310.6 483.4 1311.7 479.8 1313.1C476.3 1314.5 472.2 1316.1 468.3 1317.2C464.5 1318.3 460.6 1319.0 456.8 1319.7C452.9 1320.4 448.5 1321.0 445.2 1321.3C441.9 1321.7 438.4 1321.1 437.0 1321.8C435.6 1322.5 438.9 1325.0 437.0 1325.5C435.1 1325.9 429.2 1324.6 425.3 1324.6C421.4 1324.6 417.6 1324.9 413.8 1325.5C409.9 1326.0 405.8 1327.4 402.2 1327.9C398.7 1328.5 395.6 1329.2 392.3 1328.8C389.0 1328.3 385.8 1326.3 382.5 1325.5C379.2 1324.6 375.9 1323.8 372.6 1323.5C369.3 1323.2 366.0 1324.0 362.7 1323.8C359.4 1323.6 355.5 1323.0 352.8 1322.2C350.1 1321.3 347.9 1320.2 346.2 1318.9C344.6 1317.5 343.7 1316.1 342.9 1313.9C342.1 1311.7 341.7 1308.7 341.3 1305.7C340.9 1302.7 340.8 1298.8 340.4 1295.8C340.1 1292.8 339.9 1290.3 339.3 1287.6C338.7 1284.8 337.7 1282.1 336.6 1279.3C335.6 1276.6 336.2 1274.5 333.0 1271.1C329.8 1267.7 321.4 1264.0 317.3 1258.9C313.3 1253.7 311.6 1246.5 308.7 1240.3C305.8 1234.2 302.1 1228.0 300.0 1221.8C298.0 1215.6 298.0 1209.8 296.3 1203.3C294.7 1196.7 291.6 1189.5 290.1 1182.2C288.7 1175.0 288.1 1165.0 287.7 1160.0C287.3 1155.0 288.2 1154.5 287.9 1152.4C287.6 1150.3 286.6 1149.6 285.9 1147.4C285.2 1145.2 284.5 1142.2 283.7 1139.2C283.0 1136.2 282.0 1132.6 281.3 1129.3C280.6 1126.0 280.4 1123.4 279.6 1119.4C278.9 1115.5 276.9 1110.0 276.7 1105.6C276.6 1101.2 277.4 1097.3 278.8 1093.2C280.2 1089.1 283.6 1084.6 285.0 1080.9C286.3 1077.1 285.7 1072.6 287.0 1070.6C288.4 1068.5 291.2 1068.2 293.2 1068.5C295.3 1068.9 297.3 1070.6 299.4 1072.6C301.4 1074.7 303.2 1078.1 305.6 1080.9C308.0 1083.6 311.9 1086.7 313.8 1089.1C315.7 1091.5 314.4 1093.5 317.0 1095.4C319.6 1097.3 325.2 1099.1 329.4 1100.3C333.5 1101.6 337.6 1102.5 341.7 1102.8C345.8 1103.1 350.0 1103.1 354.1 1102.2C358.2 1101.3 362.7 1099.2 366.4 1097.2C370.1 1095.3 373.0 1093.4 376.3 1090.4C379.6 1087.5 382.9 1082.8 386.2 1079.3C389.5 1075.8 393.2 1072.1 396.1 1069.4C399.0 1066.8 401.0 1064.9 403.5 1063.3C406.0 1061.6 408.7 1060.5 410.9 1059.3C413.2 1058.1 416.0 1056.3 417.0 1056.1C418.0 1055.9 414.8 1057.8 417.0 1057.9Z" fill="#dc2814" stroke="#dc2814" stroke-width="0.5"/>
<path d="M417.0 1060.7C419.2 1061.2 425.8 1060.4 430.2 1060.1C434.6 1059.7 439.0 1059.0 443.4 1058.8C447.8 1058.5 452.2 1058.4 456.5 1058.8C460.9 1059.1 465.3 1060.0 469.7 1060.7C474.1 1061.4 479.3 1062.4 482.9 1062.9C486.5 1063.4 488.4 1063.1 491.2 1063.7C493.9 1064.2 496.9 1064.9 499.4 1066.2C501.9 1067.4 503.8 1069.2 506.0 1071.1C508.2 1073.0 510.6 1075.5 512.6 1077.7C514.5 1079.9 515.4 1083.1 517.5 1084.3C519.6 1085.5 522.1 1082.8 525.0 1084.8C527.9 1086.8 531.6 1093.3 534.9 1096.4C538.2 1099.4 542.0 1101.6 544.8 1103.0C547.5 1104.3 549.7 1103.5 551.4 1104.6C553.0 1105.7 554.4 1107.6 554.7 1109.5C554.9 1111.5 553.8 1113.9 553.0 1116.1C552.2 1118.3 550.8 1120.8 549.7 1122.7C548.6 1124.7 547.3 1126.0 546.4 1127.7C545.6 1129.3 544.5 1131.2 544.8 1132.6C545.1 1134.0 546.7 1134.8 548.1 1135.9C549.5 1137.0 551.7 1137.8 553.0 1139.2C554.4 1140.6 555.4 1142.2 556.3 1144.2C557.3 1146.1 557.8 1148.5 558.8 1150.7C559.8 1152.9 560.9 1155.1 562.1 1157.3C563.3 1159.5 564.7 1161.7 566.2 1163.9C567.7 1166.1 569.8 1168.3 571.2 1170.5C572.5 1172.7 573.5 1174.9 574.4 1177.1C575.4 1179.3 576.6 1181.5 576.9 1183.7C577.2 1185.9 576.6 1188.1 576.1 1190.3C575.5 1192.5 574.4 1194.7 573.6 1196.9C572.8 1199.1 571.8 1201.3 571.2 1203.5C570.5 1205.7 569.9 1207.6 569.5 1210.1C569.1 1212.5 569.2 1215.8 568.7 1218.3C568.1 1220.8 567.3 1222.9 566.2 1224.9C565.1 1226.8 563.4 1227.8 562.1 1230.0C560.7 1232.2 559.5 1235.4 558.1 1238.1C556.8 1240.9 555.5 1243.8 554.0 1246.4C552.5 1249.0 550.8 1251.4 549.0 1253.8C547.3 1256.1 545.3 1258.2 543.3 1260.4C541.2 1262.6 538.8 1264.9 536.7 1267.0C534.6 1269.0 532.6 1270.8 530.9 1272.7C529.3 1274.7 528.5 1276.4 526.8 1278.5C525.2 1280.6 523.1 1283.2 521.0 1285.1C519.0 1287.0 516.9 1288.4 514.4 1290.0C512.0 1291.7 509.0 1293.7 506.2 1295.0C503.5 1296.2 500.4 1296.2 498.0 1297.4C495.5 1298.7 493.6 1300.7 491.4 1302.4C489.2 1304.0 487.3 1305.8 484.8 1307.3C482.3 1308.8 479.6 1310.1 476.5 1311.5C473.5 1312.8 470.0 1314.6 466.7 1315.6C463.4 1316.5 460.1 1316.9 456.8 1317.2C453.5 1317.5 450.2 1317.4 446.9 1317.2C443.6 1317.1 439.8 1319.7 437.0 1316.4C434.2 1313.1 432.2 1300.1 430.2 1297.4C428.3 1294.8 427.2 1301.3 425.3 1300.7C423.4 1300.2 420.9 1295.8 418.7 1294.2C416.5 1292.5 414.3 1291.8 412.1 1290.9C409.9 1289.9 407.7 1288.1 405.5 1288.4C403.3 1288.7 401.1 1291.0 398.9 1292.5C396.7 1294.0 394.8 1296.8 392.3 1297.4C389.9 1298.1 386.9 1296.9 384.1 1296.6C381.4 1296.3 378.3 1295.1 375.9 1295.8C373.4 1296.5 371.5 1299.1 369.3 1300.7C367.1 1302.4 364.9 1304.0 362.7 1305.7C360.5 1307.3 358.3 1309.9 356.1 1310.6C353.9 1311.3 351.2 1310.9 349.5 1309.8C347.9 1308.7 347.0 1306.1 346.2 1304.0C345.4 1302.0 345.1 1299.9 344.6 1297.4C344.0 1295.0 343.6 1292.0 342.9 1289.2C342.2 1286.5 341.4 1283.7 340.4 1281.0C339.5 1278.2 338.5 1275.5 337.1 1272.7C335.8 1270.0 332.8 1266.8 332.2 1264.5C331.6 1262.2 335.1 1262.9 333.4 1258.9C331.7 1254.8 326.0 1246.5 322.3 1240.3C318.6 1234.2 314.2 1228.0 311.2 1221.8C308.1 1215.6 306.6 1209.8 303.7 1203.3C300.9 1196.7 295.9 1189.5 293.8 1182.2C291.8 1175.0 292.1 1165.0 291.4 1160.0C290.7 1155.0 290.4 1155.6 289.5 1152.4C288.6 1149.2 287.3 1144.2 286.2 1140.9C285.1 1137.6 283.1 1137.1 282.9 1132.6C282.7 1128.1 284.1 1118.3 285.0 1113.8C285.8 1109.3 286.7 1108.0 288.1 1105.6C289.4 1103.2 291.3 1100.8 293.2 1099.4C295.1 1098.0 297.0 1096.8 299.4 1097.3C301.8 1097.9 305.1 1100.9 307.6 1102.5C310.2 1104.0 313.3 1105.3 314.8 1106.6C316.4 1107.9 315.4 1109.0 317.0 1110.2C318.6 1111.4 321.7 1112.7 324.4 1113.9C327.1 1115.2 330.6 1117.4 333.1 1117.6C335.5 1117.8 337.0 1116.6 339.2 1115.2C341.5 1113.7 343.8 1110.4 346.7 1109.0C349.5 1107.5 353.3 1107.5 356.5 1106.5C359.8 1105.5 363.5 1104.7 366.4 1102.8C369.3 1100.9 371.4 1098.1 373.8 1095.4C376.3 1092.7 378.8 1089.6 381.3 1086.7C383.7 1083.9 386.0 1081.1 388.7 1078.1C391.4 1075.1 394.7 1071.2 397.3 1068.8C400.0 1066.4 402.3 1065.3 404.7 1063.9C407.2 1062.4 410.1 1061.3 412.2 1060.2C414.2 1059.0 416.2 1057.0 417.0 1057.1C417.8 1057.2 414.8 1060.2 417.0 1060.7Z" fill="#8b0000" stroke="#8b0000" stroke-width="0.5"/>
<path d="M587.6 1195.2C588.7 1194.8 590.2 1196.3 590.9 1197.7C591.7 1199.1 592.4 1201.4 592.2 1203.5C592.1 1205.5 591.0 1208.7 590.1 1210.1C589.2 1211.4 587.8 1212.1 586.8 1211.7C585.8 1211.3 584.7 1209.5 584.3 1207.6C584.0 1205.7 584.1 1202.2 584.7 1200.2C585.2 1198.1 586.6 1195.6 587.6 1195.2Z" fill="#ffc800" stroke="#ffc800" stroke-width="0.5"/>
<path d="M341.9 1050.5C341.4 1049.1 341.3 1045.3 341.9 1042.3C342.4 1039.3 343.6 1035.4 345.2 1032.4C346.7 1029.4 348.6 1026.6 350.9 1024.2C353.3 1021.7 356.1 1019.6 359.2 1017.6C362.2 1015.5 365.8 1013.4 369.0 1011.8C372.3 1010.1 375.6 1008.9 378.9 1007.7C382.2 1006.5 385.8 1005.4 388.8 1004.7C391.8 1004.0 394.3 1003.6 397.1 1003.6C399.8 1003.5 402.3 1004.0 405.3 1004.4C408.3 1004.8 412.4 1004.5 415.2 1006.0C417.9 1007.5 420.2 1010.7 421.8 1013.4C423.4 1016.2 424.4 1019.6 424.7 1022.5C425.1 1025.4 424.5 1028.5 423.8 1030.7C423.0 1032.9 420.4 1034.4 420.1 1035.7C419.8 1037.0 423.0 1037.5 422.0 1038.5C421.1 1039.5 417.3 1040.8 414.6 1041.6C412.0 1042.5 408.9 1042.9 406.0 1043.5C403.1 1044.1 400.0 1044.5 397.3 1045.3C394.7 1046.2 392.4 1047.1 389.9 1048.4C387.4 1049.8 385.0 1051.7 382.5 1053.4C380.0 1055.0 377.6 1056.7 375.1 1058.3C372.6 1060.0 369.9 1062.1 367.7 1063.3C365.4 1064.4 363.5 1065.1 361.5 1065.1C359.4 1065.1 357.4 1064.4 355.3 1063.3C353.3 1062.1 350.9 1060.4 349.1 1058.3C347.4 1056.3 346.0 1052.2 344.8 1050.9C343.6 1049.6 342.4 1052.0 341.9 1050.5Z" fill="#7b9cf0" stroke="#7b9cf0" stroke-width="0.5"/>
<path d="M352.6 1050.5C352.9 1049.4 351.5 1046.4 351.7 1043.9C352.0 1041.5 353.0 1038.3 354.2 1035.7C355.5 1033.1 357.0 1030.7 359.2 1028.3C361.4 1025.8 364.4 1023.1 367.4 1020.9C370.4 1018.7 373.7 1016.7 377.3 1015.1C380.9 1013.5 385.3 1012.1 388.8 1011.3C392.4 1010.5 395.7 1010.3 398.7 1010.1C401.7 1010.0 404.3 1009.6 406.9 1010.1C409.6 1010.7 412.2 1011.7 414.4 1013.4C416.6 1015.2 419.0 1018.5 420.1 1020.9C421.2 1023.2 421.2 1025.5 421.0 1027.4C420.7 1029.4 418.5 1031.1 418.5 1032.4C418.5 1033.7 421.2 1034.4 420.8 1035.4C420.4 1036.5 418.1 1037.7 415.9 1038.5C413.6 1039.4 410.1 1039.8 407.2 1040.4C404.3 1041.0 401.4 1041.4 398.6 1042.2C395.7 1043.1 392.6 1044.2 389.9 1045.3C387.2 1046.5 385.2 1047.6 382.5 1049.0C379.8 1050.5 376.5 1052.4 373.8 1054.0C371.2 1055.5 368.7 1057.4 366.4 1058.3C364.2 1059.2 362.3 1059.9 360.3 1059.5C358.2 1059.2 355.8 1057.9 354.1 1056.5C352.3 1055.0 350.0 1051.9 349.7 1050.9C349.5 1049.9 352.2 1051.7 352.6 1050.5Z" fill="#9370db" stroke="#9370db" stroke-width="0.5"/>
<path d="M393.8 1020.0C396.0 1019.4 399.5 1018.6 402.0 1018.9C404.5 1019.2 407.1 1020.3 408.6 1021.7C410.1 1023.1 410.9 1025.4 411.1 1027.4C411.2 1029.5 410.7 1032.3 409.4 1034.0C408.2 1035.8 406.0 1037.2 403.7 1038.2C401.3 1039.1 398.2 1039.4 395.4 1039.8C392.7 1040.2 389.9 1040.5 387.2 1040.6C384.4 1040.7 381.1 1040.7 378.9 1040.3C376.8 1039.9 374.9 1039.3 374.3 1038.2C373.8 1037.0 374.3 1035.0 375.6 1033.2C377.0 1031.4 380.0 1029.2 382.2 1027.4C384.4 1025.7 386.9 1023.7 388.8 1022.5C390.7 1021.3 391.6 1020.6 393.8 1020.0Z" fill="#e878d8" stroke="#e878d8" stroke-width="0.5"/>
<path d="M323.9 1123.3C324.7 1122.6 329.0 1122.3 332.1 1122.2C335.2 1122.1 340.3 1122.2 342.4 1122.7C344.4 1123.3 344.6 1124.2 344.4 1125.3C344.3 1126.4 342.7 1128.2 341.4 1129.4C340.0 1130.6 337.9 1132.4 336.2 1132.5C334.5 1132.7 332.6 1131.5 331.1 1130.5C329.5 1129.4 328.1 1127.5 326.9 1126.3C325.7 1125.1 323.0 1123.9 323.9 1123.3Z" fill="#b3b3b3" stroke="#b3b3b3" stroke-width="0.5"/>
<path d="M356.2 1121.1C356.5 1118.6 358.3 1115.3 360.4 1112.8C362.4 1110.4 366.1 1107.3 368.6 1106.3C371.1 1105.2 374.1 1104.1 375.2 1106.3C376.3 1108.4 375.7 1116.1 375.2 1119.4C374.6 1122.7 373.5 1124.7 371.9 1126.0C370.2 1127.4 367.5 1127.4 365.3 1127.7C363.1 1127.9 360.2 1128.8 358.7 1127.7C357.2 1126.6 356.0 1123.6 356.2 1121.1Z" fill="#b3b3b3" stroke="#b3b3b3" stroke-width="0.5"/>
<path d="M301.2 1169.6C302.4 1168.4 304.5 1167.7 306.3 1167.5C308.2 1167.4 311.2 1167.7 312.5 1168.6C313.9 1169.4 314.4 1170.5 314.6 1172.7C314.8 1174.9 314.8 1178.5 313.6 1182.0C312.4 1185.4 309.1 1189.7 307.4 1193.3C305.7 1196.9 304.6 1202.7 303.3 1203.6C301.9 1204.4 300.0 1201.9 299.1 1198.4C298.3 1195.0 298.1 1186.9 298.1 1183.0C298.1 1179.0 298.6 1177.0 299.1 1174.7C299.6 1172.5 300.0 1170.8 301.2 1169.6Z" fill="#b3b3b3" stroke="#b3b3b3" stroke-width="0.5"/>
<path d="M290.4 1135.6C290.7 1134.8 292.8 1133.6 294.0 1133.6C295.2 1133.6 297.2 1134.8 297.6 1135.6C297.9 1136.5 297.0 1138.2 296.0 1138.7C295.1 1139.2 292.9 1139.2 291.9 1138.7C291.0 1138.2 290.0 1136.5 290.4 1135.6Z" fill="#b3b3b3" stroke="#b3b3b3" stroke-width="0.5"/>
<path d="M369.3 1255.4C373.1 1253.9 386.9 1252.1 392.3 1252.1C397.8 1252.1 400.3 1254.2 402.2 1255.4C404.2 1256.7 404.7 1258.3 403.9 1259.5C403.1 1260.8 398.7 1261.5 397.3 1262.8C395.9 1264.2 396.7 1266.7 395.6 1267.8C394.5 1268.9 392.9 1269.4 390.7 1269.4C388.5 1269.4 385.2 1268.6 382.5 1267.8C379.7 1267.0 376.4 1265.6 374.2 1264.5C372.0 1263.4 370.1 1262.7 369.3 1261.2C368.5 1259.7 365.4 1256.9 369.3 1255.4Z" fill="#b3b3b3" stroke="#b3b3b3" stroke-width="0.5"/>
<path d="M428.6 1267.8C430.0 1266.1 434.5 1264.2 437.0 1264.5C439.5 1264.8 442.6 1266.4 443.4 1269.4C444.2 1272.5 442.8 1279.9 441.8 1282.6C440.7 1285.4 438.6 1286.2 437.0 1285.9C435.4 1285.6 433.3 1282.9 431.9 1281.0C430.5 1279.0 429.1 1276.6 428.6 1274.4C428.0 1272.2 427.2 1269.4 428.6 1267.8Z" fill="#b3b3b3" stroke="#b3b3b3" stroke-width="0.5"/>
<path d="M467.5 1300.7C468.4 1300.1 471.5 1300.1 472.4 1301.1C473.3 1302.0 473.5 1305.4 472.9 1306.5C472.4 1307.6 470.1 1307.9 469.1 1307.7C468.1 1307.4 467.3 1306.0 467.0 1304.9C466.7 1303.7 466.6 1301.4 467.5 1300.7Z" fill="#b3b3b3" stroke="#b3b3b3" stroke-width="0.5"/>
<path d="M483.1 1298.3C484.5 1297.4 489.9 1296.6 491.4 1297.4C492.9 1298.3 493.0 1302.0 492.2 1303.2C491.4 1304.4 487.9 1305.0 486.4 1304.9C484.9 1304.7 483.7 1303.5 483.1 1302.4C482.6 1301.3 481.8 1299.1 483.1 1298.3Z" fill="#b3b3b3" stroke="#b3b3b3" stroke-width="0.5"/>
<path d="M519.4 1285.1C520.9 1284.0 527.2 1282.5 529.3 1282.6C531.3 1282.8 532.3 1284.7 531.7 1285.9C531.2 1287.1 527.9 1289.5 526.0 1290.0C524.1 1290.6 521.3 1290.0 520.2 1289.2C519.1 1288.4 517.9 1286.2 519.4 1285.1Z" fill="#b3b3b3" stroke="#b3b3b3" stroke-width="0.5"/>
<path d="M537.4 1100.5C538.3 1098.8 543.5 1099.8 544.8 1101.3C546.1 1102.8 546.1 1107.9 545.1 1109.5C544.2 1111.2 540.3 1112.7 539.0 1111.2C537.7 1109.7 536.4 1102.1 537.4 1100.5Z" fill="#b3b3b3" stroke="#b3b3b3" stroke-width="0.5"/>
<path d="M537.4 1140.9C539.0 1139.8 546.2 1138.9 548.1 1140.9C550.0 1142.8 550.0 1150.3 548.9 1152.4C547.8 1154.4 543.3 1154.0 541.5 1153.2C539.7 1152.4 538.9 1149.5 538.2 1147.4C537.5 1145.4 535.7 1142.0 537.4 1140.9Z" fill="#b3b3b3" stroke="#b3b3b3" stroke-width="0.5"/>
<path d="M427.3 1264.4C429.2 1262.8 435.4 1262.0 437.6 1263.4C439.8 1264.7 440.7 1269.9 440.7 1272.6C440.7 1275.4 439.5 1278.8 437.6 1279.8C435.7 1280.9 431.2 1280.0 429.4 1278.8C427.5 1277.6 426.6 1275.0 426.3 1272.6C425.9 1270.2 425.4 1265.9 427.3 1264.4Z" fill="#b3b3b3" stroke="#b3b3b3" stroke-width="0.5"/>
<path d="M417.0 1063.7L423.6 1062.9L430.2 1064.5L436.8 1063.7L443.4 1062.0L450.0 1063.7L456.5 1066.2L463.1 1069.5L468.1 1072.8L473.0 1073.6L478.0 1071.9L482.9 1072.8L487.9 1071.1L490.3 1068.6L492.8 1071.9L492.0 1078.5L493.6 1085.1L497.7 1083.5L502.7 1081.0L509.3 1082.6L515.9 1086.8L520.8 1090.9L524.1 1094.2L529.0 1091.7L534.0 1094.2L537.3 1098.3L516.8 1086.5L521.7 1089.8L528.3 1089.8L533.3 1091.4L536.5 1096.4L537.4 1103.0L535.7 1109.5L536.5 1116.1L540.7 1121.1L542.3 1127.7L543.1 1134.3L538.2 1137.6L533.3 1139.2L529.1 1142.5L534.9 1145.0L536.5 1150.7L540.7 1154.0L546.4 1157.3L551.4 1160.6L555.5 1164.7L558.8 1170.5L560.4 1177.1L559.6 1185.3L560.4 1191.9L562.9 1196.9L567.9 1197.7L566.2 1203.5L563.7 1208.4L562.9 1215.0L561.3 1218.3L558.0 1223.2L554.7 1226.5L551.4 1230.0L558.9 1220.0L555.6 1224.9L552.3 1228.2L554.8 1234.0L552.3 1239.8L547.4 1243.9L542.5 1248.0L538.3 1252.1L537.5 1257.1L535.9 1262.0L533.4 1266.1L529.3 1269.4L526.0 1272.7L529.3 1276.0L526.8 1280.1L522.7 1283.4L517.7 1286.7L512.8 1289.2L507.9 1291.7L502.9 1294.2L498.8 1297.4L493.8 1296.1L488.1 1296.6L483.1 1297.4L478.2 1298.3L473.3 1297.4L467.5 1299.9L461.7 1299.1L455.1 1296.6L450.2 1297.4L443.6 1296.6L438.6 1295.0L436.6 1291.2L434.5 1286.0L437.6 1280.9L440.7 1275.7L442.7 1269.5L441.7 1262.3L438.6 1257.2L434.5 1255.1L437.0 1252.1L431.9 1254.6L425.3 1255.4L418.7 1254.6L412.1 1253.8L405.5 1252.1L398.9 1250.5L392.3 1251.3L385.8 1253.8L379.2 1252.1L372.6 1254.6L366.0 1255.4L359.4 1251.3L352.8 1248.0L347.9 1243.1L342.9 1244.7L338.0 1243.1L333.8 1238.1L331.4 1233.2L328.1 1226.6L325.6 1220.0L330.7 1218.3L329.0 1211.7L327.4 1205.1L326.6 1198.5L324.1 1201.8L320.0 1205.1L315.9 1207.6L312.6 1205.1L309.3 1200.2L306.8 1195.2L310.1 1191.1L311.5 1180.0L312.5 1176.8L313.6 1172.7L314.1 1168.6L315.1 1164.4L313.6 1160.3L314.6 1156.2L312.5 1154.2L309.4 1155.7L305.3 1155.2L300.7 1153.1L297.6 1151.1L298.1 1146.9L295.0 1143.9L294.0 1140.8L296.0 1137.7L299.1 1135.6L297.1 1132.5L294.0 1130.5L291.9 1131.5L288.8 1132.5L285.7 1130.5L284.7 1126.3L282.1 1122.2L280.1 1118.1L278.0 1114.0L275.4 1111.9L274.9 1107.8L276.5 1103.7L277.5 1098.5L277.0 1094.4L278.5 1090.3L281.1 1089.3L284.2 1089.8L283.7 1093.4L285.7 1096.5L285.2 1100.6L284.2 1104.2L287.8 1107.8L293.0 1110.9L298.1 1114.0L303.3 1117.6L307.4 1120.2L312.5 1122.2L317.7 1125.3L323.9 1128.4L330.0 1131.5L335.2 1134.6L338.3 1136.1L342.4 1134.6L347.5 1133.0L352.7 1131.5L360.0 1130.5L365.3 1128.5L371.9 1126.0L373.5 1119.4L375.2 1112.8L377.0 1109.5L377.7 1099.4L379.7 1093.2L383.8 1087.0L388.0 1080.9L392.1 1074.7L396.2 1070.6L402.4 1067.5L408.6 1064.4L417.0 1061.3Z" fill="#bebebe" stroke="#000" stroke-width="2.3" stroke-linejoin="round"/>
<path d="M155.3 1067.8L157.8 1072.7L162.1 1075.8L167.1 1075.2L170.2 1071.5L173.9 1072.1L177.0 1075.8L178.8 1080.8L180.7 1084.5L184.4 1087.0L185.6 1091.3L189.3 1094.4L194.3 1095.6L199.2 1096.2L204.2 1097.5L209.1 1096.2L214.0 1093.1L218.4 1090.1L219.6 1092.5L218.4 1096.8L219.0 1101.8L216.5 1105.5L213.4 1109.2L210.3 1112.9L205.4 1115.4L200.4 1117.2L195.5 1119.7L190.6 1121.6L185.6 1120.9L180.7 1119.1L175.7 1117.9L170.8 1118.5L165.8 1116.0L160.9 1114.2L159.7 1111.7L154.7 1109.2L152.9 1113.5L149.8 1110.4L146.1 1107.4L143.0 1104.3L142.4 1101.8L134.9 1099.3L137.4 1077.1Z" fill="#bebebe" stroke="#000" stroke-width="1.6" stroke-linejoin="round"/>
<path d="M208.5 1062.9L210.3 1058.5L212.2 1054.8L215.3 1054.6L215.9 1058.5L214.0 1062.2L211.6 1064.1L209.1 1064.7Z" fill="#bebebe" stroke="#000" stroke-width="1.6" stroke-linejoin="round"/>
<path d="M655.0 1091.0L658.0 1089.0L660.0 1093.0L657.0 1096.0Z" fill="#bebebe" stroke="#000" stroke-width="1.6" stroke-linejoin="round"/>
<path d="M462.0 1466.0L464.0 1455.0L470.0 1449.0L474.0 1447.0L475.0 1444.0L476.0 1448.0L480.0 1452.0L483.0 1458.0L481.0 1468.0L470.0 1474.0Z" fill="#bebebe" stroke="#000" stroke-width="1.6" stroke-linejoin="round"/>
<path d="M403.4 1205.7L400.3 1207.7L400.3 1217.0L398.3 1225.3L392.1 1229.4L385.9 1230.4L389.0 1234.5L385.9 1241.7L388.0 1247.9L394.1 1251.0L400.3 1250.0L408.6 1253.1L417.0 1254.1L423.2 1254.1L429.4 1255.7L434.5 1253.1L438.6 1247.9L437.6 1240.7L434.5 1233.5L429.4 1226.3L423.2 1222.2L417.0 1220.1L417.0 1216.0L412.7 1212.9L408.6 1209.8Z" fill="#fff" stroke="#000" stroke-width="1.5" stroke-linejoin="round"/>
<path d="M338.3 1136.6L342.4 1135.1L347.5 1133.6L352.7 1132.0L360.0 1131.0L364.0 1130.3L364.0 1133.6L360.0 1137.7L356.8 1138.7L352.7 1140.8L349.6 1143.9L347.5 1148.0L345.5 1151.1L343.4 1146.9L341.4 1141.8L339.3 1138.7Z" fill="#fff" stroke="#000" stroke-width="1.5" stroke-linejoin="round"/>
<path d="M284.2 1106.8L287.8 1108.3L293.0 1111.4L298.1 1114.5L303.3 1118.1L305.3 1120.7L303.3 1123.3L299.6 1125.3L296.0 1124.8L293.0 1125.3L290.9 1122.2L289.4 1119.1L287.3 1116.0L285.7 1111.9Z" fill="#fff" stroke="#000" stroke-width="1.5" stroke-linejoin="round"/>
<path d="M294.0 1140.8L297.1 1138.2L303.3 1137.7L309.4 1138.2L315.6 1139.2L320.2 1141.8L321.8 1145.9L320.8 1152.1L318.7 1155.2L316.1 1152.1L317.2 1146.9L315.6 1142.8L311.5 1140.8L306.3 1141.3L303.3 1142.8L305.3 1146.9L306.3 1151.1L303.3 1152.1L300.7 1150.0L299.1 1146.9L296.0 1143.9Z" fill="#fff" stroke="#000" stroke-width="1.5" stroke-linejoin="round"/>
<path d="M342.9 1235.7L347.9 1234.0L350.3 1239.8L346.2 1243.1Z" fill="#fff" stroke="#000" stroke-width="1.5" stroke-linejoin="round"/>
<path d="M374.2 1250.5L377.5 1247.2L382.5 1248.0L384.1 1252.1L379.2 1253.0Z" fill="#fff" stroke="#000" stroke-width="1.5" stroke-linejoin="round"/>
<path d="M270.8 1090.8L270.3 1100.6L272.9 1099.1L276.0 1100.1" fill="none" stroke="#000" stroke-width="1.5" stroke-linejoin="round" stroke-linecap="round"/>
<path d="M264.1 1094.4L267.2 1096.0" fill="none" stroke="#000" stroke-width="1.2" stroke-linejoin="round" stroke-linecap="round"/>
<path d="M417.0 966.5C418.6 966.6 423.6 966.8 426.9 967.0C430.2 967.1 433.5 967.3 436.8 967.3C440.1 967.3 443.9 967.2 446.7 967.0C449.4 966.7 451.1 966.0 453.3 965.7C455.4 965.3 457.9 964.8 459.8 964.8C461.8 964.8 463.1 965.0 464.8 965.7C466.4 966.3 468.1 967.4 469.7 968.9C471.4 970.5 473.0 972.9 474.7 974.7C476.3 976.5 477.7 978.3 479.6 979.7C481.5 981.0 484.1 982.0 486.2 983.0C488.3 983.9 490.5 984.3 492.0 985.4C493.5 986.5 494.6 987.8 495.3 989.5C496.0 991.3 495.8 993.9 496.1 996.1C496.4 998.3 496.4 1000.7 496.9 1002.7C497.5 1004.8 498.2 1006.7 499.4 1008.5C500.6 1010.3 502.4 1012.1 504.3 1013.4C506.3 1014.8 508.7 1015.8 510.9 1016.7C513.1 1017.7 515.6 1018.2 517.5 1019.2C519.4 1020.2 520.5 1020.9 522.5 1022.5C524.4 1024.2 526.9 1026.9 529.0 1029.1C531.2 1031.3 533.4 1033.4 535.6 1035.7C537.8 1038.0 540.0 1040.6 542.2 1043.1C544.4 1045.6 546.4 1047.9 548.8 1050.5C551.3 1053.1 554.3 1056.0 557.1 1058.8C559.8 1061.5 562.8 1064.5 565.3 1067.0C567.8 1069.5 570.4 1072.3 571.9 1073.6C573.4 1074.9 573.2 1073.6 574.4 1074.9C575.7 1076.3 578.0 1079.3 579.4 1081.5C580.8 1083.7 581.4 1085.4 582.7 1088.1C583.9 1090.9 585.4 1095.0 586.8 1098.0C588.2 1101.0 589.4 1103.5 590.9 1106.3C592.4 1109.0 593.9 1112.0 595.9 1114.5C597.8 1117.0 600.3 1118.9 602.5 1121.1C604.7 1123.3 607.1 1125.5 609.0 1127.7C611.0 1129.9 613.0 1132.1 614.0 1134.3C615.0 1136.5 614.4 1138.7 614.8 1140.9C615.2 1143.1 615.9 1145.2 616.5 1147.4C617.0 1149.6 618.2 1151.8 618.1 1154.0C618.0 1156.2 616.9 1158.6 615.6 1160.6C614.4 1162.7 612.3 1164.7 610.7 1166.4C609.0 1168.0 606.9 1168.7 605.8 1170.5C604.7 1172.3 604.4 1174.6 604.1 1177.1C603.8 1179.6 604.0 1182.6 604.1 1185.3C604.2 1188.1 604.7 1190.8 604.9 1193.6C605.2 1196.3 605.8 1199.1 605.8 1201.8C605.8 1204.6 605.5 1207.6 604.9 1210.1C604.4 1212.5 603.4 1214.5 602.5 1216.7C601.5 1218.8 600.3 1221.0 599.2 1223.2C598.1 1225.5 596.8 1228.3 595.9 1230.0C594.9 1231.7 594.8 1231.3 593.5 1233.2C592.3 1235.1 590.5 1238.7 588.6 1241.4C586.7 1244.2 583.9 1247.2 582.0 1249.7C580.1 1252.1 578.7 1254.1 577.1 1256.3C575.4 1258.4 573.8 1260.4 572.1 1262.8C570.5 1265.3 569.1 1268.9 567.2 1271.1C565.3 1273.3 563.1 1274.4 560.6 1276.0C558.1 1277.7 555.1 1279.0 552.3 1281.0C549.6 1282.9 546.3 1285.4 544.1 1287.6C541.9 1289.8 540.5 1291.7 539.2 1294.2C537.8 1296.6 537.5 1299.8 535.9 1302.4C534.2 1305.0 531.7 1307.3 529.3 1309.8C526.8 1312.3 523.8 1314.6 521.0 1317.2C518.3 1319.8 515.3 1323.0 512.8 1325.5C510.3 1327.9 507.9 1330.0 506.2 1332.0C504.6 1334.1 504.8 1336.3 502.9 1337.8C501.0 1339.3 497.4 1340.3 494.7 1341.1C491.9 1341.9 489.2 1341.9 486.4 1342.8C483.7 1343.6 480.9 1345.1 478.2 1346.1C475.4 1347.0 473.0 1348.0 470.0 1348.5C466.9 1349.1 463.4 1349.4 460.1 1349.4C456.8 1349.4 453.2 1348.8 450.2 1348.5C447.2 1348.3 444.1 1347.9 441.9 1347.7C439.7 1347.5 439.2 1347.8 437.0 1347.2C434.8 1346.7 431.4 1345.1 428.6 1344.4C425.8 1343.7 423.1 1343.2 420.4 1342.8C417.6 1342.3 414.9 1341.9 412.1 1341.9C409.4 1341.9 406.6 1342.3 403.9 1342.8C401.1 1343.2 398.7 1344.0 395.6 1344.4C392.6 1344.8 389.0 1345.2 385.8 1345.2C382.5 1345.2 379.2 1345.0 375.9 1344.4C372.6 1343.9 369.3 1342.8 366.0 1341.9C362.7 1341.1 359.4 1339.9 356.1 1339.5C352.8 1339.1 349.2 1339.3 346.2 1339.5C343.2 1339.6 340.7 1339.9 338.0 1340.3C335.2 1340.7 332.5 1341.8 329.7 1341.9C327.0 1342.1 324.0 1341.9 321.5 1341.1C319.0 1340.3 316.8 1338.8 314.9 1337.0C313.0 1335.2 311.6 1332.9 310.0 1330.4C308.3 1327.9 306.4 1324.9 305.0 1322.2C303.6 1319.4 302.7 1316.9 301.7 1313.9C300.8 1310.9 300.1 1307.3 299.2 1304.0C298.4 1300.7 297.6 1297.4 296.8 1294.2C295.9 1290.9 294.9 1286.6 294.3 1284.3C293.7 1281.9 294.4 1284.2 293.2 1280.0C292.0 1275.8 289.1 1265.5 287.1 1258.9C285.0 1252.3 282.8 1246.5 280.9 1240.3C278.9 1234.2 277.1 1228.0 275.3 1221.8C273.6 1215.6 272.1 1209.8 270.4 1203.3C268.6 1196.7 266.4 1189.5 264.8 1182.2C263.3 1175.0 262.1 1165.0 261.1 1160.0C260.1 1155.0 259.4 1155.3 259.0 1152.4C258.6 1149.5 258.7 1145.8 258.5 1142.5C258.3 1139.2 258.1 1135.9 257.9 1132.6C257.7 1129.3 257.4 1126.0 257.4 1122.7C257.4 1119.4 257.9 1116.1 257.9 1112.8C257.9 1109.5 257.3 1106.0 257.4 1103.0C257.4 1099.9 257.6 1097.5 258.2 1094.7C258.7 1092.0 259.8 1089.2 260.7 1086.5C261.5 1083.7 262.2 1081.0 263.1 1078.2C264.1 1075.5 265.9 1072.1 266.4 1070.0C266.9 1067.9 266.0 1067.2 266.1 1065.3C266.1 1063.5 266.3 1060.7 266.9 1058.8C267.4 1056.8 268.1 1055.5 269.4 1053.8C270.6 1052.2 273.1 1050.5 274.3 1048.9C275.5 1047.2 275.8 1045.7 276.8 1043.9C277.7 1042.1 278.7 1039.9 280.1 1038.2C281.4 1036.4 283.2 1034.9 285.0 1033.2C286.8 1031.6 289.3 1030.3 290.8 1028.3C292.3 1026.2 292.6 1022.9 294.1 1020.9C295.6 1018.8 297.8 1017.6 299.8 1015.9C301.9 1014.3 304.4 1012.9 306.4 1011.0C308.5 1009.0 310.8 1006.4 312.2 1004.4C313.6 1002.3 313.6 1000.3 314.7 998.6C315.8 997.0 317.1 995.5 318.8 994.5C320.4 993.5 322.5 992.7 324.6 992.5C326.6 992.3 329.0 992.6 331.2 993.2C333.3 993.7 335.5 995.6 337.7 995.8C339.9 996.0 341.9 995.3 344.3 994.5C346.8 993.7 349.6 992.4 352.6 991.2C355.6 990.0 359.2 988.4 362.5 987.1C365.8 985.7 369.0 984.3 372.3 983.0C375.6 981.6 378.7 980.5 382.2 978.8C385.8 977.2 389.9 974.7 393.8 973.1C397.6 971.4 401.4 970.0 405.3 968.9C409.2 967.9 415.1 966.9 417.0 966.5C418.9 966.1 415.4 966.4 417.0 966.5Z" fill="none" stroke="#000" stroke-width="3.4" stroke-linejoin="round"/>
<g fill="none" stroke="#111" stroke-width="1.65" stroke-dasharray="4.6 4.7">
<circle cx="417.0" cy="1182.4" r="184.7"/>
<circle cx="417.0" cy="1182.4" r="90.7"/>
<path d="M417.0 1182.4 L417.0 896.9"/>
<path d="M462.4 1103.9 L559.8 935.1"/>
<path d="M495.5 1137.1 L664.3 1039.7"/>
<path d="M417.0 1182.4 L702.5 1182.4"/>
<path d="M495.5 1227.8 L664.3 1325.2"/>
<path d="M462.4 1260.9 L559.8 1429.7"/>
<path d="M417.0 1182.4 L417.0 1467.9"/>
<path d="M371.6 1260.9 L274.2 1429.7"/>
<path d="M338.5 1227.8 L169.7 1325.2"/>
<path d="M417.0 1182.4 L131.5 1182.4"/>
<path d="M338.5 1137.1 L169.7 1039.7"/>
<path d="M371.6 1103.9 L274.2 935.1"/>
</g>
</g>
<circle cx="417.0" cy="1182.4" r="285.5" fill="none" stroke="#000" stroke-width="1.6"/>
<rect x="754.0" y="693.4" width="34.2" height="37.3" fill="#e878d8" stroke="#000" stroke-width="1.4"/>
<rect x="754.0" y="656.1" width="34.2" height="37.3" fill="#9370db" stroke="#000" stroke-width="1.4"/>
<rect x="754.0" y="618.8" width="34.2" height="37.3" fill="#7b9cf0" stroke="#000" stroke-width="1.4"/>
<rect x="754.0" y="581.5" width="34.2" height="37.3" fill="#4169e1" stroke="#000" stroke-width="1.4"/>
<rect x="754.0" y="544.2" width="34.2" height="37.3" fill="#0000cd" stroke="#000" stroke-width="1.4"/>
<rect x="754.0" y="506.9" width="34.2" height="37.3" fill="#006400" stroke="#000" stroke-width="1.4"/>
<rect x="754.0" y="469.6" width="34.2" height="37.3" fill="#228b22" stroke="#000" stroke-width="1.4"/>
<rect x="754.0" y="432.3" width="34.2" height="37.3" fill="#ffe600" stroke="#000" stroke-width="1.4"/>
<rect x="754.0" y="395.0" width="34.2" height="37.3" fill="#ffc800" stroke="#000" stroke-width="1.4"/>
<rect x="754.0" y="357.7" width="34.2" height="37.3" fill="#ff9900" stroke="#000" stroke-width="1.4"/>
<rect x="754.0" y="320.4" width="34.2" height="37.3" fill="#ff6600" stroke="#000" stroke-width="1.4"/>
<rect x="754.0" y="283.1" width="34.2" height="37.3" fill="#ff3200" stroke="#000" stroke-width="1.4"/>
<rect x="754.0" y="245.8" width="34.2" height="37.3" fill="#dc2814" stroke="#000" stroke-width="1.4"/>
<rect x="754.0" y="208.5" width="34.2" height="37.3" fill="#8b0000" stroke="#000" stroke-width="1.4"/>
<rect x="754.0" y="171.2" width="34.2" height="37.3" fill="#b3b3b3" stroke="#000" stroke-width="1.4"/>
<text transform="translate(809.7,701.8) scale(1,1.08)" text-anchor="middle" font-size="22.6" stroke="#000" stroke-width="0.3">5</text>
<text transform="translate(809.7,664.5) scale(1,1.08)" text-anchor="middle" font-size="22.6" stroke="#000" stroke-width="0.3">10</text>
<text transform="translate(809.7,627.2) scale(1,1.08)" text-anchor="middle" font-size="22.6" stroke="#000" stroke-width="0.3">15</text>
<text transform="translate(809.7,589.9) scale(1,1.08)" text-anchor="middle" font-size="22.6" stroke="#000" stroke-width="0.3">20</text>
<text transform="translate(809.7,552.6) scale(1,1.08)" text-anchor="middle" font-size="22.6" stroke="#000" stroke-width="0.3">30</text>
<text transform="translate(809.7,515.3) scale(1,1.08)" text-anchor="middle" font-size="22.6" stroke="#000" stroke-width="0.3">40</text>
<text transform="translate(809.7,478.0) scale(1,1.08)" text-anchor="middle" font-size="22.6" stroke="#000" stroke-width="0.3">50</text>
<text transform="translate(809.7,440.7) scale(1,1.08)" text-anchor="middle" font-size="22.6" stroke="#000" stroke-width="0.3">60</text>
<text transform="translate(809.7,403.4) scale(1,1.08)" text-anchor="middle" font-size="22.6" stroke="#000" stroke-width="0.3">70</text>
<text transform="translate(809.7,366.1) scale(1,1.08)" text-anchor="middle" font-size="22.6" stroke="#000" stroke-width="0.3">80</text>
<text transform="translate(809.7,328.8) scale(1,1.08)" text-anchor="middle" font-size="22.6" stroke="#000" stroke-width="0.3">85</text>
<text transform="translate(809.7,291.5) scale(1,1.08)" text-anchor="middle" font-size="22.6" stroke="#000" stroke-width="0.3">90</text>
<text transform="translate(809.7,254.2) scale(1,1.08)" text-anchor="middle" font-size="22.6" stroke="#000" stroke-width="0.3">95</text>
<text transform="translate(809.7,216.9) scale(1,1.08)" text-anchor="middle" font-size="22.6" stroke="#000" stroke-width="0.3">99</text>
<rect x="754.0" y="1424.8" width="34.2" height="37.3" fill="#e878d8" stroke="#000" stroke-width="1.4"/>
<rect x="754.0" y="1387.5" width="34.2" height="37.3" fill="#9370db" stroke="#000" stroke-width="1.4"/>
<rect x="754.0" y="1350.2" width="34.2" height="37.3" fill="#7b9cf0" stroke="#000" stroke-width="1.4"/>
<rect x="754.0" y="1312.9" width="34.2" height="37.3" fill="#4169e1" stroke="#000" stroke-width="1.4"/>
<rect x="754.0" y="1275.6" width="34.2" height="37.3" fill="#0000cd" stroke="#000" stroke-width="1.4"/>
<rect x="754.0" y="1238.3" width="34.2" height="37.3" fill="#006400" stroke="#000" stroke-width="1.4"/>
<rect x="754.0" y="1201.0" width="34.2" height="37.3" fill="#228b22" stroke="#000" stroke-width="1.4"/>
<rect x="754.0" y="1163.7" width="34.2" height="37.3" fill="#ffe600" stroke="#000" stroke-width="1.4"/>
<rect x="754.0" y="1126.4" width="34.2" height="37.3" fill="#ffc800" stroke="#000" stroke-width="1.4"/>
<rect x="754.0" y="1089.1" width="34.2" height="37.3" fill="#ff9900" stroke="#000" stroke-width="1.4"/>
<rect x="754.0" y="1051.8" width="34.2" height="37.3" fill="#ff6600" stroke="#000" stroke-width="1.4"/>
<rect x="754.0" y="1014.5" width="34.2" height="37.3" fill="#ff3200" stroke="#000" stroke-width="1.4"/>
<rect x="754.0" y="977.2" width="34.2" height="37.3" fill="#dc2814" stroke="#000" stroke-width="1.4"/>
<rect x="754.0" y="939.9" width="34.2" height="37.3" fill="#8b0000" stroke="#000" stroke-width="1.4"/>
<rect x="754.0" y="902.6" width="34.2" height="37.3" fill="#b3b3b3" stroke="#000" stroke-width="1.4"/>
<text transform="translate(809.7,1433.2) scale(1,1.08)" text-anchor="middle" font-size="22.6" stroke="#000" stroke-width="0.3">5</text>
<text transform="translate(809.7,1395.9) scale(1,1.08)" text-anchor="middle" font-size="22.6" stroke="#000" stroke-width="0.3">10</text>
<text transform="translate(809.7,1358.6) scale(1,1.08)" text-anchor="middle" font-size="22.6" stroke="#000" stroke-width="0.3">15</text>
<text transform="translate(809.7,1321.3) scale(1,1.08)" text-anchor="middle" font-size="22.6" stroke="#000" stroke-width="0.3">20</text>
<text transform="translate(809.7,1284.0) scale(1,1.08)" text-anchor="middle" font-size="22.6" stroke="#000" stroke-width="0.3">30</text>
<text transform="translate(809.7,1246.7) scale(1,1.08)" text-anchor="middle" font-size="22.6" stroke="#000" stroke-width="0.3">40</text>
<text transform="translate(809.7,1209.4) scale(1,1.08)" text-anchor="middle" font-size="22.6" stroke="#000" stroke-width="0.3">50</text>
<text transform="translate(809.7,1172.1) scale(1,1.08)" text-anchor="middle" font-size="22.6" stroke="#000" stroke-width="0.3">60</text>
<text transform="translate(809.7,1134.8) scale(1,1.08)" text-anchor="middle" font-size="22.6" stroke="#000" stroke-width="0.3">70</text>
<text transform="translate(809.7,1097.5) scale(1,1.08)" text-anchor="middle" font-size="22.6" stroke="#000" stroke-width="0.3">80</text>
<text transform="translate(809.7,1060.2) scale(1,1.08)" text-anchor="middle" font-size="22.6" stroke="#000" stroke-width="0.3">85</text>
<text transform="translate(809.7,1022.9) scale(1,1.08)" text-anchor="middle" font-size="22.6" stroke="#000" stroke-width="0.3">90</text>
<text transform="translate(809.7,985.6) scale(1,1.08)" text-anchor="middle" font-size="22.6" stroke="#000" stroke-width="0.3">95</text>
<text transform="translate(809.7,948.3) scale(1,1.08)" text-anchor="middle" font-size="22.6" stroke="#000" stroke-width="0.3">99</text>
</svg>
</body></html>
